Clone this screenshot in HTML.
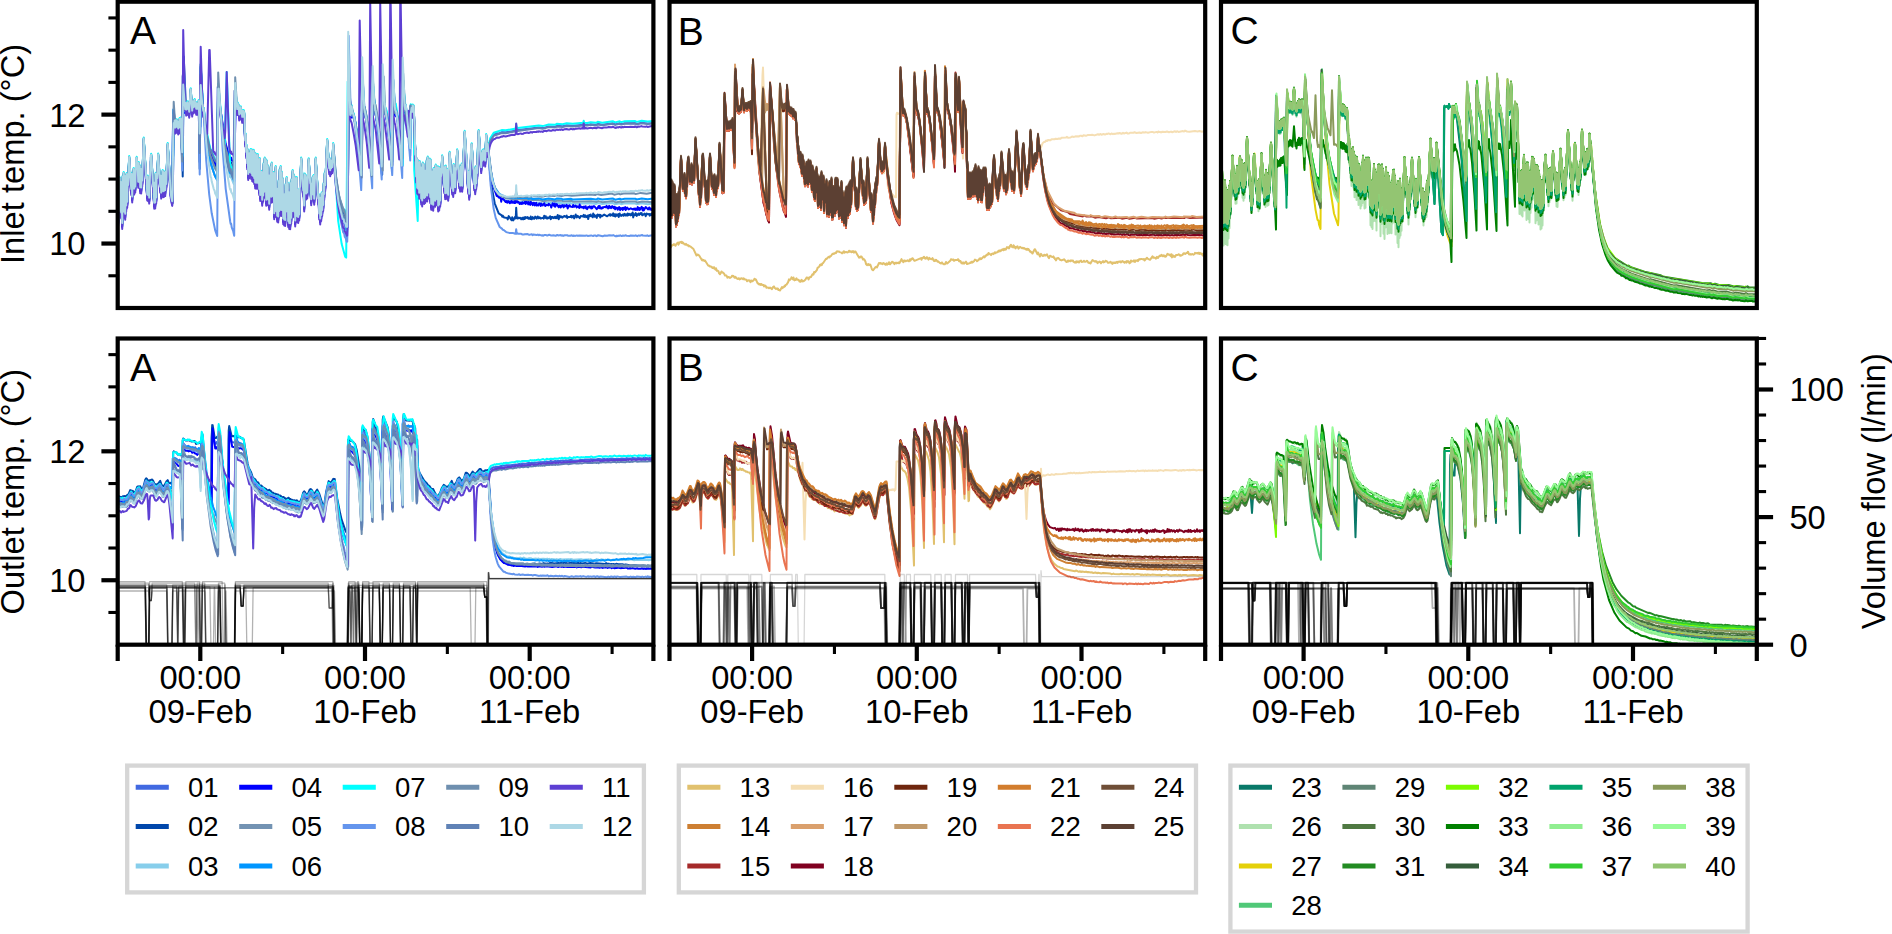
<!DOCTYPE html>
<html><head><meta charset="utf-8"><title>Inlet / outlet temperatures and volume flow</title>
<style>
html,body{margin:0;padding:0;background:#fff;overflow:hidden;}
svg{display:block;}
text{font-family:"Liberation Sans", sans-serif;fill:#000;}
</style></head><body>
<svg width="1892" height="934" viewBox="0 0 1892 934">
<rect width="1892" height="934" fill="#fff"/>
<defs>
<clipPath id="c00"><rect x="1177" y="17" width="5357" height="3063"/></clipPath>
<clipPath id="c01"><rect x="1177" y="3385" width="5357" height="3062"/></clipPath>
<clipPath id="c10"><rect x="6695" y="17" width="5357" height="3063"/></clipPath>
<clipPath id="c11"><rect x="6695" y="3385" width="5357" height="3062"/></clipPath>
<clipPath id="c20"><rect x="12210" y="17" width="5358" height="3063"/></clipPath>
<clipPath id="c21"><rect x="12210" y="3385" width="5358" height="3062"/></clipPath>
</defs>
<g transform="scale(0.1)">
<g clip-path="url(#c00)" fill="none" stroke-linejoin="round" stroke-linecap="butt">
<path d="M1177 1937l5 284 5-372 5 248 5-295 5 325 5-290 5 307 5-236 5 343 5-465 5 311 5-346 5 387 5-363 5 383 5-361 5 277 5-314 5 277 20-447 20 320 5-149 5 225 5-226 5 142 5-193 5 197 5-165 5 145 15-288 15 240 5-188 5 190 5-161 5 214 5-186 5 187 5-116 5 47 15-420 35 560 5-180 5 187 5-142 5 166 20-428 30 480 5-203 5 200 5-287 5 238 20-430 20 320 5-108 5 168 5-168 5 99 5-146 5 202 5-191 5 185 5-167 5 161 5-183 5 121 15-399 40 544 15-869 20 161 5-73 5 64 5-65 5 66 5-53 5 69 5-53 5 43 5-85 5 51 5-54 15 364 10-792 20 333 5-62 5 67 5-64 5 35 5-44 15 95 15-226 15 214 5-91 5 58 5-60 5 54 5-66 5 58 5-28 5 56 5-53 5 54 5-54 5 50 5-74 10 589 10-758 15 200 50 324 30 128 5-4 40 101 20 20 10-761 60 535 55 222 5 13 5-13 35 80 10-799 15 164 5-15 5 55 5-57 5 49 5-27 5 89 5-49 5 39 5-63 15 96 5-55 5 55 5-59 5 23 10 273 5-60 5 175 5-63 5 175 5-133 5 241 5-161 5 143 5-193 5 178 5-208 5 230 5-227 5 250 5-209 5 218 5-253 5 273 5-246 5 290 5-279 5 282 5-267 5 254 5-266 5 283 5-200 5 257 5-300 5 361 5-236 5 232 5-226 5 277 5-275 5 234 5-318 5 279 5-331 5 243 5-230 5 398 5-385 5 309 5-262 5 336 5-242 5 285 5-252 5 165 5-282 5 299 5-334 5 267 5-163 5 226 5-234 5 402 5-399 5 272 5-334 5 441 5-227 5 272 5-259 5 266 5-354 5 301 5-412 5 333 5-363 5 432 5-376 5 362 5-297 5 392 5-218 5 231 5-255 5 261 5-356 5 270 5-335 5 298 5-242 5 374 5-291 5 311 5-261 5 264 5-404 5 348 5-381 5 316 5-401 5 290 5-248 5 363 5-342 5 432 5-322 5 208 5-313 5 383 5-265 5 272 5-225 5 201 20-560 20 320 5-41 5 190 5-310 5 178 5-165 5 177 5-160 5 150 15-332 25 400 15-216 5 168 5-183 5 226 15-402 25 400 5-35 5 184 5-141 5 191 5-208 5 174 5-216 5 165 5-172 5 122 5-212 5 104 5-207 5 117 20-451 20 282 5-93 5 113 5-98 5 79 5-68 5 56 10-231 25 349 30 230 40 173 10 8 25 77 10 1 15-1593 20 424 5 29 5-76 5 52 20 29 40 209 35 269 10-856 20 344 15 39 25 157 30 294 10-808 15 235 35 210 40 483 10-1011 25 411 5-23 15 68 50 475 10-746 20 227 10-25 15 71 45 386 10-770 20 311 5-10 15 98 25 245 10-380 15 57 5-49 5 57 5-45 25 699 5-179 5 292 5-276 5 285 5-225 5 265 5-308 5 223 5-169 5 312 5-251 5 270 5-369 5 248 5-236 5 333 5-276 5 265 5-254 5 214 5-318 5 344 5-379 5 339 5-309 5 322 5-333 5 376 5-367 5 433 5-300 5 300 5-325 5 336 5-358 5 223 5-225 5 319 5-353 5 334 5-282 5 287 5-320 5 383 5-378 5 366 5-358 5 320 20-444 20 308 5-197 5 260 5-269 5 221 5-151 5 199 5-236 5 251 15-420 25 356 5-140 5 165 5-258 5 196 5-167 5 193 20-371 20 320 5-113 5 147 5-189 5 161 5-182 5 212 25-541 35 560 5-157 5 218 25-495 25 400 5-114 5 153 5-205 5 155 25-522 25 361 5-142 5 77 5-98 5 90 5-95 5 81 5-58 5 80 10-256 10 160 5-69 5 51 20-105 35-59 30-16 25 2 25-13 40 2 90-15 10-5 5-43 5 36 10 5 210-27 40 7 60-16 65 3 15-10 60 5 40-10 60 5 105-10 5-20 5 20 30 2 35-8 55 6 15-10 45 9 105-15 25 12 45-11 15 8 35-9 105-1 15 8 50-12 60 9 55-7" stroke="#4169E1" stroke-width="20"/>
<path d="M1177 1947l5 284 5-372 5 248 5-295 5 325 5-290 5 307 5-236 5 343 5-465 5 311 5-346 5 387 5-363 5 383 5-361 5 277 5-314 5 277 20-447 20 320 5-149 5 225 5-226 5 142 5-193 5 197 5-165 5 145 15-288 15 240 5-188 5 190 5-161 5 214 5-186 5 187 5-116 5 47 15-420 35 560 5-180 5 187 5-142 5 166 20-428 30 480 5-203 5 200 5-287 5 238 20-430 20 320 5-108 5 168 5-168 5 99 5-146 5 202 5-191 5 185 5-167 5 161 5-183 5 121 15-399 30 480 15 88 15-830 15 98 5-73 5 64 5-65 5 66 5-53 5 69 5-53 5 43 5-85 5 51 5-54 15 232 5 316 10-1199 25 561 5-64 5 35 5-44 15 95 15-226 15 214 5-91 5 58 5-60 5 54 5-66 5 58 5-28 5 56 5-53 5 54 5-54 5 50 5-74 10 649 10-912 15 274 40 297 45 213 5-3 40 104 20 22 10-775 65 522 55 196 5 11 5-14 5 25 15 8 10 28 10-668 20 104 5-57 5 49 5-27 5 89 5-49 5 39 5-63 15 96 5-55 5 55 5-59 5 23 10 273 5-60 5 175 5-63 5 175 5-133 5 241 5-161 5 143 5-193 5 178 5-208 5 230 5-227 5 250 5-209 5 218 5-253 5 273 5-246 5 290 5-279 5 282 5-267 5 254 5-266 5 283 5-200 5 257 5-300 5 361 5-236 5 232 5-226 5 277 5-275 5 234 5-318 5 279 5-331 5 243 5-230 5 398 5-385 5 309 5-262 5 336 5-242 5 285 5-252 5 165 5-282 5 299 5-334 5 267 5-163 5 226 5-234 5 402 5-399 5 272 5-334 5 441 5-227 5 272 5-259 5 266 5-354 5 301 5-412 5 333 5-363 5 432 5-376 5 362 5-297 5 392 5-218 5 231 5-255 5 261 5-356 5 270 5-335 5 298 5-242 5 374 5-291 5 311 5-261 5 264 5-404 5 348 5-381 5 316 5-401 5 290 5-248 5 363 5-342 5 432 5-322 5 208 5-313 5 383 5-265 5 272 5-225 5 201 20-560 20 320 5-41 5 190 5-310 5 178 5-165 5 177 5-160 5 150 15-332 25 400 15-216 5 168 5-183 5 226 15-402 25 400 5-35 5 184 5-141 5 191 5-208 5 174 5-216 5 165 5-172 5 122 5-212 5 104 5-207 5 117 20-451 20 282 5-93 5 113 5-98 5 79 5-68 5 56 10-231 20 302 20 137 20 100 40 121 10-1 5 26 20 35 5-5 10-1345 20 325 5-26 5 29 5-76 5 52 5-4 25 87 65 477 10-907 15 293 30 156 45 438 10-884 15 246 50 333 30 368 10-829 20 209 25 120 40 403 15-728 20 228 5-24 10 14 15 81 40 374 15-626 15 154 5-43 30 208 15 188 10-374 10 32 5-50 5 57 5-45 25 699 5-179 5 292 5-276 5 285 5-225 5 265 5-308 5 223 5-169 5 312 5-251 5 270 5-369 5 248 5-236 5 333 5-276 5 265 5-254 5 214 5-318 5 344 5-379 5 339 5-309 5 322 5-333 5 376 5-367 5 433 5-300 5 300 5-325 5 336 5-358 5 223 5-225 5 319 5-353 5 334 5-282 5 287 5-320 5 383 5-378 5 366 5-358 5 320 20-444 20 308 5-197 5 260 5-269 5 221 5-151 5 199 5-236 5 251 15-420 25 356 5-140 5 165 5-258 5 196 5-167 5 193 20-371 20 320 5-113 5 147 5-189 5 161 5-182 5 212 25-541 35 560 5-157 5 218 25-495 25 400 5-114 5 153 5-205 5 155 5-178 5 76 15-420 25 361 5-142 5 77 5-98 5 90 5-95 5 81 5-58 5 80 10-256 10 160 5-69 35 372 35 190 40 101 30 19 5 14 5-10 15 19 30 3 5 15 10-33 30 42 5-31 10 32 20-36 5 18 5-109 5 91 10 17 5-9 5 7 15-6 10 16 10-16 5 16 5-10 5 8 5-18 5 17 10-19 15 10 5-10 10 16 5-7 10 10 5-24 10 27 10-22 5 14 10 2 10-21 15 20 10-21 10 18 10-10 10 12 25-9 5 10 5-29 5 20 10-15 5 20 5-9 5 13 5-11 10 7 15-20 5 30 10-21 10-1 5 12 15-13 5 12 5-14 10 14 10-31 10 43 10-35 5 15 15-8 5 12 20-17 15 8 10-12 5 24 5-10 25 1 10-14 5 19 15-18 10 26 15-39 10 30 10-16 20 22 10-21 25 5 5-16 5 22 10-18 10 19 15-16 5 34 10-40 10 11 5-17 5 19 5-6 10 16 5-38 5 27 5-16 5 22 15-14 5 25 10-34 5 14 5-6 5 7 5-13 5 28 5-24 10 12 25-17 30 17 25-21 5 16 5-15 15 13 10-22 5 25 10-17 5 24 10-23 5 15 15-17 5 28 10-35 5 22 5-7 5 10 20-15 5 14 10-19 10 16 10-12 5 13 5-22 10 17 5-12 15 15 5-16 10 13 5-26 5 49 5-32 10 11 10-22 10 28 5-16 10 5 5-13 5 15 15-20 5 11 5-10 5 22 25-17 10 26 10-27 5 7 20-2 5 16 5-15 10 9 5-15 5 17 10-21" stroke="#0047AB" stroke-width="20"/>
<path d="M1177 1917l5 284 5-372 5 248 5-295 5 325 5-290 5 307 5-236 5 343 5-465 5 311 5-346 5 387 5-363 5 383 5-361 5 277 5-314 5 277 20-447 20 320 5-149 5 225 5-226 5 142 5-193 5 197 5-165 5 145 15-288 15 240 5-188 5 190 5-161 5 214 5-186 5 187 5-116 5 47 15-420 35 560 5-180 5 187 5-142 5 166 20-428 30 480 5-203 5 200 5-287 5 238 20-430 20 320 5-108 5 168 5-168 5 99 5-146 5 202 5-191 5 185 5-167 5 161 5-183 5 121 15-399 30 480 15 66 10-840 20 130 5-73 5 64 5-65 5 66 5-53 5 69 5-53 5 43 5-85 5 51 5-54 20 358 10-879 15 383 5-19 5 67 5-64 5 35 5-44 15 95 15-226 15 214 5-91 5 58 5-60 5 54 5-66 5 58 5-28 5 56 5-53 5 54 5-54 5 50 5-74 10 290 10-439 15 174 55 399 30 145 45 112 20 24 10-728 20 92 50 472 45 205 5 16 5-11 30 79 15-872 20 123 5-57 5 49 5-27 5 89 5-49 5 39 5-63 15 96 5-55 5 55 5-59 5 23 10 273 5-60 5 175 5-63 5 175 5-133 5 241 5-161 5 143 5-193 5 178 5-208 5 230 5-227 5 250 5-209 5 218 5-253 5 273 5-246 5 290 5-279 5 282 5-267 5 254 5-266 5 283 5-200 5 257 5-300 5 361 5-236 5 232 5-226 5 277 5-275 5 234 5-318 5 279 5-331 5 243 5-230 5 398 5-385 5 309 5-262 5 336 5-242 5 285 5-252 5 165 5-282 5 299 5-334 5 267 5-163 5 226 5-234 5 402 5-399 5 272 5-334 5 441 5-227 5 272 5-259 5 266 5-354 5 301 5-412 5 333 5-363 5 432 5-376 5 362 5-297 5 392 5-218 5 231 5-255 5 261 5-356 5 270 5-335 5 298 5-242 5 374 5-291 5 311 5-261 5 264 5-404 5 348 5-381 5 316 5-401 5 290 5-248 5 363 5-342 5 432 5-322 5 208 5-313 5 383 5-265 5 272 5-225 5 201 20-560 20 320 5-41 5 190 5-310 5 178 5-165 5 177 5-160 5 150 15-332 25 400 15-216 5 168 5-183 5 226 15-402 25 400 5-35 5 184 5-141 5 191 5-208 5 174 5-216 5 165 5-172 5 122 5-212 5 104 5-207 5 117 20-451 20 282 5-93 5 113 5-98 5 79 5-68 5 56 10-231 15 233 40 271 40 139 10 3 25 66 10-2 5 11 10-1390 20 338 5 29 5-76 5 52 20 39 40 234 30 257 15-845 15 278 20 72 25 163 30 307 10-869 15 260 35 216 40 480 10-903 15 225 35 221 40 435 10-899 25 335 10-14 15 78 45 458 10-832 15 248 5 36 5-44 10 65 35 317 10-385 10 41 5-34 5 57 5-45 25 699 5-179 5 292 5-276 5 285 5-225 5 265 5-308 5 223 5-169 5 312 5-251 5 270 5-369 5 248 5-236 5 333 5-276 5 265 5-254 5 214 5-318 5 344 5-379 5 339 5-309 5 322 5-333 5 376 5-367 5 433 5-300 5 300 5-325 5 336 5-358 5 223 5-225 5 319 5-353 5 334 5-282 5 287 5-320 5 383 5-378 5 366 5-358 5 320 20-444 20 308 5-197 5 260 5-269 5 221 5-151 5 199 5-236 5 251 15-420 25 356 5-140 5 165 5-258 5 196 5-167 5 193 20-371 20 320 5-113 5 147 5-189 5 161 5-182 5 212 25-541 35 560 5-157 5 218 25-495 25 400 5-114 5 153 5-205 5 155 5-178 5 76 15-420 25 361 5-142 5 77 5-98 5 90 5-95 5 81 5-58 5 80 10-256 10 160 5-69 30 275 25 131 20 62 40 63 65 34 100 9 5-42 5 37 10 7 95 2 15 8 25-7 10 9 65-5 40 12 60-10 65 9 15-8 50 2 10 8 80-6 20 7 180-5 55 7 15-9 45 10 105-10 25 12 45-10 15 9 35-9 105 1 15 9 50-11 60 10 55-7" stroke="#87CEEB" stroke-width="20"/>
<path d="M1177 1957l5 284 5-372 5 248 5-295 5 325 5-290 5 307 5-236 5 343 5-465 5 311 5-346 5 387 5-363 5 383 5-361 5 277 5-314 5 277 20-447 20 320 5-149 5 225 5-226 5 142 5-193 5 197 5-165 5 145 15-288 15 240 5-188 5 190 5-161 5 214 5-186 5 187 5-116 5 47 15-420 35 560 5-180 5 187 5-142 5 166 20-428 30 480 5-203 5 200 5-287 5 238 20-430 20 320 5-108 5 168 5-168 5 99 5-146 5 202 5-191 5 185 5-167 5 161 5-183 5 121 15-399 30 480 20 68 10-825 15 97 5-57 5 64 5-65 5 66 5-53 5 69 5-53 5 43 5-85 5 51 5-54 15 323 10-871 20 453 5-62 5 67 5-64 5 35 5-44 15 95 15-226 15 214 5-91 5 58 5-60 5 54 5-66 5 58 5-28 5 56 5-53 5 54 5-54 5 50 5-74 15 219 5-591 25 469 5-19 25 208 30 144 15 61 5-5 40 102 20 20 10-700 20 169 5-12 50 326 45 141 5 12 5-16 5 25 15 6 10 28 15-550 5 32 5-43 5 55 5-57 5 49 5-27 5 89 5-49 5 39 5-63 15 96 5-55 5 55 5-59 5 23 10 273 5-60 5 175 5-63 5 175 5-133 5 241 5-161 5 143 5-193 5 178 5-208 5 230 5-227 5 250 5-209 5 218 5-253 5 273 5-246 5 290 5-279 5 282 5-267 5 254 5-266 5 283 5-200 5 257 5-300 5 361 5-236 5 232 5-226 5 277 5-275 5 234 5-318 5 279 5-331 5 243 5-230 5 398 5-385 5 309 5-262 5 336 5-242 5 285 5-252 5 165 5-282 5 299 5-334 5 267 5-163 5 226 5-234 5 402 5-399 5 272 5-334 5 441 5-227 5 272 5-259 5 266 5-354 5 301 5-412 5 333 5-363 5 432 5-376 5 362 5-297 5 392 5-218 5 231 5-255 5 261 5-356 5 270 5-335 5 298 5-242 5 374 5-291 5 311 5-261 5 264 5-404 5 348 5-381 5 316 5-401 5 290 5-248 5 363 5-342 5 432 5-322 5 208 5-313 5 383 5-265 5 272 5-225 5 201 20-560 20 320 5-41 5 190 5-310 5 178 5-165 5 177 5-160 5 150 15-332 25 400 15-216 5 168 5-183 5 226 15-402 25 400 5-35 5 184 5-141 5 191 5-208 5 174 5-216 5 165 5-172 5 122 5-212 5 104 5-207 5 117 20-451 20 282 5-93 5 113 5-98 5 79 5-68 5 56 10-231 20 273 40 293 40 150 10 5 25 70 10-1 10-1540 20 419 5 29 5-76 5 52 25 50 40 229 30 249 10-731 15 167 25 106 25 194 25 283 10-824 15 200 40 193 35 326 10-720 15 214 5-10 25 142 45 426 10-910 25 422 10-15 15 75 45 444 10-706 65 477 10-343 15 62 5-60 5 57 5-45 25 699 5-179 5 292 5-276 5 285 5-225 5 265 5-308 5 223 5-169 5 312 5-251 5 270 5-369 5 248 5-236 5 333 5-276 5 265 5-254 5 214 5-318 5 344 5-379 5 339 5-309 5 322 5-333 5 376 5-367 5 433 5-300 5 300 5-325 5 336 5-358 5 223 5-225 5 319 5-353 5 334 5-282 5 287 5-320 5 383 5-378 5 366 5-358 5 320 20-444 20 308 5-197 5 260 5-269 5 221 5-151 5 199 5-236 5 251 15-420 25 356 5-140 5 165 5-258 5 196 5-167 5 193 20-371 20 320 5-113 5 147 5-189 5 161 5-182 5 212 25-541 35 560 5-157 5 218 25-495 25 400 5-114 5 153 5-205 5 155 5-178 5 76 15-420 25 361 5-142 5 77 5-98 5 90 5-95 5 81 5-58 5 80 10-256 10 160 5-69 50 365 40 113 5-30 5 34 15 14 5-12 10 13 5 39 5-27 15-1 25 31 10-9 5 16 10-16 15 22 5-19 10 14 5-18 10 16 10-5 5 8 5-30 5 31 10-64 5 55 5 5 10-10 15 23 10-12 5 13 10-18 5 16 15-14 5 9 5-23 5 29 10-23 15 28 5-23 15 28 5-32 20 34 5-24 5 16 5-14 5 25 15-26 5 28 5-10 10 9 10-20 10 4 5 22 5-26 15 20 15-23 10 28 15-11 15 5 5-15 20 16 5 21 15-44 15 27 5-24 5 33 15-27 20 32 5-18 5 6 5-6 5 20 15-25 5 11 5-7 5 20 10-20 10 9 10-14 10 36 10-29 10-4 5 14 25 3 5-20 10 19 15-12 10 18 10-11 15 16 5-33 5 28 5-10 15 12 10-7 5 14 5-17 10 10 5-14 5 24 5-6 5 12 10-23 10 6 5-11 5 10 5-6 5 18 5-20 5 17 10-21 10 0 25 30 20-32 5 23 5-24 5 21 10 6 10-13 5 9 5-10 25-5 5 8 5-16 15 25 10-25 5 19 10-10 5 13 10-20 15 21 5-15 10 26 5-20 10 11 5-5 5 18 15-26 10 30 5-20 10 8 5-9 5 21 5-24 5 14 15-20 5 29 15-24 15 18 20-11 25 12 10-10 10 15 5-15 15 14 5-28 10 25 5-16 5 20 20-32 10 36 5-25 5 26 20-34 25 23 10-19 10 22 5-12 10 15 15-23" stroke="#0000FF" stroke-width="20"/>
<path d="M1177 1927l5 284 5-372 5 248 5-295 5 325 5-290 5 307 5-236 5 343 5-465 5 311 5-346 5 387 5-363 5 383 5-361 5 277 5-314 5 277 20-447 20 320 5-149 5 225 5-226 5 142 5-193 5 197 5-165 5 145 15-288 15 240 5-188 5 190 5-161 5 214 5-186 5 187 5-116 5 47 15-420 35 560 5-180 5 187 5-142 5 166 20-428 30 480 5-203 5 200 5-287 5 238 20-430 20 320 5-108 5 168 5-168 5 99 5-146 5 202 5-191 5 185 5-167 5 161 5-183 5 121 15-399 30 480 20 99 10-919 25 167 5-65 5 66 5-53 5 69 5-53 5 43 5-85 5 51 5-54 15 386 10-840 20 359 5-62 5 67 5-64 5 35 5-44 15 95 15-226 15 214 5-91 5 58 5-60 5 54 5-66 5 58 5-28 5 56 5-53 5 54 5-54 5 50 5-74 10 246 10-605 20 399 35 327 45 255 45 122 15 23 5-4 10-816 75 517 45 165 5 13 5-14 5 26 15 10 10 30 10-833 20 220 5-57 5 49 5-27 5 89 5-49 5 39 5-63 15 96 5-55 5 55 5-59 5 23 10 273 5-60 5 175 5-63 5 175 5-133 5 241 5-161 5 143 5-193 5 178 5-208 5 230 5-227 5 250 5-209 5 218 5-253 5 273 5-246 5 290 5-279 5 282 5-267 5 254 5-266 5 283 5-200 5 257 5-300 5 361 5-236 5 232 5-226 5 277 5-275 5 234 5-318 5 279 5-331 5 243 5-230 5 398 5-385 5 309 5-262 5 336 5-242 5 285 5-252 5 165 5-282 5 299 5-334 5 267 5-163 5 226 5-234 5 402 5-399 5 272 5-334 5 441 5-227 5 272 5-259 5 266 5-354 5 301 5-412 5 333 5-363 5 432 5-376 5 362 5-297 5 392 5-218 5 231 5-255 5 261 5-356 5 270 5-335 5 298 5-242 5 374 5-291 5 311 5-261 5 264 5-404 5 348 5-381 5 316 5-401 5 290 5-248 5 363 5-342 5 432 5-322 5 208 5-313 5 383 5-265 5 272 5-225 5 201 20-560 20 320 5-41 5 190 5-310 5 178 5-165 5 177 5-160 5 150 15-332 25 400 15-216 5 168 5-183 5 226 15-402 25 400 5-35 5 184 5-141 5 191 5-208 5 174 5-216 5 165 5-172 5 122 5-212 5 104 5-207 5 117 20-451 20 282 5-93 5 113 5-98 5 79 5-68 5 56 10-231 20 266 25 173 20 96 40 116 10-1 5 26 20 34 5-5 10-1466 20 430 5 29 5-76 5 52 30 89 60 451 15-801 15 233 5-14 30 174 40 390 15-809 20 277 40 204 25 266 10-749 15 191 35 196 40 391 15-693 20 210 5-18 10 26 15 97 40 419 10-918 20 368 5-6 5 12 35 311 10-359 15 61 5-59 5 57 5-45 25 699 5-179 5 292 5-276 5 285 5-225 5 265 5-308 5 223 5-169 5 312 5-251 5 270 5-369 5 248 5-236 5 333 5-276 5 265 5-254 5 214 5-318 5 344 5-379 5 339 5-309 5 322 5-333 5 376 5-367 5 433 5-300 5 300 5-325 5 336 5-358 5 223 5-225 5 319 5-353 5 334 5-282 5 287 5-320 5 383 5-378 5 366 5-358 5 320 20-444 20 308 5-197 5 260 5-269 5 221 5-151 5 199 5-236 5 251 15-420 25 356 5-140 5 165 5-258 5 196 5-167 5 193 20-371 20 320 5-113 5 147 5-189 5 161 5-182 5 212 25-541 35 560 5-157 5 218 25-495 25 400 5-114 5 153 5-205 5 155 5-178 5 76 15-420 25 361 5-142 5 77 5-98 5 90 5-95 5 81 5-58 5 80 10-256 10 160 5-69 25 225 30 159 25 66 40 53 65 29 90 11 10-46 5 46 5-7 65 14 155 0 40 12 60-10 65 10 15-9 50 3 10 8 80-6 20 8 180-5 55 8 15-9 45 11 105-11 25 13 45-10 15 9 35-8 105 1 15 9 50-11 110 8" stroke="#7393B3" stroke-width="20"/>
<path d="M1177 1917l5 284 5-372 5 248 5-295 5 325 5-290 5 307 5-236 5 343 5-465 5 311 5-346 5 387 5-363 5 383 5-361 5 277 5-314 5 277 20-447 20 320 5-149 5 225 5-226 5 142 5-193 5 197 5-165 5 145 15-288 15 240 5-188 5 190 5-161 5 214 5-186 5 187 5-116 5 47 15-420 35 560 5-180 5 187 5-142 5 166 20-428 30 480 5-203 5 200 5-287 5 238 20-430 20 320 5-108 5 168 5-168 5 99 5-146 5 202 5-191 5 185 5-167 5 161 5-183 5 121 15-399 30 480 15 96 10-920 20 180 5-73 5 64 5-65 5 66 5-53 5 69 5-53 5 43 5-85 5 51 5-54 20 376 10-885 15 373 5-21 5 67 5-64 5 35 5-44 15 95 15-226 15 214 5-91 5 58 5-60 5 54 5-66 5 58 5-28 5 56 5-53 5 54 5-54 5 50 5-74 15 326 5-670 25 441 5-20 35 348 30 179 45 141 25 48 10-890 70 600 45 203 5 15 5-11 35 92 10-936 20 215 5-57 5 49 5-27 5 89 5-49 5 39 5-63 15 96 5-55 5 55 5-59 5 23 10 273 5-60 5 175 5-63 5 175 5-133 5 241 5-161 5 143 5-193 5 178 5-208 5 230 5-227 5 250 5-209 5 218 5-253 5 273 5-246 5 290 5-279 5 282 5-267 5 254 5-266 5 283 5-200 5 257 5-300 5 361 5-236 5 232 5-226 5 277 5-275 5 234 5-318 5 279 5-331 5 243 5-230 5 398 5-385 5 309 5-262 5 336 5-242 5 285 5-252 5 165 5-282 5 299 5-334 5 267 5-163 5 226 5-234 5 402 5-399 5 272 5-334 5 441 5-227 5 272 5-259 5 266 5-354 5 301 5-412 5 333 5-363 5 432 5-376 5 362 5-297 5 392 5-218 5 231 5-255 5 261 5-356 5 270 5-335 5 298 5-242 5 374 5-291 5 311 5-261 5 264 5-404 5 348 5-381 5 316 5-401 5 290 5-248 5 363 5-342 5 432 5-322 5 208 5-313 5 383 5-265 5 272 5-225 5 201 20-560 20 320 5-41 5 190 5-310 5 178 5-165 5 177 5-160 5 150 15-332 25 400 15-216 5 168 5-183 5 226 15-402 25 400 5-35 5 184 5-141 5 191 5-208 5 174 5-216 5 165 5-172 5 122 5-212 5 104 5-207 5 117 20-451 20 282 5-93 5 113 5-98 5 79 5-68 5 56 10-231 30 367 30 209 40 156 10 6 25 72 10-1 10-1452 20 312 5 29 5-76 5 52 25 70 65 513 10-922 20 308 5-11 25 148 45 478 15-805 20 204 30 143 35 366 10-695 25 208 5-29 20 101 45 427 10-820 20 299 10 11 15 73 40 340 10-632 5-13 15 182 5 36 5-44 30 238 15 268 10-487 10 32 5-47 5 57 5-45 25 699 5-179 5 292 5-276 5 285 5-225 5 265 5-308 5 223 5-169 5 312 5-251 5 270 5-369 5 248 5-236 5 333 5-276 5 265 5-254 5 214 5-318 5 344 5-379 5 339 5-309 5 322 5-333 5 376 5-367 5 433 5-300 5 300 5-325 5 336 5-358 5 223 5-225 5 319 5-353 5 334 5-282 5 287 5-320 5 383 5-378 5 366 5-358 5 320 20-444 20 308 5-197 5 260 5-269 5 221 5-151 5 199 5-236 5 251 15-420 25 356 5-140 5 165 5-258 5 196 5-167 5 193 20-371 20 320 5-113 5 147 5-189 5 161 5-182 5 212 25-541 35 560 5-157 5 218 25-495 25 400 5-114 5 153 5-205 5 155 5-178 5 76 15-420 25 361 5-142 5 77 5-98 5 90 5-95 5 81 5-58 5 80 10-256 10 160 5-69 30 260 25 122 20 57 40 59 65 31 100 7 5-41 5 36 10 7 95 1 15 8 25-7 10 8 65-5 40 11 60-10 65 9 15-9 50 2 10 8 80-7 20 7 180-7 55 8 15-10 45 10 105-11 25 12 45-10 15 8 35-8 105 0 15 8 50-11 60 9 55-7" stroke="#0096FF" stroke-width="20"/>
<path d="M1177 1907l5 284 5-372 5 248 5-295 5 325 5-290 5 307 5-236 5 343 5-465 5 311 5-346 5 387 5-363 5 383 5-361 5 277 5-314 5 277 20-447 20 320 5-149 5 225 5-226 5 142 5-193 5 197 5-165 5 145 15-288 15 240 5-188 5 190 5-161 5 214 5-186 5 187 5-116 5 47 15-420 35 560 5-180 5 187 5-142 5 166 20-428 30 480 5-203 5 200 5-287 5 238 20-430 20 320 5-108 5 168 5-168 5 99 5-146 5 202 5-191 5 185 5-167 5 161 5-183 5 121 15-399 30 480 20 67 10-838 15 112 5-58 5 64 5-65 5 66 5-53 5 69 5-53 5 43 5-85 5 51 5-54 15 384 10-861 20 382 5-62 5 67 5-64 5 35 5-44 15 95 15-226 15 214 5-91 5 58 5-60 5 54 5-66 5 58 5-28 5 56 5-53 5 54 5-54 5 50 5-74 10 247 10-604 25 454 5-19 25 212 30 148 15 62 5-4 40 104 20 21 10-784 40 430 25 173 20-720 35 953 5-13 30 71 15-868 20 218 5-57 5 49 5-27 5 89 5-49 5 39 5-63 15 96 5-55 5 55 5-59 5 23 10 273 5-60 5 175 5-63 5 175 5-133 5 241 5-161 5 143 5-193 5 178 5-208 5 230 5-227 5 250 5-209 5 218 5-253 5 273 5-246 5 290 5-279 5 282 5-267 5 254 5-266 5 283 5-200 5 257 5-300 5 361 5-236 5 232 5-226 5 277 5-275 5 234 5-318 5 279 5-331 5 243 5-230 5 398 5-385 5 309 5-262 5 336 5-242 5 285 5-252 5 165 5-282 5 299 5-334 5 267 5-163 5 226 5-234 5 402 5-399 5 272 5-334 5 441 5-227 5 272 5-259 5 266 5-354 5 301 5-412 5 333 5-363 5 432 5-376 5 362 5-297 5 392 5-218 5 231 5-255 5 261 5-356 5 270 5-335 5 298 5-242 5 374 5-291 5 311 5-261 5 264 5-404 5 348 5-381 5 316 5-401 5 290 5-248 5 363 5-342 5 432 5-322 5 208 5-313 5 383 5-265 5 272 5-225 5 201 20-560 20 320 5-41 5 190 5-310 5 178 5-165 5 177 5-160 5 150 15-332 25 400 15-216 5 168 5-183 5 226 15-402 25 400 5-35 5 184 5-141 5 191 5-208 5 174 5-216 5 165 5-172 5 122 5-212 5 104 5-207 5 117 20-451 20 282 5-93 5 113 5-98 5 79 5-68 5 56 10-231 50 782 35 229 35 126 10 9 15-1760 15 270 5-23 5 77 5-41 5 29 5-76 5 49 15 35 40 252 35 331 10-875 20 256 15 22 15 93 45 450 10-857 15 216 35 165 40 390 10-664 15 142 5-27 5 79 5-28 10 29 15 93 40 346 10-634 20 184 5-65 25 155 45 467 10-758 60 550 10-406 15 58 5-56 5 57 5-45 5 644 35 510 10-558 5 265 5-308 5 223 5-169 5 312 5-251 5 270 5-369 5 248 5-236 5 333 5-276 5 265 5-254 5 214 5-318 5 344 5-379 5 339 5-309 5 322 5-333 5 376 5-367 5 433 5-300 5 300 5-325 5 336 5-358 5 223 5-225 5 319 5-353 5 334 5-282 5 287 5-320 5 383 5-378 5 366 5-358 5 320 20-444 20 308 5-197 5 260 5-269 5 221 5-151 5 199 5-236 5 251 15-420 25 356 5-140 5 165 5-258 5 196 5-167 5 193 20-371 20 320 5-113 5 147 5-189 5 161 5-182 5 212 25-541 35 560 5-157 5 218 25-495 25 400 5-114 5 153 5-205 5 155 25-522 25 361 5-142 5 77 5-98 5 90 5-95 5 81 5-58 5 80 10-256 10 160 5-69 5 51 20-99 35-55 80-27 40 2 90-15 10-5 5-43 5 36 10 5 210-27 40 7 60-16 65 3 15-10 60 5 40-10 60 5 105-10 5-20 5 20 30 2 35-8 55 6 15-10 45 9 105-15 25 12 45-11 15 8 35-9 105-1 15 8 50-12 60 9 55-7" stroke="#00FFFF" stroke-width="20"/>
<path d="M1177 1937l5 284 5-372 5 248 5-295 5 325 5-290 5 307 5-236 5 343 5-465 5 311 5-346 5 387 5-363 5 383 5-361 5 277 5-314 5 277 5-246 5 79 10-280 20 320 5-149 5 225 5-226 5 142 5-193 5 197 5-165 5 145 10-280 5-8 5 80 5-5 5 165 5-188 5 190 5-161 5 214 5-186 5 187 5-116 5 47 15-420 25 400 5 3 5 157 5-180 5 187 5-142 5 166 15-420 5-8 20 320 5-1 5 161 5-203 5 200 5-287 5 238 5-229 5 35 10-236 20 320 5-108 5 168 5-168 5 99 5-146 5 202 5-191 5 185 5-167 5 161 5-183 5 121 15-399 30 480 5 65 10 46 10-903 10 76 5 2 5 70 5-73 5 64 5-65 5 66 5-53 5 69 5-53 5 43 5-85 5 51 5-1 15 445 5-939 25 346 5-62 5 67 5-64 5 35 5-44 5 69 5-41 5 67 15-226 15 214 5-91 5 58 5-60 5 54 5-66 5 58 5-28 5 56 5-53 5 54 5-54 5 50 5-74 10 716 5-789 5-141 15 243 5 11 10 84 25 451 30 338 25 190 35 171 20 56 10-1408 25 188 20 362 30 386 45 327 5 25 5-2 5 36 15 38 10 45 10-1397 20 151 5-57 5 49 5-27 5 89 5-49 5 39 5-63 5 63 5-29 5 62 5-55 5 55 5-59 5 23 5 50 5 223 5-60 5 175 5-63 5 175 5-133 5 241 5-161 5 143 5-193 5 178 5-208 5 230 5-227 5 250 5-209 5 218 5-253 5 273 5-246 5 290 5-279 5 282 5-267 5 254 5-266 5 283 5-200 5 257 5-300 5 361 5-236 5 232 5-226 5 277 5-275 5 234 5-318 5 279 5-331 5 243 5-230 5 398 5-385 5 309 5-262 5 336 5-242 5 285 5-252 5 165 5-282 5 299 5-334 5 267 5-163 5 226 5-234 5 402 5-399 5 272 5-334 5 441 5-227 5 272 5-259 5 266 5-354 5 301 5-412 5 333 5-363 5 432 5-376 5 362 5-297 5 392 5-218 5 231 5-255 5 261 5-356 5 270 5-335 5 298 5-242 5 374 5-291 5 311 5-261 5 264 5-404 5 348 5-381 5 316 5-401 5 290 5-248 5 363 5-342 5 432 5-322 5 208 5-313 5 383 5-265 5 272 5-225 5 201 5-267 5-13 10-280 20 320 5-41 5 190 5-310 5 178 5-165 5 177 5-160 5 150 15-332 15 240 5 11 5 149 5-158 5 92 5-150 5 168 5-183 5 226 15-402 25 400 5-35 5 184 5-141 5 191 5-208 5 174 5-216 5 165 5-172 5 122 5-212 5 104 5-207 5 117 20-451 20 282 5-93 5 113 5-98 5 79 5-68 5 56 10-231 30 421 30 253 40 190 10 11 5 31 10 15 10 37 5-2 5-169 5-1596 5-293 20 771 5 29 5-76 5 52 10 23 15 75 40 357 25 312 5-186 5-837 20 243 5-29 25 172 50 619 5-830 5-145 10 131 40 275 35 481 10-931 25 275 5-32 20 119 45 525 5-156 5-738 20 261 5 3 10 33 15 117 40 509 10-903 20 237 5-44 10 81 35 454 5-462 5-53 10 34 5-50 5 57 5-45 10 205 5 277 5-44 5 261 5-179 5 292 5-276 5 285 5-225 5 265 5-308 5 223 5-169 5 312 5-251 5 270 5-369 5 248 5-236 5 333 5-276 5 265 5-254 5 214 5-318 5 344 5-379 5 339 5-309 5 322 5-333 5 376 5-367 5 433 5-300 5 300 5-325 5 336 5-358 5 223 5-225 5 319 5-353 5 334 5-282 5 287 5-320 5 383 5-378 5 366 5-358 5 320 5-234 5-18 10-192 10 160 5 23 5 125 5-197 5 260 5-269 5 221 5-151 5 199 5-236 5 251 5-229 10-191 25 356 5-140 5 165 5-258 5 196 5-167 5 193 5-167 5-12 10-192 20 320 5-113 5 147 5-189 5 161 5-182 5 212 25-541 30 430 5 130 5-157 5 218 20-487 5-8 15 240 5 22 5 138 5-114 5 153 5-205 5 155 5-178 5 76 15-420 25 361 5-142 5 77 5-98 5 90 5-95 5 81 5-58 5 80 10-256 10 160 5-69 30 396 30 234 20 88 40 91 25 19 5 9 10 2 25 21 30 8 35 0 25 9 5-5 5-41 5 46 5-7 10 7 30-1 10 7 15 2 5-4 35-1 15 8 25-6 10 8 5-6 35 6 10-5 10 6 5-5 20 7 10-2 10 6 10-7 20 0 10 5 20-8 15 6 15 2 10-4 25 6 15-9 10 5 25-3 5 6 10-5 10 7 15-6 25-1 10 6 20 0 10-5 20 7 5-4 15 3 15-5 5 3 25-3 55 4 15-4 10 6 35-6 20 7 5-5 15-1 15 7 15-10 45 10 15-6 30 2 20-5 30 3 10-5 25 12 10-6 5 5 10-5 5 3 15-7 15 8 10-6 15 3 10-5 15 5 30 1 10-5 40 4 10-5 15 9 15-8 10 3 25-7 5 5 35 3 10-5 10 7 40-8 10 5" stroke="#6495ED" stroke-width="20"/>
<path d="M1177 1917l5 284 5-372 5 248 5-295 5 325 5-290 5 307 5-236 5 343 5-465 5 311 5-346 5 387 5-363 5 383 5-361 5 277 5-314 5 277 20-447 20 320 5-149 5 225 5-226 5 142 5-193 5 197 5-165 5 145 15-288 15 240 5-188 5 190 5-161 5 214 5-186 5 187 5-116 5 47 15-420 35 560 5-180 5 187 5-142 5 166 20-428 30 480 5-203 5 200 5-287 5 238 20-430 20 320 5-108 5 168 5-168 5 99 5-146 5 202 5-191 5 185 5-167 5 161 5-183 5 121 15-399 30 480 15 92 15-995 15 223 5-37 5 64 5-65 5 66 5-53 5 69 5-53 5 43 5-85 10 60 15 366 5-862 25 338 5-62 5 67 5-64 5 35 5-44 15 95 15-226 15 214 5-91 5 58 5-60 5 54 5-66 5 58 5-28 5 56 5-53 5 54 5-54 5 50 5-74 10 398 5-656 20 306 5-8 5 57 5-24 35 309 30 159 45 123 25 42 10-992 20 357 40 355 60 264 5-12 35 87 10-1003 20 319 5-57 5 49 5-27 5 89 5-49 5 39 5-63 15 96 5-55 5 55 5-59 5 23 10 273 5-60 5 175 5-63 5 175 5-133 5 241 5-161 5 143 5-193 5 178 5-208 5 230 5-227 5 250 5-209 5 218 5-253 5 273 5-246 5 290 5-279 5 282 5-267 5 254 5-266 5 283 5-200 5 257 5-300 5 361 5-236 5 232 5-226 5 277 5-275 5 234 5-318 5 279 5-331 5 243 5-230 5 398 5-385 5 309 5-262 5 336 5-242 5 285 5-252 5 165 5-282 5 299 5-334 5 267 5-163 5 226 5-234 5 402 5-399 5 272 5-334 5 441 5-227 5 272 5-259 5 266 5-354 5 301 5-412 5 333 5-363 5 432 5-376 5 362 5-297 5 392 5-218 5 231 5-255 5 261 5-356 5 270 5-335 5 298 5-242 5 374 5-291 5 311 5-261 5 264 5-404 5 348 5-381 5 316 5-401 5 290 5-248 5 363 5-342 5 432 5-322 5 208 5-313 5 383 5-265 5 272 5-225 5 201 20-560 20 320 5-41 5 190 5-310 5 178 5-165 5 177 5-160 5 150 15-332 25 400 15-216 5 168 5-183 5 226 15-402 25 400 5-35 5 184 5-141 5 191 5-208 5 174 5-216 5 165 5-172 5 122 5-212 5 104 5-207 5 117 20-451 20 282 5-93 5 113 5-98 5 79 5-68 5 56 10-231 30 340 30 191 40 144 10 3 25 68 10-1 10-1358 20 282 5 29 5-76 40 192 55 425 10-867 20 313 5-53 20 95 50 402 10-716 25 251 5-53 30 185 40 468 10-939 15 325 25 119 40 342 10-715 15 191 35 157 40 313 10-671 5-18 15 250 30 145 20 214 10-365 15 60 5-58 5 57 5-45 25 699 5-179 5 292 5-276 5 285 5-225 5 265 5-308 5 223 5-169 5 312 5-251 5 270 5-369 5 248 5-236 5 333 5-276 5 265 5-254 5 214 5-318 5 344 5-379 5 339 5-309 5 322 5-333 5 376 5-367 5 433 5-300 5 300 5-325 5 336 5-358 5 223 5-225 5 319 5-353 5 334 5-282 5 287 5-320 5 383 5-378 5 366 5-358 5 320 20-444 20 308 5-197 5 260 5-269 5 221 5-151 5 199 5-236 5 251 15-420 25 356 5-140 5 165 5-258 5 196 5-167 5 193 20-371 20 320 5-113 5 147 5-189 5 161 5-182 5 212 25-541 35 560 5-157 5 218 25-495 25 400 5-114 5 153 5-205 5 155 5-178 5 76 15-420 25 361 5-142 5 77 5-98 5 90 5-95 5 81 5-58 5 80 10-256 10 160 5-69 45 360 40 111 20 29 30 16 35 13 105-1 10-50 5 49 55 2 155-11 40 9 60-13 70 6 10-9 60 7 40-8 60 6 180-12 55 6 15-10 45 9 105-14 25 11 45-11 15 8 35-9 105-2 15 8 50-12 60 8 65-11" stroke="#6F8FAF" stroke-width="20"/>
<path d="M1177 1927l5 284 5-372 5 248 5-295 5 325 5-290 5 307 5-236 5 343 5-465 5 311 5-346 5 387 5-363 5 383 5-361 5 277 5-314 5 277 20-447 20 320 5-149 5 225 5-226 5 142 5-193 5 197 5-165 5 145 15-288 15 240 5-188 5 190 5-161 5 214 5-186 5 187 5-116 5 47 15-420 35 560 5-180 5 187 5-142 5 166 20-428 30 480 5-203 5 200 5-287 5 238 20-430 20 320 5-108 5 168 5-168 5 99 5-146 5 202 5-191 5 185 5-167 5 161 5-183 5 121 15-399 30 480 15 75 15-899 15 165 5-58 5 64 5-65 5 66 5-53 5 69 5-53 5 43 5-85 5 51 5-54 15 344 10-928 20 489 5-62 5 67 5-64 5 35 5-44 15 95 15-226 15 214 5-91 5 58 5-60 5 54 5-66 5 58 5-28 5 56 5-53 5 54 5-54 5 50 5-74 10 509 10-886 20 417 30 231 45 211 5-4 40 104 20 21 15-723 60 590 45 201 5 16 5-11 35 91 15-882 15 187 5-46 5 55 5-57 5 49 5-27 5 89 5-49 5 39 5-63 15 96 5-55 5 55 5-59 5 23 10 273 5-60 5 175 5-63 5 175 5-133 5 241 5-161 5 143 5-193 5 178 5-208 5 230 5-227 5 250 5-209 5 218 5-253 5 273 5-246 5 290 5-279 5 282 5-267 5 254 5-266 5 283 5-200 5 257 5-300 5 361 5-236 5 232 5-226 5 277 5-275 5 234 5-318 5 279 5-331 5 243 5-230 5 398 5-385 5 309 5-262 5 336 5-242 5 285 5-252 5 165 5-282 5 299 5-334 5 267 5-163 5 226 5-234 5 402 5-399 5 272 5-334 5 441 5-227 5 272 5-259 5 266 5-354 5 301 5-412 5 333 5-363 5 432 5-376 5 362 5-297 5 392 5-218 5 231 5-255 5 261 5-356 5 270 5-335 5 298 5-242 5 374 5-291 5 311 5-261 5 264 5-404 5 348 5-381 5 316 5-401 5 290 5-248 5 363 5-342 5 432 5-322 5 208 5-313 5 383 5-265 5 272 5-225 5 201 20-560 20 320 5-41 5 190 5-310 5 178 5-165 5 177 5-160 5 150 15-332 25 400 15-216 5 168 5-183 5 226 15-402 25 400 5-35 5 184 5-141 5 191 5-208 5 174 5-216 5 165 5-172 5 122 5-212 5 104 5-207 5 117 20-451 20 282 5-93 5 113 5-98 5 79 5-68 5 56 10-231 25 318 30 217 40 164 10 7 25 74 15 11 10-1449 20 327 5 29 5-76 5 52 20 44 40 268 35 339 10-807 60 414 30 381 10-869 15 169 5-12 5 63 30 108 40 406 10-763 20 264 5-24 15 69 50 479 10-859 20 336 10-22 15 76 45 400 10-745 15 209 45 359 10-347 10 35 5-8 5 41 5-64 5 57 5-45 25 699 5-179 5 292 5-276 5 285 5-225 5 265 5-308 5 223 5-169 5 312 5-251 5 270 5-369 5 248 5-236 5 333 5-276 5 265 5-254 5 214 5-318 5 344 5-379 5 339 5-309 5 322 5-333 5 376 5-367 5 433 5-300 5 300 5-325 5 336 5-358 5 223 5-225 5 319 5-353 5 334 5-282 5 287 5-320 5 383 5-378 5 366 5-358 5 320 20-444 20 308 5-197 5 260 5-269 5 221 5-151 5 199 5-236 5 251 15-420 25 356 5-140 5 165 5-258 5 196 5-167 5 193 20-371 20 320 5-113 5 147 5-189 5 161 5-182 5 212 25-541 35 560 5-157 5 218 25-495 25 400 5-114 5 153 5-205 5 155 25-522 25 361 5-142 5 77 5-98 5 90 5-95 5 81 5-58 5 80 10-256 10 160 5-69 5 51 20-93 35-52 80-27 40 2 90-16 10-5 5-43 5 36 10 5 210-28 40 7 60-17 65 3 15-10 60 5 40-9 60 4 105-10 5-20 5 20 30 1 35-7 55 6 15-10 45 8 105-14 25 11 45-11 15 8 35-9 105-1 15 8 50-12 60 9 55-7" stroke="#6082B6" stroke-width="20"/>
<path d="M1177 1977l5 284 5-372 5 248 5-295 5 325 5-290 5 307 5-236 5 343 5-465 5 311 5-346 5 387 5-363 5 383 5-361 5 277 5-314 5 277 5-246 5 79 10-280 20 320 5-149 5 225 5-226 5 142 5-193 5 197 5-165 5 145 10-280 5-8 5 80 5-5 5 165 5-188 5 190 5-161 5 214 5-186 5 187 5-116 5 47 15-420 25 400 5 3 5 157 5-180 5 187 5-142 5 166 15-420 5-8 20 320 5-1 5 161 5-203 5 200 5-287 5 238 5-229 5 35 10-236 20 320 5-108 5 168 5-168 5 99 5-146 5 202 5-191 5 185 5-167 5 161 5-183 5 121 15-399 30 480 15 79 5-88 5-609 5-101 5 25 5-20 5 70 5-73 5 64 5-65 5 66 5-53 5 69 5-53 5 43 5-85 5 51 5-54 15 193 5-203 5-936 20 799 5-10 5 67 5-64 5 35 5-44 5 69 5-41 5 67 15-226 15 214 5-91 5 58 5-60 5 54 5-66 5 58 5-28 5 56 5-53 5 54 5-54 5 50 5-74 10 176 10-778 20 642 5 57 5-15 25 163 10 23 20-838 5 0 35 1007 10 19 5-3 5 20 5-4 5 13 10 5 10-578 20 168 45 235 5-62 15-600 25 750 10 55 5 8 5-17 5 23 10 5 5-4 10 25 10-607 20 193 5-57 5 49 5-27 5 89 5-49 5 39 5-63 5 63 5-29 5 62 5-55 5 55 5-59 5 23 5 50 5 223 5-60 5 175 5-63 5 175 5-133 5 241 5-161 5 143 5-193 5 178 5-208 5 230 5-227 5 250 5-209 5 218 5-253 5 273 5-246 5 290 5-279 5 282 5-267 5 254 5-266 5 283 5-200 5 257 5-300 5 361 5-236 5 232 5-226 5 277 5-275 5 234 5-318 5 279 5-331 5 243 5-230 5 398 5-385 5 309 5-262 5 336 5-242 5 285 5-252 5 165 5-282 5 299 5-334 5 267 5-163 5 226 5-234 5 402 5-399 5 272 5-334 5 441 5-227 5 272 5-259 5 266 5-354 5 301 5-412 5 333 5-363 5 432 5-376 5 362 5-297 5 392 5-218 5 231 5-255 5 261 5-356 5 270 5-335 5 298 5-242 5 374 5-291 5 311 5-261 5 264 5-404 5 348 5-381 5 316 5-401 5 290 5-248 5 363 5-342 5 432 5-322 5 208 5-313 5 383 5-265 5 272 5-225 5 201 5-267 5-13 10-280 20 320 5-41 5 190 5-310 5 178 5-165 5 177 5-160 5 150 15-332 15 240 5 11 5 149 5-158 5 92 5-150 5 168 5-183 5 226 15-402 25 400 5-35 5 184 5-141 5 191 5-208 5 174 5-216 5 165 5-172 5 122 5-212 5 104 5-207 5 117 20-451 20 282 5-93 5 113 5-98 5 79 5-68 5 56 10-231 20 299 20 184 20 132 40 163 10 6 5 29 10 12 10 33 5-3 5-194 5-1047 5-155 10 223 20 49 20 107 20 119 30 245 10-1498 20 900 5 58 20 82 25 178 25 256 10-1661 20 1170 5-27 30 137 35 338 10-1618 20 1154 5-24 20 83 45 366 10-1579 5 29 15 1004 5 107 10 11 10 70 5 5 30 237 10 115 5-183 5-1395 5 0 15 964 10 176 5-15 5 20 20 99 15 105 5-4 5-255 5 31 5-15 5 39 5-50 5 58 5-33 5 41 5-64 5 57 5-45 10 205 5 277 5-44 5 261 5-179 5 292 5-276 5 285 5-225 5 265 5-308 5 223 5-169 5 312 5-251 5 270 5-369 5 248 5-236 5 333 5-276 5 265 5-254 5 214 5-318 5 344 5-379 5 339 5-309 5 322 5-333 5 376 5-367 5 433 5-300 5 300 5-325 5 336 5-358 5 223 5-225 5 319 5-353 5 334 5-282 5 287 5-320 5 383 5-378 5 366 5-358 5 320 5-234 5-18 10-192 10 160 5 23 5 125 5-197 5 260 5-269 5 221 5-151 5 199 5-236 5 251 5-229 10-191 25 356 5-140 5 165 5-258 5 196 5-167 5 193 5-167 5-12 10-192 20 320 5-113 5 147 5-189 5 161 5-182 5 212 25-541 30 430 5 130 5-157 5 218 20-487 5-8 15 240 5 22 5 138 5-114 5 153 5-205 5 155 5-178 5 76 15-420 25 361 5-142 5 77 5-98 5 90 5-95 5 81 5-58 5 80 10-256 10 160 5-69 5 51 15-85 10-32 15-27 15-16 15-5 15-12 25 2 25-13 5 4 10-7 25 4 65-18 25 2 5-6 5 1 5-109 5 102 10 5 30-8 10 5 15-1 5-5 35-8 15 5 25-10 10 7 5-7 35 1 10-7 10 5 5-6 20 4 10-3 10 5 10-8 20-3 10 4 20-10 15 5 15 0 10-6 25 4 15-10 10 4 25-5 5 5 10-6 10 7 15-7 25-3 10 4 20 0 10-6 20 6 5-5 15 3 15-7 5 3 25-5 15 4 10-5 15 2 5-50 5 50 5 1 10-5 15 5 35-7 20 6 5-5 15-1 15 5 15-10 45 9 15-7 30 1 20-6 30 3 10-6 25 12 10-7 5 5 10-5 5 3 15-7 15 8 10-7 15 3 10-5 15 4 30 0 10-4 40 3 10-5 15 8 15-8 10 3 25-7 5 5 35 2 10-5 10 7 40-9 10 5 5-3" stroke="#5D3FD3" stroke-width="20"/>
<path d="M1177 1917l5 284 5-372 5 248 5-295 5 325 5-290 5 307 5-236 5 343 5-465 5 311 5-346 5 387 5-363 5 383 5-361 5 277 5-314 5 277 5-246 5 79 10-280 20 320 5-149 5 225 5-226 5 142 5-193 5 197 5-165 5 145 10-280 5-8 5 80 5-5 5 165 5-188 5 190 5-161 5 214 5-186 5 187 5-116 5 47 15-420 25 400 5 3 5 157 5-180 5 187 5-142 5 166 15-420 5-8 20 320 5-1 5 161 5-203 5 200 5-287 5 238 5-229 5 35 10-236 20 320 5-108 5 168 5-168 5 99 5-146 5 202 5-191 5 185 5-167 5 161 5-183 5 121 15-399 30 480 5 51 10 41 5-111 5-586 5-84 5 25 5-50 5 70 5-73 5 64 5-65 5 66 5-53 5 69 5-53 5 43 5-85 5 51 5-54 15 336 10-676 20 245 5-62 5 67 5-64 5 35 5-44 5 69 5-41 5 67 15-226 15 214 5-91 5 58 5-60 5 54 5-66 5 58 5-28 5 56 5-53 5 54 5-54 5 50 5-74 10 325 10-486 15 189 5 12 5 57 5-19 25 338 15 133 30 211 5 6 5 37 20 75 10 22 5 28 5 4 15 36 10-1088 5-4 35 441 30 299 45 252 5 19 5-7 5 31 15 25 15 54 10-1170 20 261 5-57 5 49 5-27 5 89 5-49 5 39 5-63 5 63 5-29 5 62 5-55 5 55 5-59 5 23 5 50 5 223 5-60 5 175 5-63 5 175 5-133 5 241 5-161 5 143 5-193 5 178 5-208 5 230 5-227 5 250 5-209 5 218 5-253 5 273 5-246 5 290 5-279 5 282 5-267 5 254 5-266 5 283 5-200 5 257 5-300 5 361 5-236 5 232 5-226 5 277 5-275 5 234 5-318 5 279 5-331 5 243 5-230 5 398 5-385 5 309 5-262 5 336 5-242 5 285 5-252 5 165 5-282 5 299 5-334 5 267 5-163 5 226 5-234 5 402 5-399 5 272 5-334 5 441 5-227 5 272 5-259 5 266 5-354 5 301 5-412 5 333 5-363 5 432 5-376 5 362 5-297 5 392 5-218 5 231 5-255 5 261 5-356 5 270 5-335 5 298 5-242 5 374 5-291 5 311 5-261 5 264 5-404 5 348 5-381 5 316 5-401 5 290 5-248 5 363 5-342 5 432 5-322 5 208 5-313 5 383 5-265 5 272 5-225 5 201 5-267 5-13 10-280 20 320 5-41 5 190 5-310 5 178 5-165 5 177 5-160 5 150 15-332 15 240 5 11 5 149 5-158 5 92 5-150 5 168 5-183 5 226 15-402 25 400 5-35 5 184 5-141 5 191 5-208 5 174 5-216 5 165 5-172 5 122 5-212 5 104 5-207 5 117 20-451 20 282 5-93 5 113 5-98 5 79 5-68 5 56 10-231 25 380 30 211 40 158 10 5 5 29 10 11 10 33 5-3 5 3 10-1950 20 833 5-41 5 29 5-76 5 50 20 57 40 280 30 303 10-1180 20 508 20 103 15 122 40 446 5-914 5-177 15 379 5 2 5 63 5 4 30 193 30 363 5-135 5-886 20 397 35 245 35 374 10-1064 20 462 5 41 10 22 15 97 40 439 10-1082 20 484 5 36 5-44 10 75 30 323 5 34 5-345 10-60 5 41 5-64 5 57 5-45 10 205 5 277 5-44 5 261 5-179 5 292 5-276 5 285 5-225 5 265 5-308 5 223 5-169 5 312 5-251 5 270 5-369 5 248 5-236 5 333 5-276 5 265 5-254 5 214 5-318 5 344 5-379 5 339 5-309 5 322 5-333 5 376 5-367 5 433 5-300 5 300 5-325 5 336 5-358 5 223 5-225 5 319 5-353 5 334 5-282 5 287 5-320 5 383 5-378 5 366 5-358 5 320 5-234 5-18 10-192 10 160 5 23 5 125 5-197 5 260 5-269 5 221 5-151 5 199 5-236 5 251 5-229 10-191 25 356 5-140 5 165 5-258 5 196 5-167 5 193 5-167 5-12 10-192 20 320 5-113 5 147 5-189 5 161 5-182 5 212 25-541 30 430 5 130 5-157 5 218 20-487 5-8 15 240 5 22 5 138 5-114 5 153 5-205 5 155 5-178 5 76 15-420 25 361 5-142 5 77 5-98 5 90 5-95 5 81 5-58 5 80 10-256 10 160 5-69 25 238 20 122 30 95 30 39 20 18 20 0 5 7 10-4 25 12 50-2 15-4 25 4 5-5 5-108 5 111 5-8 10 6 30-5 10 6 15 0 5-4 30-4 20 6 25-9 10 7 5-6 35 3 10-6 10 5 5-6 20 6 10-3 10 6 10-8 20-2 10 4 20-8 20 5 20-5 30 4 10-9 10 5 25-4 5 5 10-6 10 7 15-7 25-2 10 4 20 0 10-6 20 6 5-5 15 3 15-6 5 3 25-4 55 1 15-5 10 5 35-7 20 6 5-5 15-1 15 5 15-10 45 8 15-6 30 0 20-6 30 2 10-6 25 12 10-7 5 4 10-4 5 2 15-7 15 7 10-7 15 3 10-5 15 4 30 0 10-5 40 2 10-5 15 7 15-8 10 2 25-7 5 5 35 1 10-5 10 6 40-10 10 5" stroke="#ADD8E6" stroke-width="20"/>
</g>
<g clip-path="url(#c01)" fill="none" stroke-linejoin="round" stroke-linecap="butt">
<path d="M1177 4994l10 12 15 0 20 12 10-6 15-1 5-8 10 0 15-26 15-11 15-28 10 1 15 24 10 8 5-3 30-74 5-1 10 11 20 36 10-4 35-102 10-16 10 29 15 4 5 8 15-22 15-2 25 60 10 4 15-29 10-7 5 3 5-9 10 6 5 17 20 28 5 0 10-14 25-46 5 1 10 27 10-5 30 1 5-290 5-5 30 13 5 19 25-12 5 20 5-9 10-2 5 5 5-148 5-28 30 37 20-14 20 15 15 2 10-4 15 12 10-10 15 25 15-4 5-7 5 3 10-6 10 2 10-79 5 14 20 254 20 161 20 113 25 94 5-655 5-114 25 164 15 0 5-17 30 0 5-5 40 398 20 127 20 74 5-617 5-104 25 126 25 5 15-11 20 10 5-4 15 15 10-3 30 24 40 229 15 47 15 19 15 49 40 47 15 29 15 2 5 15 10 4 5-4 35 32 5 3 5-6 15 7 15 17 10 1 15 16 10-6 15 15 5-4 10 4 5 8 15 10 5 1 10-8 5 2 5 9 15 3 10 14 20 5 10 13 35-8 10 12 15-3 35 23 10 2 10-10 10 2 5 9 15 8 10-15 15-59 10-22 10-10 10 14 10-2 15 12 15-35 20-28 20 45 10 7 15-7 5-13 10-4 15 16 40 141 5-1 15-48 30-177 10-20 15 9 20-24 25-6 30 233 20 116 30 121 45 119 5-958 5-51 5 1 20 52 15-3 5 11 5-4 10 13 20 60 10 56 20 160 30 476 5-913 5-36 10 26 5 35 5-1 20 49 20 147 15 206 15 343 5-805 5-52 15 46 5 32 15 14 10 30 10 64 20 232 15 306 5-690 5-66 15 45 5 31 20 41 15 73 20 244 15 330 5-709 5-26 10 9 10 33 10 11 15 49 25 251 20 432 5-780 5-13 30 38 20-9 15 10 30-4 10 58 15 22 5 105 10 0 5 7 5 216 5 49 25 72 35 55 25 19 10 25 15 13 10 18 25 12 20 31 10 8 5-2 15 22 20-6 30-88 15-17 20 37 10 9 5-2 10-28 15-18 10-22 5 0 10 21 10 10 15-4 10-11 15-45 10-5 10 3 15 21 15-4 30-82 15 7 15 37 10 10 25-57 10-12 15 29 10-1 10-11 5 1 5-12 5 1 5-7 5 1 5-7 10 1 10-6 15 24 5-4 5 4 20-24 5 3 5-4 5 7 5-3 15-42 35-24 15 1 25-6 10 3 30-10 30-5 10 2 10-5 45 0 50-8 10 3 25-8 20 3 10-6 35 2 35-10 10 5 15-5 20 5 10-8 10 3 35-5 10 2 10-5 10 6 5-5 15 2 20-8 30 5 15-11 25 8 20-7 15 2 20-5 5 5 35-7 10 5 25-8 10 7 5-5 40-6 5 4 65 2 20-7 30 5 10-6 35-1 10 4 10-7 60 3 20-5 10 5 5-5 20 4 25-6 10 5 25-4 10 5 10-7 15-2 40 5 40-3 5 4 15-6 45 2 10-6 10 5 35 0 10-5 45 5 10-6 50 5 10-8 10 7 5-4 35 3 10-5 10 5 25-6" stroke="#4169E1" stroke-width="20"/>
<path d="M1177 4950l15 15 20 10 20-13 20-1 10 6 10-17 10-4 5-8 15-37 30 12 5 9 10 4 10-14 15-43 10-7 5 8 15-8 15 29 5 5 5-2 25-95 10-16 10 9 5 17 5-6 5 4 5-3 5 10 10-15 15-4 10 13 15 38 10-3 15 5 30-40 15 46 10 2 5 7 10-6 25-46 10-10 10 28 15 5 5-7 10 10 10-13 5-300 5-10 30 14 10 17 10-4 15 12 15-10 5 7 5-146 5-19 25 21 15 0 5-8 40 17 30-5 15 30 10-8 15 1 15-15 5 9 5-1 10-89 5 17 15 197 25 231 25 143 20 75 5-622 5-127 5 2 20 127 15-1 10-13 5 2 25-14 20 252 20 179 15 98 25 95 5-672 5-45 25 101 25-2 5 8 10 4 10-4 15 6 15-7 10 12 25 9 5 7 40 245 10 37 25 48 15 47 15 17 10 3 15 27 15 5 15 33 5 2 10-5 15 18 30 16 20 21 15-12 10 13 5-2 15 22 10-3 10 13 15-2 15 7 5-1 20 16 5-4 10 8 5 10 15-5 30 22 25-14 10 16 10-2 10 10 5-3 15 9 10-4 10 6 10-7 15 20 5-4 10 8 20-44 15-56 10-13 10 11 5 17 5 4 10-4 10-8 15-37 10-6 15 15 10 28 10 5 30-42 20 40 40 128 10-16 20-134 25-103 15 16 15-13 15-25 5 3 10-3 25 195 30 152 15 63 40 115 20 24 5-941 5-1 20 13 10 0 20 16 15 19 15 55 30 190 20 239 5-636 5-20 20 27 10 0 20 81 20 190 25 531 5-876 5-34 15 40 5 28 20 44 15 93 15 175 20 408 5-782 5-32 45 109 15 101 20 276 15 363 5-837 5-14 20 43 10 9 20 100 20 236 20 459 5-826 5-44 25 66 25-4 5 6 5-6 5-2 5 5 5-6 5 9 5-5 5 4 5 49 5-18 15 43 5 122 10-11 5 7 5 230 5 56 15 46 45 77 30 30 5 11 20 15 15 23 20 4 20 43 15 21 10 5 5-3 20-31 15-43 20-34 10 5 10 17 15-7 10 6 35-61 15 40 10 10 5-15 15-16 15-40 15-14 10 13 10 27 5-3 10-15 10-4 20-64 10 0 20 20 10 21 5-1 10-29 15-23 20 20 10 0 40-47 10 2 15 24 15-1 15-11 5 5 20-8 5 8 35 504 25 193 15 74 25 77 20 35 15 12 10 15 35 18 10-3 20 9 25 3 5-3 20 6 20-6 10 4 35 0 40-6 55 2 45-7 15 7 35-6 20 4 20-9 15 5 20 2 5-4 10 5 15-11 5 4 10-2 25 5 40-4 20 2 15-6 10 7 15-9 35 10 35-9 10 8 10-5 40 3 10-6 10 10 10-5 20 3 30-4 20 7 30-7 50 7 10-5 90 8 10-9 5 7 25-1 10 7 10-5 15 5 5-5 15 8 15-9 20 5 25-1 10 4 5-4 25 8 10-5 40 8 20 1 10-5 95 10 30-2 15 8 10-5 10 5 10-8 10 7 15-3 10 6" stroke="#0047AB" stroke-width="20"/>
<path d="M1177 5061l5 1 10-12 15 10 5-8 15 12 10-14 10 9 20-5 10-10 5-15 15-14 10-33 10-6 15 52 5 2 25-42 15-44 10 0 25 31 15-9 30-95 10 3 5 15 20 19 20-16 20 0 15 42 10 14 15-13 5 1 15-26 10-4 15 35 20 20 10-15 15-44 10-8 10 11 10 37 35 254 5-486 5-15 55 35 10 28 20 372 5-548 5-9 20 16 20 6 25-11 10 15 30 0 5 5 5-3 15 21 10-2 15-10 5 9 5 65 10 194 5-282 5-27 5 1 10 13 40 393 40 257 35 142 30 87 5-927 5-26 15 23 30 330 40 288 15 86 35 136 25 72 5-906 5-16 25 34 5 2 20-7 25 22 20 57 30 131 35 79 20 33 15 8 10 22 25 25 5-1 20 33 5 3 10-4 10 2 15 14 15 3 30 21 5-1 15 17 10-3 10 9 15 4 5 9 5-6 5 4 5-5 20 21 15-4 15 16 15 0 10 7 20-8 20 21 10 4 15-5 25 21 10-8 20 3 15 32 10-19 15-8 10-21 20-73 5-2 5 5 10 21 10 7 10-5 30-61 35 54 30-29 10 8 50 152 10-25 25-154 15-59 5-11 15 15 10-3 15-29 20-6 30 304 30 209 45 206 5 0 5 26 15 37 5-1089 5-5 20 21 10 7 10 0 5 11 5-3 5 17 10 11 20 80 20 137 30 405 5-802 5 0 15 15 5 10 5-4 15 37 10 48 20 170 20 342 5-642 5-22 20 21 15 25 5 0 15 72 15 129 25 422 5-690 5-6 15 23 10 7 20 65 15 109 15 188 15 309 5-718 5 0 15 14 5 17 20 28 10 57 20 180 20 352 5-647 5-9 35 49 20 76 15 141 20 371 5-543 5-20 10 9 5 47 5-3 5 5 5-5 10 256 25 84 20 42 30 37 20 37 15 0 20 23 20 36 20-1 30 33 10-1 15-15 10-18 15-48 20-26 20 50 20-19 25-52 20 23 5-5 15 14 5-4 25-62 10-2 5 4 20 34 10-4 15-46 20-38 10 1 15 37 10 6 30-51 5-2 25 17 10-3 15-24 15-1 10-17 5 0 10 17 15 0 10 13 15-24 15 14 5-1 30 352 35 215 20 73 15 37 40 55 45 31 15 5 10-3 20 12 10-4 20 9 10-2 5 5 10-6 10 5 25-7 20 9 15-10 10 8 25 7 20-7 20 0 10 7 40-4 10 3 15-4 10 6 35-3 30 3 10-5 10 10 10-8 10 9 10-6 45 5 10-5 20 5 15-6 15 5 70-3 10 4 5-5 10 6 5-6 10 6 85-5 15 6 35-4 10 5 10-6 10 9 10-9 20 7 35-2 10-7 10 7 5-3 10 8 20-10 35 7 10-4 10 4 20-5 20 7 110-4 10-6 10 9 30-4 15 4 25-7 35 8 25-5 25 3 10-3 45 3 30-2 10 4 30-7 15 3" stroke="#87CEEB" stroke-width="20"/>
<path d="M1177 5013l10-7 5 7 5-6 5 3 10-6 5 5 15-2 15 18 10-3 25-33 5-1 15-40 10-10 15 41 10 2 20-25 20-47 10-8 5 1 10 21 5 19 10 4 15-28 25-81 5-4 5 2 5 12 15-3 5 31 10-19 25-4 10 28 25 32 35-43 15 12 15 37 10 5 35-75 10 14 5 21 5 1 5-6 5 12 15-11 10 2 5-248 5-18 30 23 15 21 15-1 10-6 10 13 5-7 5 1 5-164 5-5 20 17 20 1 10 6 20-9 15 23 5-10 10 2 10 12 15 6 10 11 10-11 20-7 5 5 10-125 15 73 20 218 20 157 20 105 25 87 5-615 5-150 25 198 15 0 5-19 10 3 15-11 5 6 5-4 40 398 15 84 25 100 5-650 5-71 25 148 15 1 5 4 10-8 15 16 10-3 15 6 20-4 15 15 5-1 5 10 50 226 45 97 10 17 10 5 15 31 25 13 10 14 15 1 30 28 20-7 40 40 20 8 5-5 5 7 5-4 20 15 40 15 5 10 5-1 5 7 5-3 10 2 10 18 5-4 10 2 10 11 5-3 5 4 5-10 10-2 15 13 5-5 20 0 10 13 15-6 10 12 15-9 15 18 20-34 10-47 10-21 10-1 5 13 20 16 5-3 30-63 5-1 15 43 10 7 25-21 5-9 10 5 25 65 20 77 10 20 10-28 35-210 5-9 20 8 5-7 5 2 20-35 15 6 25 210 30 183 25 108 50 135 5-1012 5-5 20 50 15 0 10 18 10 8 15 33 15 71 20 141 25 338 5-720 5-21 5 0 10 20 15 16 15 55 15 112 10 117 20 398 5-762 5-52 20 62 10 12 15 37 15 93 15 168 20 426 5-761 5-54 5 7 10 27 5 33 5 2 10 23 20 112 15 180 20 441 5-803 5-12 30 40 10 25 15 71 10 78 15 225 15 349 5-780 5-32 20 50 10-2 10 5 20-8 10 13 10-11 10 27 5-2 10 17 5 41 5 7 5-11 5 13 10 274 15 68 20 57 30 62 10 14 10 1 15 12 15 35 5 4 10-7 5 6 10 25 25 22 15 21 10 2 10 10 20-16 30-73 10-13 10-1 10 26 15 14 20-29 10-31 10-9 10 7 15 33 5-1 20-31 15-35 15-16 30 40 10-16 20-67 5-5 20 15 15 34 15-13 15-39 20 5 10-6 15 13 10-21 15-13 25 3 15 21 5 1 15-25 5 7 15-7 5 5 5 8 30 421 25 202 20 94 20 60 30 56 30 31 20 4 20 14 25 2 10 5 15-1 5 6 25-4 10 5 30-3 55 8 5-5 20 6 10-4 40 4 40-2 10 6 10-8 35 6 10-7 10 6 20-4 60 8 45-8 15 7 20-6 10 5 15-4 10 6 20-5 15 5 80-3 15 6 10-7 40 5 10-5 80 8 10-7 35 8 25-4 20 6 5-4 15 0 10 6 10-8 20 4 10-5 10 8 10-6 20 2 10 7 10-7 20 7 10-4 10 3 10-6 35 7 10-5 15 4 30-5 10 8 15 1 10-5 5 5 15-4 30 6 20-5 10 6 25 0 15-6 10 7 10-4 20 4 10-5 20 4 30-1 10 5" stroke="#0000FF" stroke-width="20"/>
<path d="M1177 5045l15-5 10 10 10-1 5-7 25 11 20 0 10-9 15-31 25-35 15 27 15 4 15-18 15-45 10-12 10 0 15 25 20 17 15-60 20-54 5 9 15 11 5-8 5 30 15-22 25 5 25 57 10-1 10-14 15-38 10 4 15 34 20 16 10-2 20-60 10 3 10 25 15 0 5-7 5 11 15 4 5-255 5-12 35 50 25-1 10 10 15-4 5-173 5-36 25 65 15 5 15-10 15 7 10-8 15 15 10 1 30 21 10 1 25-10 5-8 5 1 10-113 5 17 5 93 30 244 25 148 40 166 5 14 5 2 10 38 30 67 5-815 5-23 15 73 35 333 30 208 30 148 50 150 5-810 5-120 5 8 20 120 10-2 5 7 15-1 25 28 45 180 35 97 10-2 25 51 10 2 10 11 10 23 10 9 10 7 10-6 10 4 15 30 10-3 20 9 15 17 10-4 20 26 15-5 25 12 15 21 5 1 15-16 15 17 15 5 5 7 5-3 10 6 5 9 20-6 15 16 15 1 5 8 15-16 15 13 5-2 5 6 25 9 10-5 10 10 25-2 25-101 5-3 15 15 5-2 5 9 15 7 20-40 20-15 15 40 15 17 15-35 10-7 5 7 35 97 10 44 10 19 5-4 5-22 35-204 10-18 15 13 25-29 20-12 30 312 30 219 15 91 30 127 25 76 5-1152 5-13 20 32 15 4 20 24 10 21 20 74 30 264 20 323 5-858 5-4 10 18 5 28 10 2 15 42 10 48 20 185 15 235 5-572 5-71 25 87 5-4 20 40 10 43 15 111 20 282 5-521 5-70 20 84 5 8 5-3 5 20 10 16 15 77 15 128 15 230 5-502 5-106 25 118 15 22 10 32 15 96 15 171 15 276 5-648 5-83 25 131 5 4 5-8 10 13 10-16 15 11 15-13 5 7 5 33 5-34 10 33 5 85 5-14 10 8 10 261 25 85 65 114 5 0 10-14 5 2 10 32 30 22 15 30 15 14 35 16 5-4 20-69 20-38 10 7 10 21 10 9 10 1 30-60 10-2 25 38 25-40 15-45 10 4 15 38 15-8 5 3 40-94 30 53 10-5 25-50 20 30 10 2 15-29 5 1 10-17 20-15 15 32 35-2 5-7 15 0 30 391 20 156 15 79 20 80 15 37 35 52 25 21 15 2 10 12 10-2 10 5 5-4 15 12 55 6 70 0 10 10 30-9 20 8 40-6 10 7 35-2 40 5 10-4 10 5 30-3 10 4 45-4 20 6 15-4 10 4 55-6 10 7 20 0 5-3 35-2 15 5 10-5 25 5 5-4 40 2 10 5 10-4 5 5 35-5 5-4 10 7 30 3 15-7 15 8 20-11 10 7 35-1 10 5 10-6 15 6 20-6 25 5 30-8 10 6 20-4 25 6 10-6 25 5 35-5 10 6 35-4 25 6 10-7 15-1 50 6 65-5 35 6 10-7 20 7 25-8 10 4" stroke="#7393B3" stroke-width="20"/>
<path d="M1177 5024l5 6 15-5 25 10 5-11 10-1 5 5 45-33 15-32 10-5 10 6 15 29 15-13 15-42 20-29 15 29 15 7 25-38 15-57 10-11 10 18 5-3 5 4 5 19 20-15 15 1 20 52 10 8 10-5 15-33 15-14 15 37 5 5 5-4 5 9 10 2 10-17 30-28 10 5 15-4 20 3 5-293 5-8 30 11 5 15 20 13 15-7 5 3 15-2 5-5 5-155 5-9 20 21 20 2 5 5 15-3 15 8 20 3 40 27 15-25 10 15 5-11 5 13 10-119 15 61 40 338 35 191 25 103 20 51 5 27 10 13 10 28 5-770 5-54 15 30 35 388 30 218 30 159 20 78 30 89 5-933 5-47 25 90 10 8 15-10 15 12 10-5 5 7 25 181 20 95 20 42 15 47 5 2 15 35 15 8 15 24 15 11 15 20 15-1 25 8 20 30 20 4 40 30 40 8 10 14 15-1 20 13 10 0 5-6 25 31 5 0 5-8 10 1 15 10 15-1 25 7 10 12 10-5 5 4 20-2 15 7 10-1 15 11 10-18 15-54 15-25 5-1 15 17 20-1 20-54 10-2 30 57 30-35 5 1 45 142 10 19 10-20 25-158 15-60 10-11 5 10 10 5 20-32 10-4 10 4 5 9 30 227 25 128 30 118 40 89 5-972 5-39 25 54 10 1 10 7 10 18 15 37 10 46 30 248 20 307 5-786 5-15 20 15 15 39 5 3 15 81 15 139 25 485 5-805 5-8 35 57 20 97 20 228 15 295 5-703 5-24 45 99 15 83 10 105 25 456 5-738 5-3 10 13 25 65 20 136 20 304 10 253 5-770 5-46 25 77 5-10 5 6 10 0 10-10 5 13 10-6 20 3 5-10 5 71 5 1 10 17 5 63 10 3 5-4 10 299 25 96 60 91 30 26 20 35 5-3 10 4 25 35 15 8 15 19 10 0 15-45 30-67 5 4 5-6 5 6 15 42 10-9 25-58 10-13 25 33 10 4 15-22 15-39 10-14 5 0 20 36 10 2 20-38 10-33 15-16 5-1 15 40 10 8 10-9 15-37 15-6 15 21 5-10 5 2 15-12 15-22 5 2 5-6 15 4 15 28 25-29 25 13 30 378 35 230 15 58 20 52 35 52 50 32 25 6 15-2 10 7 10-2 10 6 10-2 25 6 5-3 5 4 10-3 20 9 10-6 15 8 10-3 60 4 15-4 40 7 15-4 15 7 20-6 10 6 20-3 20 5 10-5 15 7 25-5 15 4 5-4 30 1 10 6 10-8 45 7 15-6 15 6 10-5 25 3 15-4 20 7 20-4 10 5 35-7 35 5 5-5 30-1 20 1 10 6 20-7 5 3 25 0 5-5 25 4 25-7 10 5 25-5 15 6 30-11 30 8 25-7 10 3 25-9 15 7 35-7 5 4 10-7 25 5 20-7 45 3 10-9 10 7 15-7 10 4 65-4 30-8 60 1 10-4" stroke="#0096FF" stroke-width="20"/>
<path d="M1177 4987l15-1 5-6 15 6 15-9 15 17 10-3 20-21 5 1 35-56 20 33 10 9 5-19 30-59 15-7 15 30 25-7 30-90 20 30 5-9 5 14 10-18 25 0 35 59 5-2 20-33 15-5 20 38 20 5 5-4 20-53 5 0 20 41 35 143 5-489 35 1 5 18 5-6 15 14 5 1 5-11 5 5 15-3 5-141 5-9 25 10 15 0 5-6 5 4 5-4 5 4 5-3 10 12 15 0 5 8 30 2 10 5 5 11 10-2 10-11 15 4 10-107 10 30 35 386 35 266 40 200 25 96 15 35 5-1041 5-49 15 78 25 307 45 362 20 119 25 106 30 94 5-963 5-73 25 96 5-5 10 12 15 2 5 9 5-4 5 6 5-2 5 13 35 246 45 123 60 86 5 2 5-4 20 28 15 4 5-5 35 37 25 8 10 9 5-3 15 17 10-2 5 10 10-3 15 13 10-1 15 7 5-5 10 17 5 3 10-4 45 31 20-15 10 10 60 10 10 12 10-6 30 9 15-15 15-66 10-17 10 3 15 24 20-10 5-13 25-29 10 7 15 47 5 0 10-13 5 0 15-31 10 15 40 128 10 19 15-44 35-198 5-12 5 0 10 15 10 3 15-22 15-13 5 1 5 8 20 190 25 174 35 169 25 82 15 38 5 3 5-1076 5-37 25 42 5-3 15 25 10 7 15 51 10 61 25 223 25 433 5-933 5-14 20 37 5 0 5 9 20 71 25 255 20 420 5-839 5-10 30 65 10 5 20 124 10 111 25 518 5-822 5-36 40 126 15 119 15 241 15 374 5-834 5-48 50 114 10 66 20 247 15 317 5-691 5-53 5 1 20 51 20 9 5-6 10 4 5-6 10 10 10-13 5 6 10 42 10 21 5 103 15-9 5 251 5 55 15 69 20 55 10 23 5-4 45 65 5-3 15 22 5-1 20 18 25 35 15 8 20 26 10-2 40-94 10-12 10 3 20 34 10 1 10-14 15-54 20 13 10 20 5 1 20-7 25-66 5 2 5-4 20 42 10 0 30-75 10-8 10-3 20 36 5 1 10-2 15-36 10-10 10 3 10 14 5-1 15-21 5 4 5-7 5 4 5-12 10-8 10 12 15 0 15 20 20-26 10-1 10 7 10-40 15-26 40-17 10 5 10-9 10 3 40-7 10 7 10-12 10 5 10-7 25 3 40-9 20 1 30-11 5 7 10-7 20 6 15-8 65 0 20-9 10 5 10-4 5 6 10-7 5 3 40-8 10 5 35-11 15 10 20-12 20 6 20-7 25 4 10-6 35 2 20-6 10 6 15-10 10 8 20-7 10 5 25-1 10-9 20 9 15-3 5-7 15 5 20-7 30 7 10-6 10 4 10-3 15 2 10-4 45 0 10-6 15 8 15 1 45-12 30 2 10 6 5-4 25-2 30 4 10-7 30 4 15-9 25 10 25-7 30 5 10-5 35 4 15-6 5 6 15-6 15 6 30-8 30 7 10-8 10 5 5-4 15 4 20-3 10 6 10-13 5 6 15 4 35-1 10-7 10 6" stroke="#00FFFF" stroke-width="20"/>
<path d="M1177 4987l20 8 5-6 5 10 15-1 10 7 10-19 10 10 10-1 10-6 35-61 10 1 20 29 10-4 10-8 15-49 15-13 10 10 10 31 5 3 5-6 5 2 5-6 30-108 15 16 15 2 5 21 25-17 15 0 15 45 10 8 5-4 5 3 5-12 15-11 5-11 10 3 15 17 15 29 5 2 25-53 10-6 10 6 10 66 35 342 5-668 5-7 30 40 10 7 15-4 10 5 10 168 15 502 5-842 5-23 25 52 20 2 5-5 15 13 10-4 15 15 10 1 10-8 15 13 5-3 15 14 10-12 20 111 5-169 5-17 10 27 25 323 40 337 40 227 40 143 5-1084 5-95 15 83 25 341 45 390 35 196 40 149 5-1029 5-49 25 57 10-2 25 19 10-2 5 6 45 201 45 102 15 47 5 4 5-2 15 11 25 37 5-4 15 19 15-5 15 25 20 7 5 7 5-5 30 29 10-4 5 7 15-2 5 8 15 3 15 11 15 2 10 16 20 11 15-6 10 13 5 3 5-4 15 15 20-7 50 19 5-3 10 9 15-5 10 12 10-6 20 13 20-43 25-75 10 27 5 5 15 4 10-6 15-34 10-9 10 3 15 34 10-1 20-20 15 2 10 16 40 135 10-10 10-35 25-156 15-43 10 7 15-7 5 2 20-23 10 2 25 246 30 230 25 132 10 28 10 52 30 90 5-1139 5-14 20 38 15 8 5-6 15 39 5 0 20 81 25 213 25 403 5-863 5-41 10 24 5 30 20 28 10 46 15 121 15 211 15 340 5-797 5-23 20 27 5 5 5-3 15 33 10 39 15 121 15 227 15 347 5-824 5-30 10 27 10 49 15 26 15 93 15 175 20 418 5-766 5-54 20 76 15 19 25 128 20 265 15 349 5-837 5-18 25 96 10 1 15 14 20 49 20 121 5-111 5-25 10 8 20 596 5 16 5-189 5-46 5-11 25 76 20 31 20 17 15 40 15 6 5 11 25 16 15 25 5 3 5-6 15 26 10-3 15 28 10 1 30-71 25-42 10 7 15 29 10-1 30-56 10-7 25 36 10-17 10-7 20-58 5-4 5 1 25 47 20-29 25-65 5 1 10 26 20 25 10-12 10-30 15-14 10 3 20 28 10-8 15-34 25-12 25 35 15-23 10-5 15 13 5-2 25 443 20 213 15 105 15 72 20 63 15 31 45 51 10 0 10 8 30 10 40 6 10-4 10 6 35 3 10-5 10 9 25-5 20 4 35-3 10 4 25-1 10 6 10-5 15 0 40 8 15-4 10 4 10-4 35 3 15-5 10 11 20-7 30 6 20-5 25 5 10-5 15 5 10-5 20 8 10-7 50 10 20-6 20 6 20-6 30 3 15-5 10 6 20-6 30 8 20-6 5 4 15-3 15 4 25-5 10 7 20-8 20 8 15-6 60 8 15-6 15 6 15-7 20 5 15-5 15 7 10-8 30 7 65-5 20 6 20-6 10 6 15-5 25 6 10-7 45 5 10-5 15 5 20-5 10 5 10-8 10 7 5-3 10 4 10-3 20 4" stroke="#6495ED" stroke-width="20"/>
<path d="M1177 5048l10-14 5 2 20-6 5 14 10 2 5-9 15 17 15-33 10-6 5 6 5-5 5 4 20-52 5 0 30 36 10-16 20-57 10-6 10-1 20 36 10 0 5-19 15-23 15-58 10-11 15 31 10-7 5 21 10-25 20-4 35 75 15-36 20-26 15 34 15 20 15-1 20-33 10-26 10 14 10 69 35 328 5-691 5-4 30 17 15 15 15 3 5 21 20 644 5-815 5-12 25 17 20-1 35 12 10-2 15 10 15-4 20 15 20-3 20 125 5-165 5-6 10 12 5 33 25 316 45 390 50 257 25 79 5-1204 5-10 10 49 20 317 40 392 45 284 40 152 5-1105 5-19 25 42 5-4 10 10 10-5 10 2 10 6 5 10 15 61 30 195 10 37 45 91 50 58 15 6 25 21 5-2 15 29 20 6 5 8 15-9 20 21 10-7 15 12 10 2 10 15 5-1 20 20 10-7 15 10 10 0 10 13 10-5 10 7 10-6 15 7 5 9 5-1 5 7 5-3 15 10 20 4 10-11 30 23 15-5 25 12 10-10 20-78 15-20 15 26 10 5 10-12 5 4 5-6 15-41 10 6 15 27 20 17 15-27 5 0 5-9 60 158 10-15 40-227 5-9 10 11 15-1 15-24 15 12 5-2 35 329 30 193 45 193 20 55 5-1189 5-10 20 33 15 11 10 1 30 110 25 218 30 522 5-990 5-1 20 19 5-5 5 2 10 20 20 106 20 247 20 481 5-926 5-13 35 76 20 116 20 279 15 373 5-845 5-19 15 22 25 62 15 102 15 203 20 467 5-859 5-13 30 55 20 93 20 223 20 442 5-811 5-16 25 52 5-2 5 7 10-3 10 24 15 51 20 126 5-127 5-36 5 11 25 686 5-222 5-53 5-13 25 90 15 11 30 64 10-2 15 26 45 42 45 54 15 7 10-4 30-83 20-22 15 31 20 3 5-3 25-61 10 6 15 27 15 6 10-13 25-65 20 21 5 0 15 21 10-13 30-85 5-1 5 6 10 29 10 10 15-6 25-45 10 3 5 11 10 3 20-13 20-30 5 1 20 21 5-1 5 13 5-4 5 3 10-20 10 1 20 15 30 387 15 126 20 116 15 60 25 66 30 46 15 7 10 14 20 14 30 5 10 9 10-4 10 5 20 0 20 8 65-1 60 7 15-4 25 6 25-3 10 6 25-5 30 6 30-3 10 4 10-6 20 6 20-3 25 3 5-3 45 4 10-3 10 4 30-5 10 5 10-3 30 3 65-3 15 8 25-8 15 5 25-3 5 6 15-2 10-7 15 6 20-5 35 8 15-4 10 5 40-5 10 4 10-4 30 4 15-7 15 8 15-6 30 7 60-7 10 6 15 0 10-6 30 7 15-5 10 4 60-4 10 3 15-5 10 6 55-5 10 4 10-5 10 5 15-3 30 4 20-4 20 6" stroke="#6F8FAF" stroke-width="20"/>
<path d="M1177 5069l15-9 10 6 45-3 10 7 10-3 20-28 15-37 10-4 10 9 5 15 15 10 5-2 30-74 10 0 15 27 25 6 30-106 5-4 15 27 15 9 5-12 30-1 15 35 10 14 10 6 15-23 5-1 5-12 10-4 25 33 5 18 10-1 30-67 5 0 10 19 10 49 35 327 5-631 5-43 30 79 15 10 20 1 25 693 5-856 5-4 20 17 25 13 15-9 5 8 10 3 15-9 10 3 15 22 15 5 5-4 5 6 20-24 20 120 5-170 5-16 5 14 35 432 40 309 30 156 20 83 20 59 5-1065 5-69 20 78 25 327 40 343 30 181 25 111 25 85 5-1083 5-52 25 111 30 3 20 31 55 232 25 54 20 22 15 34 5 3 5-4 10 12 10 25 15-5 25 42 20-3 10 8 5 14 5-6 10 4 10 13 15-8 10 17 10 2 10 12 10-8 25 22 5-5 10-1 5 10 5-8 15 18 10-6 5 2 15 19 20 4 5 8 10 1 10-6 10 12 15-6 5 8 15-3 5 7 10 1 15 10 5-2 5 8 10 1 5-8 10-2 15 12 30-93 10-4 25 19 25-21 10-34 10-4 25 49 25-13 15-17 55 164 10-24 15-111 25-108 10-6 5 9 10-2 5 5 15-27 20-7 5 2 30 299 25 181 45 212 30 78 5-1154 5-15 20 67 10 19 5 2 5-6 20 46 15 66 25 214 25 392 5-859 5-37 25 61 15 24 20 121 15 182 20 422 5-813 5-15 20 31 5-2 20 51 20 152 15 223 15 358 5-869 5-19 40 121 15 87 20 254 15 340 5-764 5-45 20 67 15 20 25 153 15 210 15 324 5-733 5-22 30 50 5-3 15 14 30 105 10 78 10-195 10 32 20 633 5-21 5-176 5-42 5-10 20 74 20 29 15 13 10 22 20 5 15 26 10 6 15 28 5-1 30 35 10 3 15 21 5-1 5 7 5-5 5 3 40-99 10-2 5 3 15 27 20-6 15-25 5-25 10-19 20 43 10 5 30-47 15-43 30 57 10-8 25-65 10-14 10 5 10 18 20 11 5-3 10-31 10-15 10 0 15 22 10-3 30-41 15 9 15-1 15 19 30-18 10-1 5 6 20-77 20-22 15-5 30-1 40-10 10 5 20-10 15 6 55-14 20 4 30-10 5 4 20-8 15 5 15-8 20 5 30-8 20 7 15-12 10 4 25-1 15-6 10 5 15-8 10 5 15-5 5 4 15-5 5 5 15-5 10 4 15-7 30 1 15-5 10 3 25-5 10 6 10-8 15 5 95-12 10 7 70-12 10 6 15-4 10 4 10-6 25 4 35-8 15 4 10-3 40 4 35-6 10 5 10-7 10 8 10-8 20 1 10-4 30 5 25-4 30 3 30-7 25 8 10-6 15 4 15-4 50 4 10-7 30 5 25-5 5 3 25-8 20 6 55-5 50 4 10-6 40 6 5-4" stroke="#6082B6" stroke-width="20"/>
<path d="M1177 5112l10 3 10-7 15 17 15-15 10 9 30-10 10-19 15-8 10-29 5-2 15 17 20 6 15-12 20-46 10-12 5 1 15 27 15 3 20-37 15-47 10-14 5 6 5 58 10 193 5-20 5-169 5-40 5-10 25-1 20 49 10 4 15-12 5-14 10-11 5 8 5 0 15 28 25 17 30-73 10 16 10 57 35 361 5-631 5-23 30 41 10 5 15-5 15 18 20-3 5-173 5-6 25 32 35-10 15 26 15-9 15 14 20 7 10-9 10 11 15-13 10 15 15-82 10 26 10 59 50 132 5-3 30 57 5-2 5 11 10 3 5 16 10 9 5-4 5 14 5-3 5-309 5-59 5 0 10 30 5 48 45 126 35 57 5 18 5-2 15 23 15 11 5 13 5-1 10 12 5-299 5-26 20 51 35 14 5 9 10 8 5-4 10 12 50 205 5 4 5-17 10-57 20 714 10-412 10-127 30 46 10 3 5-6 15 23 5-1 20 14 5 11 10 5 5-8 15 22 10 6 15-12 15 28 10-1 15 15 5-8 5 3 15-6 10 14 30 9 10 12 15 3 15 10 15-5 25 20 10-1 10 8 5 1 5-9 20 10 5-2 5 13 5-6 5 5 5-8 10-3 15 20 10-9 5 10 10-5 25-83 10-15 10 4 15 19 15-13 25-49 5 0 20 48 10 11 30-40 20 35 40 135 10-30 25-163 10-32 15-26 15 3 10-13 25-8 5 1 5 28 30 268 30 184 30 123 35 88 5-1021 5-20 25 45 20 3 5-4 15 9 5 18 5-6 30 56 25 92 5-316 5-5 20 31 20 10 5-5 10 28 10 7 30 134 5-233 5-26 15 42 5 1 5-6 10 18 10 2 5 13 5-2 15 38 20 80 5-196 5-17 20 51 5-12 20 23 5-2 15 19 25 98 5-166 5-33 20 46 10 4 10-3 15 31 5-4 25 68 10 54 5-180 5-20 25 50 25 3 5-7 10 10 5-5 5 10 15-14 5 43 5-6 10 11 10 71 10-19 5 200 10 86 20 70 10 19 10 7 15 33 10 6 20 39 10 1 15 23 5-2 10 14 15 10 10 22 5 3 5-4 5 13 10 9 5-3 10 15 10 5 10 4 45-113 10 7 10 20 10 0 15 13 10-32 20-37 15 29 15 12 20-32 5 0 15-47 5-4 5 2 15 31 5 4 15-5 10-16 25-66 5-2 5 4 20 41 10-1 20-45 10-7 5 6 5 133 10 408 10-385 10-146 20-26 20-11 15 27 20-4 5 8 10-2 10-17 10 4 15-109 10-26 20-26 10 4 10-7 20 1 15-9 35-4 25 3 10-8 5 3 15-6 40-1 10-6 10 3 15-6 5 2 10-8 10 6 15-5 30 4 10-8 10 5 5-4 10 3 40-8 10 6 10-11 25 7 10-6 20 2 30-9 10 5 25-7 25 4 15-9 10 4 35-4 5 4 15-8 20 5 10-5 20 4 5-6 20 4 20-5 135-5 20-6 120 1 10-7 10 6 10-8 5 5 35-4 30 7 10-7 20 4 10-5 5 3 30-3 10 3 20-6 15 3 10-4 10 4 50-5 15 4 10-5 40 3 10-4 15 3 10-6 15 6 30-5 15 5 45-6 10 6 20-6 20 6 10-6 15-1 35 5 5-4 10 6 5-6" stroke="#5D3FD3" stroke-width="20"/>
<path d="M1177 5056l10 1 20 18 10-13 20 1 10 7 5-4 5 2 15-26 5 2 10-10 15-32 15 2 20 31 5 2 35-81 5-3 10 4 20 28 10 2 40-103 5-3 10 25 5 5 5-4 10 13 10-18 20 0 35 64 10-11 15-36 5-1 10 8 25 38 15 1 10-11 15-42 10-1 10 21 10 56 30 236 5-515 5-2 30 23 10 0 10 10 10 1 25 436 5-590 5-3 25 17 15 0 10-10 5 1 15 19 5-5 5 5 5-11 5 6 5-4 5 11 15 4 15 18 10-2 5-8 10 2 10 84 10 200 5-311 5-25 15 20 40 394 35 228 35 157 35 102 5-932 5-24 15 22 5 24 25 270 40 301 30 154 35 130 15 31 5-909 5-8 40 45 15-17 25 36 40 159 25 67 25 49 35 33 30 51 10 2 5-5 15 12 5-7 25 34 5 3 5-6 15 9 15-1 25 27 20 5 15 15 5-3 10 4 20 16 10-3 20 7 10 10 15 0 10 9 20 5 15-14 15 22 20 1 5-8 5 1 15 22 25-7 10 15 5-1 20-21 25-93 5 0 10 17 20 18 15-22 5 2 15-39 25 38 10-3 10 7 20-24 5 3 55 156 10-15 40-222 10-10 20 15 15-25 10-9 5 5 5 10 35 340 25 170 40 177 25 74 5-1069 5-21 25 25 20 9 15 22 20 70 15 84 15 135 20 278 5-708 5-21 20 22 5-5 5 9 5 0 5 9 20 85 10 84 15 191 15 303 5-748 5-2 15 17 5 13 10-1 15 44 15 97 15 168 15 277 5-627 5-20 25 28 20 47 10 52 20 210 15 282 5-617 5-21 35 49 20 73 15 129 25 426 5-677 5-2 20 23 5 13 5 1 15 37 10 54 20 221 15 292 5-551 5-18 10 10 5 44 5 3 5-11 5 9 5 182 10 87 30 97 5 0 10 19 10 29 15 10 50 59 5-1 10 8 10 20 25 18 20 35 10-8 15 0 15-60 20-44 10-4 25 38 10-2 15-18 15-41 10 3 15 28 20 0 25-64 5-7 5 2 5-5 10 14 5 20 10 8 20-31 15-47 15-20 20 45 5 1 15-9 20-40 5-1 15 20 10-12 15-5 5-11 15 1 15-32 20 34 20 4 20-8 15 3 25 284 20 147 15 76 25 90 30 62 20 24 25 16 10 0 10 15 10-2 40 11 10-6 40 6 30-3 10 7 10-7 25 2 10-5 15 6 15-4 15 5 10-5 20 2 10-9 20 9 15-9 20 8 10-6 20 4 15-6 15 5 10-5 25 3 5 4 20-5 10 3 25-8 20 7 10-6 25 5 85-7 20 10 25-9 10 8 10-9 15 9 10-5 10 3 55-6 10 5 30-5 20 6 5-3 10 6 45-8 10 4 25 0 15 7 10-7 15 4 20-4 85 10 15-5 30 12 20-9 30 3 20-3 10 6 15 1 10-6 15 6 10-3 40 5 10-6 10 10 55-7 30 7 5-2 10 6 20-6 10 6 10-7 10 8 10-3" stroke="#ADD8E6" stroke-width="20"/>
<path d="M1177 5832H1486L1496 6005H1513L1521 5832H1947L1957 6447H1963L1971 5832H1994L2004 6447H2015L2023 5832H2047L2057 6447H2177L2185 5832H2247L2257 6447H2346L2354 5832H3282L3292 6080H3323L3331 5832H3332L3342 6447H3475L3483 5832H3586L3596 6447H3619L3627 5832H3793L3803 6447H3824L3832 5832H3894L3904 6447H3924L3932 5832H3994L4004 6447H4027L4035 5832H4155L4165 6447H4169L4177 5832H4837L4847 5970H4863H4867L4873 6447H4882L4886 5726L4892 5786H6534" stroke="#000" stroke-width="13" stroke-opacity="0.3"/>
<path d="M1177 5817H1450L1460 6447H1488L1496 5817H1823L1833 6447H1850L1858 5817H1998L2008 6447H2016L2024 5817H2221L2231 6447H2346L2354 5817H3328L3338 6447H3479L3487 5817H3551L3561 6447H3566L3574 5817H3587L3597 6447H3618L3626 5817H3689L3699 6447H3722L3730 5817H4156L4166 6447H4168L4176 5817H4867L4873 6447H6534" stroke="#000" stroke-width="13" stroke-opacity="0.3"/>
<path d="M1177 5910H1486L1496 6005H1513L1521 5910H1667L1677 6447H1718L1726 5910H1768L1778 6447H1777L1785 5910H2050L2060 6447H2176L2184 5910H2202L2212 6447H2249L2257 5910H2260L2270 6447H2347L2355 5910H2402L2412 6060H2431L2439 5910H3345L3355 6447H3477L3485 5910H3502L3512 6447H3511L3519 5910H3587L3597 6447H3618L3626 5910H3792L3802 6447H3823L3831 5910H4873L4879 6447H6534" stroke="#000" stroke-width="13" stroke-opacity="0.3"/>
<path d="M1177 5860H1450L1460 6447H1491L1499 5860H1770L1780 6447L1788 5860H1830L1840 6447H1847L1855 5860H2201L2211 6447H2344L2352 5860H2402L2412 6060H2431L2439 5860H3331L3341 6447H3474L3482 5860H3552L3562 6447H3563L3571 5860H3589L3599 6447H3619L3627 5860H4097L4107 6447H4128L4136 5860H4837L4847 5970H4863H4869L4875 6447H6534" stroke="#000" stroke-width="13" stroke-opacity="0.3"/>
<path d="M1177 5873H1452L1462 6447H1487L1495 5873H1827L1837 6447H1845L1853 5873H2048L2058 6447H2135L2143 5873H2146L2156 6447H2176L2184 5873H2196L2206 6447H2348L2356 5873H2402L2412 6060H2431L2439 5873H3335L3345 6447H3475L3483 5873H3524L3534 6447H3536L3544 5873H3550L3560 6447H3565L3573 5873H3693L3703 6447H3722L3730 5873H3794L3804 6447H3823L3831 5873H3996L4006 6447H4027L4035 5873H4100L4110 6447H4127L4135 5873H4157L4167 6447H4170L4178 5873H4837L4847 5970H4863L4871 5873H4872L4878 6447H6534" stroke="#000" stroke-width="13" stroke-opacity="0.3"/>
<path d="M1177 5884H1456L1466 6447H1487L1495 5884H1666L1676 6447H1720L1728 5884H1823L1833 6447H1844L1852 5884H2251L2261 6447H2347L2355 5884H3323L3333 6447H3480L3488 5884H3551L3561 6447H3565L3573 5884H3587L3597 6447H3618L3626 5884H3794L3804 6447H3822L3830 5884H3896L3906 6447H3925L3933 5884H4861L4867 6447H6534" stroke="#000" stroke-width="13" stroke-opacity="0.3"/>
<path d="M1177 5849H1486L1496 6005H1513L1521 5849H1667L1677 6447H1719L1727 5849H2200L2210 6447H2243L2251 5849L2261 6447H2344L2352 5849H2402L2412 6060H2431L2439 5849H3322L3332 6447H3481L3489 5849H3499L3509 6447H3511L3519 5849H3589L3599 6447H3618L3626 5849H3689L3699 6447H3721L3729 5849H3895L3905 6447H3927L3935 5849H3994L4004 6447H4026L4034 5849H4156L4166 6447H4168L4176 5849H4837L4847 5970H4863H4866L4872 6447H4881L4885 5726L4891 5786H6534" stroke="#000" stroke-width="13" stroke-opacity="0.3"/>
<path d="M1177 5866H1454L1464 6447H1486L1494 5866H1767L1777 6447H1779L1787 5866H1825L1835 6447H1851L1859 5866H2199L2209 6447H2349L2357 5866H3333L3343 6447H3472L3480 5866H3585L3595 6447H3616L3624 5866H3690L3700 6447H3720L3728 5866H3791L3801 6447H3823L3831 5866H3894L3904 6447H3925L3933 5866H4837L4847 5970H4863H4864L4870 6447H6534" stroke="#000" stroke-width="13" stroke-opacity="0.3"/>
<path d="M1177 5877H1486L1496 6005H1513L1521 5877H1765L1775 6447H1777L1785 5877H1992L2002 6447H2017L2025 5877H2402L2412 6060H2431L2439 5877H2458L2468 6447H2523L2531 5877H3282L3292 6080H3323L3331 5877H3334L3344 6447H3476L3484 5877H3586L3596 6447H3619L3627 5877H3793L3803 6447H3822L3830 5877H3896L3906 6447H3924L3932 5877H3995L4005 6447H4027L4035 5877H4102L4112 6447H4126L4134 5877H4160L4170 6447L4178 5877H4702L4712 6447H4750L4758 5877H4837L4847 5970H4863H4867L4873 6447H6534" stroke="#000" stroke-width="13" stroke-opacity="0.3"/>
<path d="M1177 5854H1456L1466 6447H1488L1496 5854H1948L1958 6447H1964L1972 5854H1992L2002 6447H2012L2020 5854H2045L2055 6447H2177L2185 5854H2197L2207 6447H2347L2355 5854H3282L3292 6080H3323L3331 5854H3340L3350 6447H3481L3489 5854H3496L3506 6447H3508L3516 5854H3793L3803 6447H3824L3832 5854H3997L4007 6447H4028L4036 5854H4101L4111 6447H4125L4133 5854H4869L4875 6447H4884L4888 5725L4894 5785H6534" stroke="#000" stroke-width="13" stroke-opacity="0.3"/>
<path d="M1177 5870H1451L1461 6447H1490L1498 5870H1670L1680 6447H1720L1728 5870H1963L1973 6447H1980L1988 5870L1998 6447H2016L2024 5870H2099L2109 6447H2177L2185 5870H2196L2206 6447H2349L2357 5870H2402L2412 6060H2431L2439 5870H3330L3340 6447H3484L3492 5870H3524L3534 6447H3536L3544 5870H3588L3598 6447H3617L3625 5870H3691L3701 6447H3720L3728 5870H3792L3802 6447H3823L3831 5870H3996L4006 6447H4027L4035 5870H4155L4165 6447H4169L4177 5870H4837L4847 5970H4862L4868 6447H4877L4881 5727L4887 5787H6534" stroke="#000" stroke-width="13" stroke-opacity="0.3"/>
<path d="M1177 5880H1452L1462 6447H1487L1495 5880H1671L1681 6447H1722L1730 5880H1830L1840 6447H1845L1853 5880H2402L2412 6060H2431L2439 5880H3317L3327 6447H3470L3478 5880H3588L3598 6447H3618L3626 5880H3895L3905 6447H3926L3934 5880H4100L4110 6447H4125L4133 5880H4160L4170 6447H4168L4176 5880H4837L4847 5970H4863H4868L4874 6447H6534" stroke="#000" stroke-width="13" stroke-opacity="0.3"/>
</g>
<g clip-path="url(#c10)" fill="none" stroke-linejoin="round" stroke-linecap="butt">
<path d="M6695 2466l5 16 5-18 5 7 10-19 5 1 5-6 5 2 5-8 15 16 10-19 15-13 5 22 10-22 15-7 5 11 5-11 5 14 5-7 15 19 10 3 5-8 15 16 10-2 5 11 5-4 15 9 25 22 30 64 10-10 15 8 30 50 5-7 5 8 5-3 10 9 5-5 30 48 10 6 5-1 5 8 10-1 15 14 5-7 5 9 5-9 5 14 5-3 5 13 5-13 10 26 5-3 10 7 5 19 10 11 15-28 5 9 5-2 15 13 10 20 15 1 10 21 10-8 15 10 15-9 5-12 15 3 10 17 5 0 5-9 15 17 10 4 5-8 10 13 5-10 5 5 10-8 15 9 5-7 5 9 5-4 5 6 15 2 5 16 10-9 10-2 15 20 5-16 5-1 5 8 5-1 15-14 5-11 10 10 5-1 15 36 5-1 5 10 5-2 5 6 5-6 5 10 5-8 5 0 5 8 15 2 5 14 5-9 10 2 10 20 15-4 10 9 10-8 20 16 10-22 5 1 5-6 5 13 15 12 10-5 5 7 5-5 5 15 10-2 5 6 20-35 5 12 5-9 10-3 5-11 5 5 5-13 10-5 15-22 10-30 5 9 15-16 5-15 15 22 5-20 5 25 5 5 5-8 5 3 10-16 5 14 15 0 10 17 5-7 5 11 10-19 5 12 5-5 5 8 10-5 15-14 10-19 15 2 5 17 10-23 5 3 5-7 5 2 15-27 5-2 5 5 5-24 5-2 5 4 20-26 5-18 5-6 5 1 10-13 5-14 5 3 5-9 5 10 5-5 5-15 5 0 30-44 5 2 20-22 10 7 5-12 10-3 15-22 10 2 5-7 5 4 10-11 5 5 10-19 5 4 15-2 5 7 20 5 5 7 5-1 10-18 5-1 5 14 15-8 10 5 10-2 10-15 5 11 5-6 15 10 5-10 5 7 5-7 5 1 5 13 10-11 5 1 35 60 5-6 5 5 5-11 10 0 15 31 5-6 10 8 10 20 5 23 10 12 5-8 5 3 5-7 5 11 10-6 5 5 15 45 10 8 25-31 10-4 5 6 20-44 5 5 10-5 5 8 10-4 5 7 10-11 20 18 10-15 5 15 5-11 10 2 5-16 10 20 20-25 10 4 5 9 5-2 5 12 5-10 10-5 5 8 15-6 5 3 5-7 5 7 20-40 10 23 5-2 5 10 5-16 10-2 5 9 20-10 15 10 10-20 5 13 10-18 5 4 5-10 20 26 65-27 5 16 5-16 5 1 15-14 5 14 5-5 5 10 10-15 5 12 5-8 10 20 10-17 5 9 20 4 5-11 5 15 5-3 5 17 5-5 5 6 10-14 15 19 5-4 20 19 5-2 5 6 10-11 5 10 15 9 10-1 10-22 5 11 5 4 5-2 30-28 5-13 15 7 10-4 5 13 15-9 20 0 5-7 5 3 5 16 5-5 5 8 5-3 10 21 5-6 5 8 5-10 5 1 5 12 20-21 10 24 30-9 5-8 5 5 10-13 5 10 15-12 10-17 15 7 5 8 20-15 5-11 5 4 5-7 5 10 30-29 5 11 15-21 5 2 5-9 10 1 5-17 25 21 10-14 10-2 5 6 15-19 5 9 5-7 15-2 5-10 5 4 5-12 5 0 5 10 5-10 5 3 15-15 10 11 5-16 10 11 5-11 5 7 10-23 10 7 5-5 5 11 10-26 10-11 5 21 5-5 10 11 5-22 10 21 5-5 5 16 10-16 5 3 5-7 10 22 15-17 20 14 5-5 10 7 5-6 15 14 5-4 5 8 10-10 5 12 5-8 15 25 5-3 10 14 5-4 5 12 20-40 5-2 25 50 5-18 20 40 10-26 15 21 5 0 10-11 5-2 5 9 20-14 5 17 15 22 10-24 20 12 10 1 5-6 5 15 5-2 5 16 5-1 5 12 10-21 15-2 15 17 15 6 25-11 25 27 10-5 5-10 5 9 5-6 15 4 5-9 5 4 15-1 5 12 10 7 10-7 5 8 5-12 5 7 10-8 10 12 5-11 15-9 5 14 15-1 10-10 10 11 15-5 5-7 15 21 10 2 5-5 5 9 20-34 20 15 10-4 5 7 5-6 10 19 5-9 5 3 10-9 10 6 5 11 5-11 5 0 10-11 5 13 10-3 10-13 15 6 10 14 10 0 15-11 10 15 5-7 5 14 5-14 15 6 5-7 5 6 15-13 5 12 5-9 15-6 10 10 5-11 5 8 10-10 20 17 5-10 5 5 5-7 5 10 5-16 5 7 10-4 10 20 5-12 5 5 5-21 10 9 10-3 5 4 5-11 10 15 5-15 15 3 5-7 5 11 10-19 5 3 5-5 5 3 10-4 20 6 5-5 5 15 25-27 5 8 25 12 25-35 5 15 5-8 5 7 10 1 10 8 10-18 10 12 15-22 5-3 5 6 10-13 10 14 10-8 5 8 5-7 5 12 10-2 15-27 20 13 5-6 10 18 5-21 5 32 10-20 5 12 5-6 10 9 10-18 20-1 5-7 10 3 5 10 5-3 5 4 15-8 10-15 5 3 5-5 10 7 10-10 5 2 10-14 10 26 10 2 5-4 5 5 10-6 15 7 10-7 5-11 5 4 20-2 5 6 5-10 10 12 5-10 5 9 5-4 10 13 5-8 5 19 5-22 5 4 10-4" stroke="#E1C16E" stroke-width="20"/>
<path d="M6695 1915l5 278 5-288 5 253 5-339 5 346 5-326 5 302 5-278 5 216 5-210 5 278 5-154 5 262 5-293 5 277 5-269 5 228 5-256 5 199 20-560 20 320 5-122 5 119 5-146 5 193 5-137 5 166 20-377 20 232 5-125 5 107 5-156 5 180 5-158 5 131 5-105 5 113 15-420 35 560 5-122 5 224 25-491 25 312 5-52 5 191 5-137 5 153 5-208 5 202 20-471 20 320 5-90 5 107 5-116 5 163 5-175 5 159 5-127 5 164 5-167 5 100 5-122 5 98 15-420 30 464 10 7 10-888 25 266 5-70 15 68 5-59 5 42 5-50 5 59 15-86 20 463 10-921 25 372 5-34 5 42 5-38 5 29 5-41 5 33 15-206 15 211 15-60 5 36 5-36 5 47 5-50 5 40 5-46 5 34 5-36 5 52 5-61 15 300 5-661 60 865 45 326 40 161 5-9 15 41 10-1186 85 906 40 199 35 90 10-1204 20 253 5-28 5 51 5-40 5 48 5-48 15 76 5-60 15 74 5-48 35 491 5-73 5 98 5-115 15 206 5-178 5 182 5-132 15 235 5-166 5 156 5-203 5 201 5-202 5 215 5-237 5 191 5-164 5 187 5-203 15 282 5-233 5 232 5-191 5 265 5-210 5 228 5-267 5 202 5-247 5 204 5-131 5 309 5-281 5 267 5-259 5 254 5-280 5 319 5-356 15 271 5-228 5 343 5-248 5 151 5-167 5 179 5-221 5 338 5-221 5 188 5-235 5 274 5-328 5 304 5-238 5 210 5-309 5 388 5-284 5 281 5-300 5 227 5-223 5 259 5-347 5 318 5-317 5 303 5-298 5 299 5-223 5 294 5-273 5 266 5-266 5 211 5-282 5 380 5-282 5 261 5-198 5 251 5-255 5 160 5-220 5 339 5-381 5 245 5-229 5 265 5-298 5 268 5-291 5 279 5-300 5 231 20-461 30 480 5-178 5 204 5-175 5 161 25-485 25 365 5-139 5 211 5-147 5 134 5-102 5 91 15-420 35 515 5-156 5 161 5-92 5 202 15-311 5 144 5-216 5 96 5-149 5 73 20-452 20 293 5-71 5 90 5-65 5 50 5-74 5 65 10-248 20 263 40 274 50 166 35 55 10-1478 25 413 5-40 25 60 75 540 10-934 20 329 5 42 10-30 15 81 45 402 10-848 20 343 30 138 40 394 10-832 20 333 5-27 20 91 45 392 10-915 20 426 5-28 20 86 50 396 10-764 25 333 10-321 40 763 5-445 5-79 15 75 25 876 5-238 5 222 5-214 5 231 5-233 5 225 5-160 5 139 5-215 5 217 5-222 5 214 5-247 5 253 5-287 5 271 5-225 5 267 5-228 5 262 5-327 5 300 5-272 5 246 5-236 5 288 5-268 5 270 5-294 5 214 5-235 5 137 5-137 5 166 5-167 15 393 5-198 5 197 5-221 5 221 5-231 5 207 5-136 5 123 5-191 5 170 20-459 20 320 5-66 5 139 5-115 5 151 5-204 5 124 5-162 5 107 15-328 25 356 5-106 5 70 5-88 5 163 5-119 5 99 20-401 20 320 5-99 5 168 5-164 15 177 25-587 35 560 5-128 5 190 20-488 30 392 5-88 5 115 5-173 5 99 5-136 5 70 15-420 25 382 15-141 5 81 5-90 5 77 5-74 5 39 10-234 10 160 5-50 40 296 55 222 70 123 105 74 55 9 5 14 70 3 20 18 10-25 10 21 20 11 5-17 10 20 20-19 5 13 10-9 25 19 30-8 15 14 20-11 15 10 10-11 20 18 5-16 10 13 10-11 15 11 40-5 10 11 5-8 40 8 5-19 5 14 10-5 5 13 15-11 10 14 15-17 5 14 5-10 20 13 25-12 10 12 10-20 10 23 5-19 10 13 40-8 15 10 10-10 5 12 40-11 5 10 20-7 5 11 15-19 10 14 10-9 20 15 10-14 15 9 15-11 5 12 10-10 10 13 15-15 5 18 25-20 20 13 5-15 5 15 5-10 5 12 15-9 5 16 10-18 20-5 5 19 20-16 50 8 25-16 20 16 15-12 10 14 40-12 5 17 10-19 15 13 100-6" stroke="#CD7F32" stroke-width="20"/>
<path d="M6695 1924l5 278 5-289 5 253 5-338 5 346 5-327 5 303 5-278 5 216 5-210 5 278 5-155 5 263 5-293 5 277 5-269 5 228 5-256 5 199 20-560 20 320 5-122 5 118 5-145 5 193 5-137 5 166 20-377 20 232 5-125 5 107 5-156 5 180 5-158 5 131 5-105 5 113 15-420 35 560 5-122 5 224 25-491 25 312 5-52 5 191 5-137 5 153 5-208 5 201 20-470 20 320 5-90 5 107 5-116 5 163 5-175 5 159 5-127 5 164 5-167 5 100 5-123 5 99 15-420 30 472 10-3 10-945 25 325 5-70 15 68 5-60 5 43 5-50 5 59 15-86 20 445 10-965 25 434 5-34 5 42 5-38 5 29 5-41 5 33 15-206 15 211 15-61 5 37 5-36 5 46 5-49 5 40 5-47 5 34 5-35 5 52 5-61 15 280 10-654 65 1059 40 299 55 199 10-1379 60 796 30 236 40 189 25 66 15-1210 20 211 5-39 5 51 5-40 5 48 5-48 15 76 5-60 15 74 5-48 35 491 5-73 5 98 5-116 15 207 5-178 5 182 5-132 15 235 5-166 5 156 5-203 5 201 5-202 5 215 5-237 5 191 5-164 5 187 5-203 15 282 5-233 5 232 5-191 5 265 5-210 5 228 5-267 5 202 5-247 5 204 5-131 5 309 5-282 5 268 5-259 5 254 5-280 5 319 5-356 15 271 5-228 5 343 5-248 5 151 5-167 5 179 5-221 5 338 5-221 5 188 5-235 5 273 5-327 5 304 5-238 5 210 5-309 5 388 5-284 5 281 5-300 5 227 5-223 5 259 5-347 5 318 5-317 5 303 5-298 5 299 5-223 5 294 5-273 5 266 5-266 5 211 5-282 5 380 5-282 5 260 5-197 5 251 5-255 5 160 5-220 5 339 5-381 5 245 5-229 5 265 5-299 5 269 5-292 5 280 5-300 5 231 20-461 30 480 5-178 5 204 5-175 5 161 25-485 25 365 5-139 5 211 5-147 5 134 5-102 5 91 15-420 35 515 5-156 5 161 5-92 5 202 15-311 5 143 5-215 5 96 5-149 5 73 20-452 20 293 5-71 5 90 5-65 5 50 5-74 5 65 10-248 10 160 55 407 50 166 30 45 10-1443 25 358 5-40 5 43 5-23 20 63 70 571 10-988 20 329 5 41 5-31 10 29 15 107 40 410 10-907 20 359 15 23 25 176 30 337 10-924 20 382 5-6 10 37 20 127 40 377 10-938 15 357 35 164 40 370 10-873 25 396 10-321 30 712 10-490 20 120 5-28 25 876 5-238 5 222 5-214 5 231 5-233 5 225 5-160 5 139 5-215 5 217 5-222 5 214 5-247 5 253 5-287 5 271 5-225 5 267 5-228 5 262 5-327 5 299 5-271 5 246 5-236 5 288 5-268 5 270 5-294 5 214 5-235 5 137 5-137 5 166 5-167 15 393 5-198 5 197 5-221 5 221 5-231 5 206 5-135 5 123 5-191 5 169 20-458 20 320 5-67 5 140 5-115 5 151 5-204 5 124 5-162 5 107 15-328 25 356 5-106 5 70 5-88 5 163 5-120 5 100 20-401 20 320 5-99 5 167 5-163 15 177 25-587 35 560 5-128 5 189 25-495 25 400 5-88 5 115 5-173 5 99 5-136 5 70 15-420 25 382 15-142 5 82 5-90 5 77 5-74 5 39 10-234 10 160 5-50 40 278 40 168 55 106 80 71 65 17 25 19 130 25 10-10 25 12 60-1 25 12 35-7 75 12 30-9 20 10 90-5 20 9 50-9 25 10 55-10 20 8 150-6 25 7 45-10 25 9 25-8 205 1 10-9 45 10 150-6" stroke="#A52A2A" stroke-width="20"/>
<path d="M6695 1915l5 279 5-289 5 253 5-338 5 346 5-327 5 303 5-278 5 216 5-210 5 278 5-155 5 263 5-293 5 277 5-269 5 228 5-257 5 200 5-241 5-39 10-280 20 320 5-122 5 118 5-145 5 193 5-137 5 166 5-179 5 82 10-280 5-8 15 240 5-125 5 106 5-155 5 180 5-158 5 131 5-105 5 113 15-420 35 560 5-122 5 224 5-168 5 97 15-420 5-8 20 320 5-52 5 191 5-137 5 153 5-208 5 201 5-194 15-276 20 320 5-90 5 106 5-115 5 163 5-175 5 159 5-128 5 165 5-167 5 100 5-123 5 99 15-420 30 470 10-4 10-891 15 200 10 74 5-70 5 54 5-33 5 47 5-60 5 42 5-49 5 59 5-67 5 36 5-55 20 383 5-761 5-29 15 281 5-3 5 43 5-35 5 43 5-38 5 29 5-41 5 33 15-206 15 211 5-48 5 22 5-35 5 37 5-36 5 46 5-49 5 40 5-47 5 34 5-35 5 52 5-61 10 145 5 316 5-688 5-106 15 329 30 401 25 260 5-41 20-900 5-75 45 1410 5 30 5-11 5 23 10-1279 40 510 25 254 30 197 40 157 5 14 5-2 15 42 10-1151 20 257 5-39 5 51 5-40 5 47 5-47 5 50 5-35 5 61 5-60 5 50 5-26 5 50 5-48 10 133 5 158 5-46 5 163 5-69 5 151 5-72 5 98 5-116 5 156 5-87 5 138 5-178 5 182 5-132 5 176 5-113 5 172 5-166 5 156 5-203 5 201 5-202 5 214 5-236 5 191 5-164 5 187 5-203 5 219 5-158 5 221 5-233 5 231 5-190 5 265 5-210 5 228 5-267 5 202 5-247 5 204 5-131 5 309 5-282 5 268 5-260 5 255 5-280 5 319 5-356 5 214 5-126 5 183 5-228 5 343 5-248 5 151 5-167 5 179 5-221 5 338 5-221 5 188 5-235 5 273 5-327 5 303 5-237 5 210 5-309 5 388 5-285 5 282 5-300 5 227 5-223 5 259 5-347 5 318 5-317 5 303 5-298 5 299 5-223 5 294 5-273 5 266 5-266 5 210 5-281 5 380 5-282 5 260 5-197 5 251 5-255 5 160 5-220 5 339 5-381 5 245 5-229 5 265 5-299 5 269 5-292 5 280 5-300 5 231 5-229 5 48 10-280 20 320 5 5 5 155 5-178 5 203 5-174 5 161 5-157 5 4 15-332 15 240 5-4 5 128 5-138 5 211 5-147 5 134 5-102 5 91 15-420 25 400 5-29 5 143 5-155 5 160 5-91 5 202 5-168 5 102 5-245 5 143 5-215 5 96 5-149 5 72 20-451 20 293 5-71 5 90 5-65 5 49 5 22 5 2 10-280 30 431 10 1 5 22 5 9 10 5 20 37 5-3 5 11 20 8 5-827 5-18 5 12 5-4 10 1 5-7 5 7 5-2 5 15 5-58 5 55 5-50 5 47 5-39 15 41 15 68 5 5 35 238 20 173 5 28 5 4 5-708 5-117 15 249 25 77 25 198 25 264 5-167 5-749 25 424 5-19 5 15 5 3 25 173 30 330 10-969 20 437 5-7 10 24 20 107 25 201 15 171 10-907 15 312 10 109 5-2 5 20 20 105 35 311 5 14 5-683 5-94 15 287 5 42 5-48 5 68 5-21 5 30 20 228 10 216 5-443 5-96 10 55 5 4 5 201 5 33 5 353 5-53 5 342 5-238 5 222 5-214 5 231 5-233 5 225 5-161 5 140 5-215 5 217 5-222 5 213 5-246 5 253 5-287 5 271 5-225 5 266 5-227 5 262 5-327 5 299 5-271 5 246 5-236 5 288 5-268 5 270 5-294 5 213 5-235 5 138 5-137 5 166 5-167 5 272 5-167 5 288 5-198 5 197 5-221 5 221 5-231 5 206 5-135 5 123 5-191 5 169 5-236 15-222 20 320 5-67 5 140 5-115 5 151 5-204 5 124 5-162 5 106 15-327 20 222 5 134 5-106 5 70 5-88 5 163 5-120 5 100 20-401 20 320 5-99 5 167 5-163 5 130 5-92 5 139 25-587 30 429 5 131 5-128 5 189 20-487 5-8 25 400 5-89 5 116 5-173 5 99 5-136 5 70 15-420 25 382 5-111 5 77 5-108 5 82 5-90 5 77 5-75 5 40 10-234 10 160 5-50 5 29 25-67 15-15 10 0 10-14 10 5 10-11 25 3 10-9 30 0 10-6 20 3 15-6 15 3 10-9 45-2 10-7 10 9 25-3 15-9 20 3 20-7 10 4 10-4 10 3 10-7 10-1 15 6 10-11 25 6 15-7 40-1 5-3 25 7 35-12 10 6 15-8 10 7 20-7 15 6 15-8 10 2 10-6 20 8 10-7 15 7 10-5 5 3 30-8 10 3 10-5 20 8 15-10 10 7 25-9 10 8 15 1 10-7 35-1 10-4 20 7 30-5 15 5 15-7 25 3 5-5 25 6 35-8 15 1 10 6 25-7 10 6 10-10 5 6 10-2 10 6 10-7 35 2 15-5 20 7 20-6 10 6 30-9 10 7 10-8 15 7 45-8 10 5 10-10 20 9 25 2 55-6 25 3 20-4 25 8 15-7 15 0" stroke="#F5DEB3" stroke-width="20"/>
<path d="M6695 1905l5 279 5-289 5 253 5-338 5 346 5-327 5 302 5-277 5 215 5-210 5 279 5-155 5 263 5-293 5 277 5-270 5 228 5-256 5 199 20-560 20 320 5-122 5 119 5-145 5 193 5-138 5 167 20-378 20 232 5-125 5 107 5-156 5 180 5-158 5 131 5-105 5 113 15-420 35 560 5-121 5 224 25-492 25 312 5-52 5 191 5-137 5 154 5-209 5 202 20-471 20 320 5-90 5 107 5-116 5 163 5-175 5 159 5-127 5 165 5-168 5 101 5-123 5 98 15-420 30 472 10-3 10-927 25 307 5-69 15 67 5-59 5 42 5-50 5 59 15-85 15 340 10-891 20 446 5-25 5 43 5-34 5 43 5-39 5 30 5-42 5 33 15-206 15 211 15-60 5 36 5-36 5 47 5-49 5 40 5-47 5 34 5-35 5 51 5-60 15 242 10-563 50 856 20 207 20 97 15-972 25 203 5-55 5 52 5-53 15 57 5-49 5 65 5-43 5 42 5-44 5 14 35 438 25 147 20-825 35 1050 20 104 15-1111 20 233 5-39 5 50 5-40 5 48 5-47 15 75 5-59 15 74 5-49 35 491 5-72 5 97 5-115 15 206 5-178 5 182 5-132 15 236 5-167 5 156 5-203 5 201 5-201 5 214 5-237 5 191 5-164 5 187 5-203 15 282 5-233 5 232 5-191 5 265 5-209 5 228 5-267 5 201 5-246 5 203 5-131 5 309 5-281 5 267 5-259 5 254 5-280 5 319 5-355 15 270 5-227 5 342 5-248 5 151 5-166 5 178 5-220 5 338 5-222 5 188 5-234 5 273 5-328 5 304 5-237 5 209 5-308 5 387 5-284 5 282 5-300 5 226 5-222 5 259 5-348 5 319 5-318 5 303 5-298 5 299 5-222 5 294 5-273 5 265 5-266 5 211 5-282 5 381 5-283 5 261 5-198 5 252 5-255 5 159 5-220 5 339 5-380 5 244 5-229 5 265 5-298 5 269 5-292 5 279 5-299 5 231 20-462 30 480 5-178 5 204 5-175 5 161 25-485 25 365 5-138 5 211 5-148 5 135 5-102 5 90 15-420 35 515 5-155 5 160 5-92 5 203 15-312 5 144 5-216 5 96 5-149 5 73 20-452 20 293 5-70 5 89 5-65 5 50 5-74 5 65 10-248 10 160 45 334 40 145 45 78 15-1458 25 434 5-40 5 44 5-25 15 36 75 528 10-956 20 368 35 164 40 386 10-901 20 385 10-27 15 80 45 406 10-822 20 340 5-15 10 20 25 146 35 325 10-798 15 271 45 214 35 343 10-851 20 348 10-322 35 684 10-425 15 69 5-14 25 876 5-238 5 222 5-214 5 231 5-232 5 224 5-160 5 139 5-214 5 216 5-221 5 213 5-247 5 253 5-286 5 270 5-225 5 267 5-228 5 263 5-327 5 299 5-272 5 246 5-236 5 289 5-268 5 269 5-294 5 214 5-235 5 138 5-138 5 166 5-167 15 393 5-198 5 197 5-221 5 221 5-230 5 206 5-135 5 123 5-191 5 169 20-459 20 320 5-66 5 139 5-114 5 150 5-204 5 125 5-162 5 106 15-328 25 356 5-106 5 71 5-88 5 162 5-119 5 100 20-402 20 320 5-98 5 167 5-164 15 178 25-588 35 560 5-127 5 189 25-496 25 400 5-88 5 116 5-173 5 99 5-136 5 69 15-420 25 383 15-142 5 82 5-90 5 77 5-75 5 40 10-235 10 160 5-50 45 312 35 134 65 129 35 33 70 39 95 19 25 16 130 18 10-10 25 11 60-2 25 11 35-8 75 11 30-9 20 9 90-5 20 8 50-9 25 10 55-10 65 9 45-8 120 6 10-9 25 10 60-10 90 6 10-8 70 4 10-9 45 10 85-5" stroke="#DAA06D" stroke-width="20"/>
<path d="M6695 1924l5 278 5-289 5 253 5-338 5 346 5-327 5 303 5-278 5 216 5-210 5 278 5-155 5 263 5-293 5 277 5-269 5 228 5-256 5 199 5-241 5-39 10-280 20 320 5-122 5 118 5-145 5 193 5-137 5 166 5-179 5 82 10-280 5-8 15 240 5-125 5 107 5-156 5 180 5-158 5 131 5-105 5 113 15-420 35 560 5-122 5 224 5-168 5 97 15-420 5-8 20 320 5-52 5 191 5-137 5 153 5-208 5 201 5-194 15-276 20 320 5-90 5 107 5-116 5 163 5-175 5 159 5-127 5 164 5-167 5 100 5-123 5 99 15-420 30 472 10-3 5-168 5-737 5-25 20 310 5-70 5 55 5-34 5 47 5-60 5 43 5-50 5 59 5-67 5 36 5-55 15 356 5-167 5-698 20 409 5-29 5 43 5-34 5 42 5-38 5 29 5-41 5 33 15-206 15 211 5-48 5 22 5-35 5 37 5-36 5 46 5-49 5 40 5-47 5 34 5-35 5 52 5-61 10 148 5 325 5-764 5-117 20 473 45 611 40 302 5 25 5 3 20 106 5-2 10 55 5-10 5 24 10-1386 65 848 30 234 40 186 5 16 5 1 15 48 10-1287 20 248 5-34 5 51 5-40 5 48 5-48 5 50 5-35 5 61 5-60 5 50 5-25 5 49 5-48 10 133 5 158 5-46 5 163 5-69 5 152 5-73 5 98 5-116 5 156 5-87 5 138 5-178 5 182 5-132 5 176 5-113 5 172 5-166 5 156 5-203 5 201 5-202 5 215 5-237 5 191 5-164 5 187 5-203 5 219 5-158 5 221 5-233 5 232 5-191 5 265 5-210 5 228 5-267 5 202 5-247 5 204 5-131 5 309 5-282 5 268 5-259 5 254 5-280 5 319 5-356 5 214 5-126 5 183 5-228 5 343 5-248 5 151 5-167 5 179 5-221 5 338 5-221 5 188 5-235 5 273 5-327 5 304 5-238 5 210 5-309 5 388 5-284 5 281 5-300 5 227 5-223 5 259 5-347 5 318 5-317 5 303 5-298 5 299 5-223 5 294 5-273 5 266 5-266 5 211 5-282 5 380 5-282 5 260 5-197 5 251 5-255 5 160 5-220 5 339 5-381 5 245 5-229 5 265 5-299 5 269 5-292 5 280 5-300 5 231 5-229 5 48 10-280 20 320 5 5 5 155 5-178 5 204 5-175 5 161 5-157 5 4 15-332 15 240 5-4 5 129 5-139 5 211 5-147 5 134 5-102 5 91 15-420 25 400 5-28 5 143 5-156 5 161 5-92 5 202 5-167 5 101 5-245 5 143 5-215 5 96 5-149 5 73 20-452 20 293 5-71 5 90 5-65 5 50 5-74 5 65 10-248 10 160 20 185 35 229 25 97 25 69 30 52 10-1533 15 314 10 120 5-40 5 43 5-19 5 13 25 105 60 497 10-924 15 237 10 84 5-16 20 95 25 234 20 246 10-986 20 419 5-27 20 88 25 216 20 229 10-916 20 393 5-20 5 28 5 0 15 92 30 261 15 188 10-897 15 287 5 6 5 53 5 2 10 35 25 170 25 254 5 134 10-969 20 373 10-321 15 431 20 298 10-515 15 102 5-2 5 201 5 33 5 353 5-52 5 341 5-238 5 222 5-214 5 231 5-233 5 225 5-160 5 139 5-215 5 217 5-222 5 214 5-247 5 253 5-287 5 271 5-225 5 267 5-228 5 262 5-327 5 299 5-271 5 246 5-236 5 288 5-268 5 270 5-294 5 214 5-235 5 137 5-137 5 166 5-167 5 272 5-167 5 288 5-198 5 197 5-221 5 221 5-231 5 206 5-135 5 123 5-191 5 169 5-236 15-222 20 320 5-67 5 140 5-115 5 151 5-204 5 124 5-162 5 107 15-328 20 222 5 134 5-106 5 70 5-88 5 163 5-120 5 100 20-401 20 320 5-99 5 167 5-163 5 130 5-92 5 139 25-587 30 430 5 130 5-128 5 189 20-487 5-8 25 400 5-88 5 115 5-173 5 99 5-136 5 70 15-420 25 382 5-111 5 77 5-108 5 82 5-90 5 77 5-74 5 39 10-234 10 160 5-50 35 285 25 150 25 103 35 94 20 35 50 65 30 25 10-1 45 29 10-3 10 15 15 6 25 0 20 12 20 0 30 12 10-3 10 2 15 10 10-9 25 13 15-4 40 8 5-3 25 13 35-6 10 7 15-5 10 7 20-3 15 8 15-7 10 3 10-4 20 10 10-6 15 9 10-5 5 4 30-5 10 4 10-4 20 9 15-9 10 8 25-7 10 9 15 2 10-7 35 1 10-3 20 8 30-4 20 5 10-5 25 3 5-4 30 7 5-4 25-2 15 0 10 7 20-6 15 6 10-9 5 6 10-3 10 7 25-8 20 4 15-5 20 8 20-6 10 6 30-8 10 8 10-9 15 7 45-7 10 6 10-10 20 8 25 3 55-5 25 3 20-4 25 8 20-6" stroke="#800020" stroke-width="20"/>
<path d="M6695 1914l5 279 5-289 5 253 5-338 5 346 5-327 5 303 5-278 5 216 5-210 5 278 5-155 5 263 5-293 5 277 5-269 5 228 5-257 5 200 20-560 20 320 5-122 5 118 5-145 5 193 5-137 5 166 20-377 20 232 5-125 5 106 5-155 5 180 5-158 5 131 5-105 5 113 15-420 35 560 5-122 5 224 25-491 25 312 5-52 5 191 5-137 5 153 5-208 5 201 20-470 20 320 5-90 5 106 5-115 5 163 5-175 5 159 5-128 5 165 5-167 5 100 5-123 5 99 15-420 30 469 10-4 10-988 25 372 5-70 15 68 5-60 5 42 5-49 5 59 15-86 20 393 10-896 25 417 5-35 5 43 5-38 5 29 5-41 5 33 15-206 15 211 15-61 5 37 5-36 5 46 5-49 5 40 5-47 5 34 5-35 5 52 5-61 15 508 10-843 40 679 35 364 25-831 40 1180 15 45 15-1277 45 652 25 223 20 76 10-960 20 250 5-41 5 54 5-42 5 41 5-50 5 43 5-50 5 51 5-44 5 58 5-36 5 52 15-49 5 51 5-40 5 47 5-47 5 50 5-35 5 61 5-60 15 74 5-48 35 490 5-72 5 98 5-116 15 207 5-178 5 182 5-132 15 235 5-166 5 156 5-203 5 201 5-202 5 214 5-236 5 191 5-164 5 187 5-203 15 282 5-233 5 231 5-190 5 265 5-210 5 228 5-267 5 202 5-247 5 204 5-131 5 309 5-282 5 268 5-260 5 255 5-280 5 319 5-356 15 271 5-228 5 343 5-248 5 151 5-167 5 179 5-221 5 338 5-221 5 188 5-235 5 273 5-327 5 303 5-237 5 210 5-309 5 388 5-285 5 282 5-300 5 227 5-223 5 259 5-347 5 318 5-317 5 303 5-298 5 299 5-223 5 294 5-273 5 266 5-266 5 210 5-281 5 380 5-282 5 260 5-197 5 251 5-255 5 160 5-220 5 339 5-381 5 245 5-229 5 265 5-299 5 269 5-292 5 280 5-300 5 231 20-461 30 480 5-178 5 203 5-174 5 161 25-485 25 364 5-138 5 211 5-147 5 134 5-102 5 91 15-420 35 514 5-155 5 160 5-91 5 202 15-311 5 143 5-215 5 96 5-149 5 72 20-451 20 293 5-71 5 90 5-65 5 49 5-73 5 64 10-247 10 160 50 349 45 147 40 69 10-1425 25 392 5-39 20 48 25 134 55 483 10-964 15 265 10 70 5-15 10 31 20 136 35 349 10-867 20 358 5-54 15 66 50 455 15-835 15 309 20 59 25 159 30 301 10-828 15 277 50 274 30 341 10-899 20 355 10-321 35 694 10-455 15 84 5-9 25 876 5-238 5 222 5-214 5 231 5-233 5 225 5-161 5 140 5-215 5 217 5-222 5 213 5-246 5 253 5-287 5 271 5-225 5 266 5-227 5 262 5-327 5 299 5-271 5 246 5-236 5 288 5-268 5 270 5-294 5 213 5-235 5 138 5-137 5 166 5-167 15 393 5-198 5 197 5-221 5 221 5-231 5 206 5-135 5 123 5-191 5 169 20-458 20 320 5-67 5 140 5-115 5 151 5-204 5 124 5-162 5 106 15-327 25 356 5-106 5 70 5-88 5 163 5-120 5 100 20-401 20 320 5-99 5 167 5-163 15 177 25-587 35 560 5-128 5 189 20-487 30 392 5-89 5 116 5-173 5 99 5-136 5 70 15-420 25 382 15-142 5 82 5-90 5 77 5-75 5 40 10-234 10 160 5-50 50 365 35 143 65 147 35 39 70 48 95 25 25 17 130 23 10-9 25 11 60-1 25 12 35-7 75 12 30-8 20 10 90-5 20 9 50-8 25 10 55-9 65 9 45-7 120 8 10-9 25 10 60-9 90 8 10-9 70 6 10-10 45 11 80-2" stroke="#6E260E" stroke-width="20"/>
<path d="M6695 1913l5 279 5-289 5 253 5-338 5 346 5-327 5 303 5-278 5 216 5-210 5 278 5-155 5 263 5-293 5 277 5-270 5 228 5-256 5 200 20-560 20 320 5-123 5 119 5-145 5 193 5-138 5 167 20-377 20 232 5-125 5 106 5-155 5 179 5-158 5 132 5-105 5 113 15-420 35 560 5-122 5 224 25-491 25 312 5-52 5 191 5-137 5 153 5-208 5 201 20-470 20 320 5-91 5 107 5-116 5 164 5-175 5 158 5-127 5 165 5-168 5 101 5-123 5 99 15-420 35 465 15-892 25 275 5-69 15 68 5-60 5 42 5-49 5 59 15-86 15 331 10-831 20 391 5-20 5 43 5-35 5 43 5-39 5 30 5-42 5 34 15-206 15 210 15-60 5 36 5-35 5 46 5-49 5 40 5-47 5 34 5-35 5 52 5-61 15 337 5-723 50 873 15 174 30 153 10-974 20 251 5-73 5 53 5-56 5 52 5-53 15 57 5-49 5 66 5-44 5 42 5-44 5 16 55 594 25-835 35 1050 5 75 20 58 10-1149 20 241 5-39 5 51 5-41 5 48 5-47 15 75 5-59 15 74 5-48 35 490 5-72 5 98 5-116 15 206 5-177 5 182 5-132 15 235 5-167 5 157 5-204 5 202 5-202 5 214 5-237 5 191 5-164 5 188 5-203 15 281 5-232 5 231 5-191 5 266 5-210 5 228 5-267 5 202 5-247 5 203 5-131 5 310 5-282 5 268 5-260 5 255 5-280 5 319 5-356 15 270 5-227 5 343 5-249 5 151 5-166 5 179 5-221 5 338 5-222 5 189 5-235 5 273 5-327 5 303 5-237 5 210 5-309 5 388 5-285 5 282 5-300 5 226 5-222 5 259 5-347 5 318 5-317 5 303 5-299 5 300 5-223 5 294 5-273 5 266 5-266 5 210 5-282 5 381 5-283 5 261 5-198 5 252 5-255 5 159 5-219 5 338 5-380 5 245 5-229 5 265 5-299 5 269 5-292 5 280 5-300 5 231 20-461 30 480 5-179 5 204 5-174 5 160 25-484 25 364 5-138 5 211 5-147 5 134 5-102 5 91 15-420 35 514 5-155 5 160 5-91 5 202 15-311 5 143 5-216 5 97 5-149 5 72 20-451 20 293 5-71 5 89 5-64 5 49 5-73 5 64 10-247 50 476 40 161 55 104 10-1500 25 451 5-39 10 20 25 111 60 433 10-875 20 295 10 52 5-28 5 17 15 79 45 399 10-874 20 389 5-44 20 104 45 415 10-843 20 330 35 147 35 308 15-741 15 280 5-18 35 177 40 336 10-791 20 330 10-321 15 406 25 292 5-443 5-14 15 72 25 876 5-237 5 221 5-214 5 231 5-232 5 225 5-161 5 139 5-214 5 217 5-222 5 213 5-246 5 252 5-286 5 270 5-224 5 266 5-228 5 263 5-327 5 299 5-271 5 245 5-236 5 289 5-268 5 270 5-294 5 213 5-235 5 138 5-137 5 166 5-167 15 393 5-199 5 198 5-222 5 222 5-231 5 206 5-135 5 123 5-191 5 169 20-458 20 320 5-67 5 139 5-114 5 150 5-204 5 125 5-162 5 106 15-327 25 356 5-106 5 70 5-88 5 163 5-120 5 100 20-401 20 320 5-99 5 167 5-163 15 177 25-587 35 560 5-128 5 189 25-495 25 400 5-89 5 116 5-173 5 99 5-136 5 70 15-420 25 382 15-142 5 82 5-90 5 77 5-75 5 40 10-234 10 160 5-50 45 333 45 184 50 112 35 44 70 51 95 28 25 17 130 23 10-9 25 11 60 0 25 11 35-7 75 13 30-8 20 9 90-4 20 9 50-8 25 10 55-9 195 10 45-9 25 10 25-8 205 4 10-10 45 11 90-4" stroke="#C19A6B" stroke-width="20"/>
<path d="M6695 1923l5 279 5-289 5 253 5-339 5 346 5-326 5 302 5-278 5 216 5-210 5 279 5-155 5 263 5-294 5 278 5-270 5 228 5-256 5 199 20-560 20 320 5-122 5 119 5-145 5 192 5-137 5 166 20-377 20 232 5-125 5 107 5-156 5 180 5-158 5 131 5-105 5 113 15-420 35 560 5-121 5 224 25-492 25 312 5-52 5 191 5-137 5 154 5-209 5 202 20-471 20 320 5-90 5 107 5-116 5 163 5-175 5 159 5-127 5 165 5-168 5 101 5-123 5 98 15-420 30 469 10-4 10-976 25 360 5-70 15 68 5-59 5 42 5-50 5 59 15-85 20 461 10-910 25 362 5-34 5 43 5-39 5 29 5-41 5 33 15-206 15 211 15-60 5 36 5-36 5 47 5-49 5 40 5-47 5 34 5-36 5 52 5-60 15 239 10-691 20 505 45 575 40 268 55 179 10-1264 65 774 30 200 40 159 25 55 10-1141 20 234 5-39 5 50 5-40 5 48 5-48 15 76 5-59 15 74 5-49 35 491 5-73 5 98 5-115 15 206 5-178 5 182 5-132 15 236 5-167 5 156 5-203 5 201 5-201 5 214 5-237 5 191 5-164 5 187 5-203 15 282 5-233 5 232 5-191 5 265 5-210 5 229 5-267 5 201 5-246 5 203 5-131 5 309 5-281 5 267 5-259 5 254 5-280 5 319 5-355 15 270 5-228 5 343 5-248 5 151 5-167 5 179 5-220 5 338 5-222 5 188 5-235 5 274 5-328 5 304 5-238 5 210 5-308 5 387 5-284 5 282 5-301 5 227 5-222 5 259 5-348 5 318 5-317 5 303 5-298 5 299 5-222 5 294 5-273 5 265 5-266 5 211 5-282 5 381 5-283 5 261 5-198 5 251 5-254 5 159 5-220 5 339 5-380 5 244 5-229 5 265 5-298 5 269 5-292 5 279 5-299 5 230 20-461 30 480 5-178 5 204 5-175 5 161 25-485 25 365 5-139 5 212 5-148 5 135 5-102 5 90 15-420 35 515 5-155 5 160 5-92 5 203 15-312 5 144 5-216 5 96 5-149 5 73 20-452 20 293 5-70 5 89 5-65 5 50 5-74 5 65 10-248 50 482 40 164 55 110 10-1497 25 434 5-40 5 44 5-23 5 9 25 94 60 466 10-930 25 377 5-24 15 46 50 448 10-911 20 406 20 46 50 446 10-899 20 398 15 26 25 155 35 349 10-919 15 324 45 226 35 313 10-836 20 378 10-322 35 658 10-437 20 93 25 876 5-238 5 222 5-214 5 231 5-232 5 224 5-160 5 139 5-215 5 217 5-221 5 213 5-247 5 253 5-286 5 270 5-225 5 267 5-228 5 263 5-327 5 299 5-272 5 246 5-236 5 289 5-269 5 270 5-294 5 214 5-235 5 138 5-138 5 166 5-167 15 393 5-198 5 197 5-221 5 221 5-230 5 206 5-135 5 123 5-191 5 169 20-459 20 320 5-66 5 139 5-114 5 150 5-204 5 125 5-162 5 106 15-328 25 356 5-106 5 70 5-88 5 163 5-119 5 100 20-402 20 320 5-98 5 167 5-164 15 178 25-588 35 560 5-127 5 189 20-488 30 392 5-88 5 115 5-172 5 99 5-137 5 70 15-420 25 383 15-142 5 82 5-91 5 78 5-75 5 40 10-235 10 160 5-50 40 292 40 186 55 126 80 86 65 24 25 20 25-11 15 24 45 4 5 11 25-15 15 17 15-16 5 22 10-16 10 22 5-14 10 12 10-18 10 16 15-7 15 17 35-11 5 17 5-10 10 12 20-17 15 22 15-16 15 17 20-14 10 9 15-16 5 24 15-17 5 14 50-14 10 10 15-7 5 11 5-13 15 12 10-12 5 20 30-21 25 26 10-17 5 9 5-11 15 10 20-15 5 12 35 5 15-10 5 12 10-14 25-2 5 12 25-3 5 12 15-19 10 19 10-15 5 13 5-13 15-1 10 14 20-6 5-18 5 18 10-18 5 18 20 5 10-14 35 15 20-15 25 15 5-12 25 1 5-9 10 16 5-14 10 21 10-16 15 8 15-18 15 19 10-14 10 12 15-3 5-15 10 16 15-9 10 14 25-9 5 12 5-18 15 15 15-18 15 16 15-10 15 11 40-12 5 8" stroke="#D27D2D" stroke-width="20"/>
<path d="M6695 1924l5 278 5-289 5 253 5-338 5 346 5-327 5 303 5-278 5 216 5-210 5 278 5-155 5 263 5-293 5 277 5-269 5 228 5-256 5 199 5-241 5-39 10-280 20 320 5-122 5 118 5-145 5 193 5-137 5 166 5-179 5 82 10-280 5-8 15 240 5-125 5 107 5-156 5 180 5-158 5 131 5-105 5 113 15-420 35 560 5-122 5 224 5-168 5 97 15-420 5-8 20 320 5-52 5 191 5-137 5 153 5-208 5 201 5-194 15-276 20 320 5-90 5 107 5-116 5 163 5-175 5 159 5-127 5 164 5-167 5 100 5-123 5 99 15-420 30 471 10-3 5-108 5-678 5-81 20 248 5-70 5 55 5-34 5 47 5-60 5 43 5-50 5 59 5-67 5 36 5-55 20 470 5-887 5-72 15 346 10 57 5-34 5 42 5-38 5 29 5-41 5 33 15-206 15 211 5-48 5 22 5-35 5 37 5-36 5 46 5-49 5 40 5-47 5 34 5-35 5 52 5-61 10 171 5 273 5-695 5-66 15 320 45 617 40 322 5 27 5 5 20 112 5-1 10 57 5-9 5 25 5 3 10-1381 55 791 30 252 40 200 25 71 5 1 5-301 5-936 5 18 20 216 5-39 5 51 5-40 5 48 5-48 5 50 5-35 5 61 5-60 5 50 5-25 5 49 5-48 10 133 5 158 5-46 5 163 5-69 5 152 5-73 5 98 5-116 5 156 5-87 5 138 5-178 5 182 5-132 5 176 5-113 5 172 5-166 5 156 5-203 5 201 5-202 5 215 5-237 5 191 5-164 5 187 5-203 5 219 5-158 5 221 5-233 5 232 5-191 5 265 5-210 5 228 5-267 5 202 5-247 5 204 5-131 5 309 5-282 5 268 5-259 5 254 5-280 5 319 5-356 5 214 5-126 5 183 5-228 5 343 5-248 5 151 5-167 5 179 5-221 5 338 5-221 5 188 5-235 5 273 5-327 5 304 5-238 5 210 5-309 5 388 5-284 5 281 5-300 5 227 5-223 5 259 5-347 5 318 5-317 5 303 5-298 5 299 5-223 5 294 5-273 5 266 5-266 5 211 5-282 5 380 5-282 5 260 5-197 5 251 5-255 5 160 5-220 5 339 5-381 5 245 5-229 5 265 5-299 5 269 5-292 5 280 5-300 5 231 5-229 5 48 10-280 20 320 5 5 5 155 5-178 5 204 5-175 5 161 5-157 5 4 15-332 15 240 5-4 5 129 5-139 5 211 5-147 5 134 5-102 5 91 15-420 25 400 5-28 5 143 5-156 5 161 5-92 5 202 5-167 5 101 5-245 5 143 5-215 5 96 5-149 5 73 20-452 20 293 5-71 5 90 5-65 5 50 5-74 5 65 10-248 10 160 30 259 20 126 10 29 10 55 30 94 35 60 10-1569 25 479 5-40 5 43 5-20 15 61 5 5 40 289 30 288 10-1024 20 353 5 41 5-25 10 37 15 113 40 423 10-975 20 419 5-18 10 21 25 184 30 347 10-947 20 396 5-20 10 27 20 118 25 218 15 184 10-944 15 317 10 98 5-2 5 21 20 112 40 386 5-677 5-129 20 288 10-321 15 429 20 296 10-506 15 96 5-1 5 201 5 33 5 353 5-52 5 341 5-238 5 222 5-214 5 231 5-233 5 225 5-160 5 139 5-215 5 217 5-222 5 214 5-247 5 253 5-287 5 271 5-225 5 267 5-228 5 262 5-327 5 299 5-271 5 246 5-236 5 288 5-268 5 270 5-294 5 214 5-235 5 137 5-137 5 166 5-167 5 272 5-167 5 288 5-198 5 197 5-221 5 221 5-231 5 206 5-135 5 123 5-191 5 169 5-236 15-222 20 320 5-67 5 140 5-115 5 151 5-204 5 124 5-162 5 107 15-328 20 222 5 134 5-106 5 70 5-88 5 163 5-120 5 100 20-401 20 320 5-99 5 167 5-163 5 130 5-92 5 139 25-587 30 430 5 130 5-128 5 189 20-487 5-8 25 400 5-88 5 115 5-173 5 99 5-136 5 70 15-420 25 382 5-111 5 77 5-108 5 82 5-90 5 77 5-74 5 39 10-234 10 160 5-50 50 393 25 123 20 66 35 85 20 36 30 39 30 28 10 0 45 32 10-2 10 16 25 9 15-2 20 12 20 0 30 14 10-4 10 2 15 11 10-9 25 13 15-4 40 9 5-3 25 13 35-6 10 8 15-6 15 9 15-5 20 8 10-6 10 3 10-4 20 10 10-6 15 9 10-5 5 4 30-5 10 4 10-4 20 9 15-8 10 8 25-8 10 9 15 3 10-7 35 1 10-4 20 9 30-4 20 5 10-5 25 3 5-4 30 7 5-5 25-2 15 1 10 7 20-6 15 6 10-9 5 6 10-3 10 7 25-8 20 4 15-5 20 8 20-6 10 6 30-8 10 8 10-9 15 7 45-7 10 6 10-10 20 8 25 3 55-5 25 4 20-5 25 8 15-7 15 1" stroke="#E97451" stroke-width="20"/>
<path d="M6695 1891l5 279 5-289 5 253 5-338 5 346 5-327 5 303 5-278 5 216 5-210 5 278 5-155 5 263 5-293 5 277 5-269 5 228 5-257 5 200 5-241 5-39 10-280 20 320 5-122 5 118 5-145 5 193 5-137 5 166 5-179 5 82 10-280 5-8 15 240 5-125 5 106 5-155 5 180 5-158 5 131 5-105 5 113 15-420 35 560 5-122 5 224 5-168 5 97 15-420 5-8 20 320 5-52 5 191 5-137 5 153 5-208 5 201 5-194 15-276 20 320 5-90 5 106 5-115 5 163 5-175 5 159 5-128 5 165 5-167 5 100 5-123 5 99 15-420 30 470 10-4 10-923 25 306 5-70 5 54 5-33 5 47 5-60 5 42 5-49 5 59 5-67 5 36 5-55 20 396 10-859 15 297 10 80 5-35 5 43 5-38 5 29 5-41 5 33 15-206 15 211 5-48 5 22 5-35 5 37 5-36 5 46 5-49 5 40 5-47 5 34 5-35 5 52 5-61 5 33 10 338 5-639 5-5 15 290 20 262 20 247 20 161 5-60 20-750 35 1050 5 84 5-9 5 24 5 1 5-39 10-1115 25 248 30 488 35 217 10-1002 20 242 5-41 5 54 5-42 5 41 5-50 5 43 5-50 5 51 5-44 5 58 5-36 5 52 5-39 5 29 5-39 5 51 5-40 5 47 5-47 5 50 5-35 5 61 5-60 5 50 5-26 5 50 5-48 10 133 5 158 5-46 5 163 5-69 5 152 5-73 5 98 5-116 5 156 5-87 5 138 5-178 5 182 5-132 5 176 5-113 5 172 5-166 5 156 5-203 5 201 5-202 5 214 5-236 5 191 5-164 5 187 5-203 5 219 5-158 5 221 5-233 5 231 5-190 5 265 5-210 5 228 5-267 5 202 5-247 5 204 5-131 5 309 5-282 5 268 5-260 5 255 5-280 5 319 5-356 5 214 5-126 5 183 5-228 5 343 5-248 5 151 5-167 5 179 5-221 5 338 5-221 5 188 5-235 5 273 5-327 5 303 5-237 5 210 5-309 5 388 5-285 5 282 5-300 5 227 5-223 5 259 5-347 5 318 5-317 5 303 5-298 5 299 5-223 5 294 5-273 5 266 5-266 5 210 5-281 5 380 5-282 5 260 5-197 5 251 5-255 5 160 5-220 5 339 5-381 5 245 5-229 5 265 5-299 5 269 5-292 5 280 5-300 5 231 5-229 5 48 10-280 20 320 5 5 5 155 5-178 5 203 5-174 5 161 5-157 5 4 15-332 15 240 5-4 5 128 5-138 5 211 5-147 5 134 5-102 5 91 15-420 25 400 5-29 5 143 5-155 5 160 5-91 5 202 5-168 5 102 5-245 5 143 5-215 5 96 5-149 5 72 20-451 20 293 5-71 5 90 5-65 5 49 5-73 5 64 10-247 10 160 40 299 40 160 40 87 10-5 5 19 10-1442 25 414 5-39 5 43 5-31 25 101 25 151 40 327 10-906 20 310 10 23 20 111 40 379 5 2 5-759 5-88 20 365 5-19 5 10 15 70 25 199 20 222 10-862 20 379 5-36 25 99 15 105 30 299 10-833 15 290 5 5 5 57 10 26 25 144 30 282 10-810 15 278 10 75 10-321 15 430 20 272 10-445 15 75 5-18 5 201 5 33 5 353 5-53 5 342 5-238 5 222 5-214 5 231 5-233 5 225 5-161 5 140 5-215 5 217 5-222 5 213 5-246 5 253 5-287 5 271 5-225 5 266 5-227 5 262 5-327 5 299 5-271 5 246 5-236 5 288 5-268 5 270 5-294 5 213 5-235 5 138 5-137 5 166 5-167 5 272 5-167 5 288 5-198 5 197 5-221 5 221 5-231 5 206 5-135 5 123 5-191 5 169 5-236 15-222 20 320 5-67 5 140 5-115 5 151 5-204 5 124 5-162 5 106 15-327 20 222 5 134 5-106 5 70 5-88 5 163 5-120 5 100 20-401 20 320 5-99 5 167 5-163 5 130 5-92 5 139 25-587 30 429 5 131 5-128 5 189 20-487 5-8 25 400 5-89 5 116 5-173 5 99 5-136 5 70 15-420 25 382 5-111 5 77 5-108 5 82 5-90 5 77 5-75 5 40 10-234 10 160 5-50 40 323 25 133 20 79 30 89 10 12 10 28 10 7 25 42 10 4 30 33 10 1 20 20 15 5 15 11 10-3 45 22 10-4 10 14 15 5 25-2 20 10 20-1 30 11 10-5 10 2 15 10 10-9 25 12 15-5 40 7 5-2 25 12 35-7 10 7 15-6 15 9 15-5 20 8 10-7 10 3 10-4 20 9 10-6 15 9 10-5 5 4 30-5 10 3 10-4 20 9 15-8 10 7 25-7 10 9 15 2 10-7 35 1 10-4 20 8 30-4 20 6 10-5 25 3 5-5 30 7 5-4 25-2 15 1 10 6 20-6 15 6 10-9 5 6 10-2 10 6 25-8 20 4 15-5 20 8 20-6 10 6 30-8 10 8 10-9 15 7 45-7 10 6 10-10 20 8 25 3 30-5 65 1" stroke="#6F4E37" stroke-width="20"/>
<path d="M6695 1904l5 278 5-289 5 253 5-338 5 346 5-327 5 303 5-278 5 216 5-210 5 278 5-155 5 263 5-293 5 277 5-269 5 228 5-256 5 199 5-241 5-39 10-280 20 320 5-122 5 118 5-145 5 193 5-137 5 166 5-179 5 82 10-280 5-8 15 240 5-125 5 107 5-156 5 180 5-158 5 131 5-105 5 113 15-420 35 560 5-122 5 224 5-168 5 97 15-420 5-8 20 320 5-52 5 191 5-137 5 153 5-208 5 201 5-194 15-276 20 320 5-90 5 107 5-116 5 163 5-175 5 159 5-127 5 164 5-167 5 100 5-123 5 99 15-420 30 463 5-1 5 7 10-972 15 256 10 96 5-70 5 55 5-34 5 47 5-60 5 43 5-50 5 59 5-67 5 36 5-55 20 434 5-864 5-77 15 360 10 61 5-34 5 42 5-38 5 29 5-41 5 33 15-206 15 211 5-48 5 22 5-35 5 37 5-36 5 46 5-49 5 40 5-47 5 34 5-35 5 52 5-61 10 136 5 161 10-722 20 490 40 514 40 293 5 25 5 2 20 104 5-3 10 54 5-10 5 24 5 1 10-1265 60 751 30 226 40 179 5 16 5 1 15 46 5 0 10-1198 20 267 5-39 5 51 5-40 5 48 5-48 5 50 5-35 5 61 5-60 5 50 5-25 5 49 5-48 10 133 5 158 5-46 5 163 5-69 5 152 5-73 5 98 5-116 5 156 5-87 5 138 5-178 5 182 5-132 5 176 5-113 5 172 5-166 5 156 5-203 5 201 5-202 5 215 5-237 5 191 5-164 5 187 5-203 5 219 5-158 5 221 5-233 5 232 5-191 5 265 5-210 5 228 5-267 5 202 5-247 5 204 5-131 5 309 5-282 5 268 5-259 5 254 5-280 5 319 5-356 5 214 5-126 5 183 5-228 5 343 5-248 5 151 5-167 5 179 5-221 5 338 5-221 5 188 5-235 5 273 5-327 5 304 5-238 5 210 5-309 5 388 5-284 5 281 5-300 5 227 5-223 5 259 5-347 5 318 5-317 5 303 5-298 5 299 5-223 5 294 5-273 5 266 5-266 5 211 5-282 5 380 5-282 5 260 5-197 5 251 5-255 5 160 5-220 5 339 5-381 5 245 5-229 5 265 5-299 5 269 5-292 5 280 5-300 5 231 5-229 5 48 10-280 20 320 5 5 5 155 5-178 5 204 5-175 5 161 5-157 5 4 15-332 15 240 5-4 5 129 5-139 5 211 5-147 5 134 5-102 5 91 15-420 25 400 5-28 5 143 5-156 5 161 5-92 5 202 5-167 5 101 5-245 5 143 5-215 5 96 5-149 5 73 20-452 20 293 5-71 5 90 5-65 5 50 5-74 5 65 10-248 10 160 15 137 40 252 10 21 10 48 30 81 5 3 10 22 15 15 10-1506 15 338 10 122 5-40 15 50 5 2 5 30 5 3 40 271 30 268 10-987 20 358 10 23 5 3 25 167 30 297 5 142 10-996 20 397 10-24 25 146 35 345 5-181 5-757 20 432 5 2 10 34 30 185 25 247 5 130 10-1000 15 350 10 63 20 68 45 371 5-23 5-708 5-57 20 357 10-321 15 414 20 279 10-467 15 91 5-3 5 201 5 33 5 353 5-52 5 341 5-238 5 222 5-214 5 231 5-233 5 225 5-160 5 139 5-215 5 217 5-222 5 214 5-247 5 253 5-287 5 271 5-225 5 267 5-228 5 262 5-327 5 299 5-271 5 246 5-236 5 288 5-268 5 270 5-294 5 214 5-235 5 137 5-137 5 166 5-167 5 272 5-167 5 288 5-198 5 197 5-221 5 221 5-231 5 206 5-135 5 123 5-191 5 169 5-236 15-222 20 320 5-67 5 140 5-115 5 151 5-204 5 124 5-162 5 107 15-328 20 222 5 134 5-106 5 70 5-88 5 163 5-120 5 100 20-401 20 320 5-99 5 167 5-163 5 130 5-92 5 139 25-587 30 430 5 130 5-128 5 189 20-487 5-8 25 400 5-88 5 115 5-173 5 99 5-136 5 70 15-420 25 382 5-111 5 77 5-108 5 82 5-90 5 77 5-74 5 39 10-234 10 160 5-50 5 29 40 326 20 105 35 124 40 84 30 43 30 30 10 1 45 33 10-2 10 16 25 9 15-1 20 12 20 0 30 14 10-4 10 3 15 10 10-8 25 13 15-4 40 8 5-2 25 13 35-6 10 7 15-5 15 9 15-5 20 8 10-6 10 3 10-4 20 10 10-6 15 9 10-5 5 4 30-5 10 4 10-4 20 9 15-8 10 8 25-8 10 9 15 2 10-6 35 1 10-4 20 9 30-4 20 5 10-5 25 3 5-4 30 7 5-5 25-2 15 1 10 7 20-6 15 6 10-9 5 6 10-3 10 7 25-8 20 4 15-5 20 8 20-6 10 6 30-8 10 8 10-9 15 8 45-8 10 6 10-10 20 8 25 3 55-5 25 4 20-5 25 8 15-7 25 1" stroke="#5C4033" stroke-width="20"/>
</g>
<g clip-path="url(#c11)" fill="none" stroke-linejoin="round" stroke-linecap="butt">
<path d="M6695 5091l10-2 10 9 20-12 5 9 5-4 5 5 5-5 5 9 5-7 20 2 10-10 20-46 20-7 10 23 10 0 20-20 20-54 10 4 20 39 10-1 20-27 15-65 10-23 10 15 15 123 10-97 10-16 20-1 5 5 5 21 20 30 5 0 5-13 35-27 10 12 5 17 5 1 5 16 15 5 10-12 15-51 5-6 5 2 10 43 15 140 25 304 5-616 5-16 25 40 10-3 10 15 15 5 5 18 20 689 5-860 5-30 25 40 15 0 10-17 15 16 10-11 10 15 10 0 15 14 5-4 15 9 15 2 5 10 5-9 5 1 20 686 5-737 5-23 5 12 45 405 25 152 55 231 5 4 20 49 5-888 5-19 15 39 35 337 35 234 35 158 30 92 10 14 5-824 5-42 25 55 20 4 10 16 15-2 10 20 5-10 10 10 5 17 10 7 15 70 20 49 5 2 30 66 20 11 15 38 10 10 5-4 5 5 10 20 10 4 5-3 5 8 20-1 5 11 10 9 10 2 15 20 10-5 10 1 5 10 15 2 15 12 10-1 15 21 10-5 25 19 15-9 15 28 15-11 5 3 5-3 5 7 15 1 15 10 20-5 5 10 10 5 10-6 10 12 25 3 10 14 15-13 5 4 10-4 20-72 15-24 25 34 25-26 15-33 10 1 15 31 10 8 15-22 15-10 10 12 35 120 15 31 5-3 5-22 25-150 20-77 5-3 10 12 10 4 10-12 5 0 15-20 10 17 25 264 30 218 30 157 40 122 5-1003 5-38 25 47 5 0 5 8 5-2 15 24 15 51 15 89 25 277 25 505 5-1102 5-7 30 55 15 73 10 81 20 315 15 409 5-936 5-41 15 22 25 78 15 114 20 309 15 414 5-927 5-41 25 50 15 51 20 166 15 267 15 416 5-930 5-41 20 39 20 52 20 134 20 330 15 436 5-965 5-33 35 74 5 0 15 60 20 168 15 241 5-450 5-33 10 14 20 494 5-6 5-148 10-43 15 55 35 60 5 0 10 13 5 17 10 11 10 3 5 10 5-1 5 10 5-3 20 35 25 18 15 25 10-4 15 29 15-24 35-90 10-1 30 36 20-28 15-36 5-2 10 3 20 37 10-3 35-85 10 8 10 22 10 4 15-9 30-68 10 8 5 13 10 6 10-1 5 5 15-13 15-32 15 18 20-5 15-10 25-34 15 22 20 14 5 1 15-23 5 12 5-4 5 6 5-2 30 374 15 124 20 116 25 89 25 59 25 35 35 31 15 2 20 12 15 0 10 11 115 22 10-8 30 13 10-6 10 8 10-5 30 6 10-5 10 6 10-2 30 6 10-3 10 7 25-5 15 7 10-4 35 6 15-4 70 4 15 8 20-6 5 3 55 4 20-6 20 5 40-2 30 6 25-5 10 6 30-6 35 5 5 4 10-5 10 4 25-3 10 4 10-5 35 4 10-3 50 5 35-4 10 9 10-7 20 2 20-5 40 8 45-4 30 5 10-7 10 6 5-5 10 7 10-5 40 0 10 4 60-5 50 5 10-5 55 7" stroke="#E1C16E" stroke-width="20"/>
<path d="M6695 5027l10-20 15 18 10-3 15 8 15-9 10 9 15-25 10 4 5-8 20-53 10 2 20 39 5-4 5 8 15-40 10-10 15-34 25 35 15-11 5 2 10-18 20-69 10 1 5 12 15 68 15-67 5-3 15 0 25 43 15 10 10-6 10-21 10-6 10 3 35 51 20-34 15-42 5 2 10 32 10 70 30 270 5-653 5-3 45 38 15-3 5 7 10 118 15 324 5-603 5-5 25 18 20-3 5 3 5-5 15 13 15-5 15 21 40 13 10-2 5-9 10 73 10 154 5-277 5-38 10 31 25 337 40 340 35 205 20 89 25 73 5-1091 5-82 10 51 25 331 40 364 35 200 50 183 5-1051 5-9 20 54 10 12 5 3 15-8 10 15 15-1 20 92 25 163 10 29 15 22 15 53 20 34 10 1 10 10 15 31 10 10 15 5 10 15 15-1 20 34 15-13 15 23 5 4 10-5 15 18 5-4 10 2 5 9 5-7 15 17 10-1 5 5 10-6 15 21 20-3 5 8 30 5 20 11 5 7 15-6 5 6 10 1 10-5 15 23 5-8 30 11 15-16 15 24 10 3 20-20 25-84 5-5 5 5 15 31 25-20 15-40 5 0 5-9 20 46 15 10 25-30 5 7 10 34 15 24 30 97 10-18 15-108 20-99 10-17 10 1 5 7 15-14 10-1 5-11 15-13 55 481 35 193 30 106 10 20 5-1178 5-30 25 36 5-4 5 12 5-3 10 5 25 58 30 175 25 292 5-663 5-22 20 27 5 17 5-6 20 77 15 111 30 508 5-788 5-14 20 66 10 7 20 69 20 185 20 361 5-668 5-22 20 36 10 10 15 46 10 51 20 226 15 295 5-663 5-34 50 110 15 103 15 182 15 286 5-677 5-19 20 53 20 30 5 0 10 36 20 134 15 183 5-294 5-27 10 18 20 450 10-46 5-5 5 3 10 35 30 70 15 9 25 30 15 29 5 1 15 23 5 1 5 13 15-2 20 11 15 31 10 7 15 4 10-7 25-61 5-25 10-13 10 5 20 36 45-65 20 18 15 26 15-48 25-39 10 12 5 16 15 13 15-30 10-10 20-56 10 4 10 29 10 13 15-14 10-25 10-10 5 0 15 18 5-5 10 1 35-39 25 23 15-9 20 2 15-11 10 3 30 377 30 211 25 98 25 65 25 46 35 34 85 36 30 6 15-3 30 12 10-4 30 12 10-7 25 12 10-6 20 9 10-2 20 6 15-4 10 6 20-2 10 4 25-2 10 8 15-6 30 9 10-3 90 7 10-3 10 7 50-4 45 10 20-5 30 5 25-5 20 7 5-3 20 5 20-6 60 7 25-4 30 7 10-5 60 5 5-6 10 6 5-6 15 7 25-4 10 7 30-9 30 1 10 7 25-6 20 7 10-4 10 5 10-6 10 4 10-4 15 4 25-3 20 7 25-4 10 3 15-6 10 4 35-4 10 4 10-5 20 9 35-7 20 6 10-5 15 5" stroke="#CD7F32" stroke-width="20"/>
<path d="M6695 5093l10-14 5-1 15 19 20-11 20 10 10-2 25-18 15-41 15-19 20 38 5-1 15-20 5 2 5-5 15-48 5-4 10 1 25 39 10-8 25-75 10-18 10 0 15 73 10-53 10-11 20 0 20 45 15 13 5-1 15-30 5 1 5-8 5 5 5-1 25 34 10 2 20-24 15-40 10 20 15 81 30 259 5-572 5-45 25 74 10 12 25-5 5 8 25 430 5-634 5-6 20 62 15 1 5 7 15-6 10 20 15-4 10 3 15-10 15 19 20-7 5 5 10-1 20 174 5-239 5-55 10 46 30 289 40 248 40 162 5 0 5 25 30 73 5-850 5-8 10 32 35 329 35 234 35 158 45 132 5-899 5-40 25 136 10 8 10-7 5 8 20-3 10 16 30 146 55 146 10 15 5-5 15 21 10 0 15 35 5 5 10-2 20 31 30 4 20 28 15-17 20 31 15-2 10 21 20 2 10-4 15 15 10-4 15 16 5-2 5 6 5-3 5 10 15-4 5 10 40 17 20-5 15 12 5-5 15 13 15-11 5 8 10 3 10-8 20 1 15 11 25-92 10-12 5 2 15 30 10 2 20-28 10-25 10 0 20 31 15 5 25-24 10 12 45 144 5 0 10-24 35-197 5-11 20-5 10 7 15-30 20-8 25 238 25 186 40 203 40 115 5-1099 5-45 20 93 5 9 5-3 15 22 5-8 5 8 15 49 5 2 5 26 30 221 20 263 5-719 5-20 25 50 20 25 15 68 25 246 10 173 5-597 5-51 20 85 10 17 5-3 5 13 20 93 10 86 25 411 5-685 5-20 25 75 5 0 5 9 20 79 20 180 15 240 5-596 5-52 20 105 20 40 20 98 10 92 20 315 5-567 5-51 15 45 5 33 10 7 5-1 20 51 20 141 15 175 5-356 5-12 10 31 25 418 5-45 10-13 20 72 10 20 5-3 30 49 15 9 35 50 10 10 5-2 5 7 5-3 10 8 10 10 10 23 10 3 15 15 25-40 25-58 10-9 5-2 15 29 10 9 10-6 20-46 10-11 5 0 15 27 5 3 5-4 5 9 5-2 5-2 15-49 15-21 15 19 20 14 40-81 15 24 20 8 10-5 25-44 20 27 10-5 5 3 25-35 20-10 20 26 10-1 5-8 15 8 10-11 10-4 30 331 30 180 20 69 20 47 35 48 15 11 15 3 10 11 70 21 15 2 10-4 25 11 20-1 10 5 5-4 10 7 20-5 55 11 20-4 20 6 15-3 10 6 15-4 10 4 5-4 20 7 15-4 20 6 10-5 25 4 10-3 20 9 10-6 30 6 15-3 5 4 10-3 35 7 35-7 45 6 10-4 10 4 15-3 5 4 10-5 30 2 25 7 20-6 5 5 10-2 20 6 10-5 50 1 10-3 10 7 25 0 10-5 40-1 15 5 10-4 30 3 10-5 10 6 20-5 30 10 5-5 25-2 10 5 20-5 5 6 10-3 10 3 15-7 30 8 10-6 10 6 20-7 10 5 50-4 75 7 20-9 10 8 10 1 10-6 40 1" stroke="#A52A2A" stroke-width="20"/>
<path d="M6695 5056l10 12 10 3 10 0 5-9 15-2 5-5 10 6 5 11 10 4 10-15 5 2 5-6 15-40 15-21 5-3 15 31 15 3 10-5 10-14 15-54 10-2 20 33 10 7 15-21 20-71 10-19 5 2 5 12 15 66 10-43 10-15 25 1 25 56 10-2 5-22 10-15 5 1 15-12 15 41 15 24 5-2 30-55 10-7 5 4 15 67 30 260 5-525 5-55 30 75 5-4 15 5 5-4 10 10 10 110 15 300 5-607 5-19 20 65 5 4 20-4 30 16 5-3 5 6 5-6 15 22 35 5 10-6 5 8 5 33 10 105 10-254 10 28 30 293 20 143 25 135 40 155 35 90 5-886 5-38 15 81 30 284 40 267 40 167 40 118 5-907 5-33 20 140 5 13 15 13 5 1 10-9 25 25 20 88 30 100 10-67 5-92 20 767 10-375 10-127 20 34 5-4 10 9 10 19 10 8 15-4 10 3 20 36 10-10 20 21 5-6 10 5 20 22 30-6 15 26 10 0 5-6 15 22 10 1 5-6 15 12 5-1 10 17 5 1 10-14 15 11 45 13 5 9 30-12 10 22 10-3 5-7 20 12 15-22 10-2 20-67 10-6 15 19 15 0 25-34 10-23 5 1 20 40 10 9 15-20 20-4 25 62 20 77 10 15 10-21 30-188 15-35 5-5 10 14 5-2 20-33 5-2 10 5 30 3 5 6 10-7 5 3 5-4 5 5 5-8 10 5 5-5 5 14 10-11 10-280 35 0 5 61 5-63 5-8 15 4 5-5 20 22 5-4 20 60 20 101 10 78 25 310 5-737 5-50 20 106 5-6 5 6 15 35 15 69 15 132 20 288 5-639 5-19 20 86 10 5 10 20 10 35 20 137 25 373 5-701 5-13 15 117 10 11 10 27 15 59 15 129 20 314 5-567 5-100 25 111 5 1 15 38 15 65 15 129 20 329 5-588 5-43 15 40 5 31 5-5 5 6 25 54 20 134 15 181 5-385 5-8 10 42 20 411 10-43 10-7 20 78 10 4 10 27 10 11 5-1 10 22 25 28 20 16 5 11 35 26 15 31 5-2 10 5 15 16 10-7 20-59 20-40 10-4 20 32 10 1 40-62 15 24 20 8 5-2 20-58 10-2 10-12 25 43 5-1 40-87 5-2 5 4 15 34 5 0 5 8 10-11 15-39 5-6 5 2 15 372 10-263 10-99 10-16 15-4 10-14 5 0 10 13 5-3 5 8 15-8 5 4 15-6 15 7 10-20 5-102 5 83 20-17 15 4 30-13 10 6 15-1 10-6 25 6 20-9 10 3 55-2 5-4 30 1 30-8 10 2 5-5 20 6 15-7 15 9 10-6 20 3 10-4 5 4 70-8 10 3 10-7 25 6 10-7 15 4 5-3 10 3 35-2 10-6 10 5 30-3 15 4 20-7 10 3 65-3 10 4 40-6 50 4 15-7 15 4 10-5 30 5 15-4 25 5 15-9 15 6 45-6 10 7 10-8 15 7 10-5 35 2 10-5 5 5 35-2 10 5 10-8 10 2 10-4 30 8 15-9 60 6 45-7 30 8 15-4 15 4 5-5 15-3 10 7 30-7 10 4 10-5 5 5 35-5 35 6 20-5 10 4 5-3 35 2 10-5" stroke="#F5DEB3" stroke-width="20"/>
<path d="M6695 5060l15 5 10-13 15 2 5-5 10 3 15 20 5-1 15-21 5 4 10-12 5-18 15-21 15-7 20 21 20-18 15-39 20-15 15 34 10 12 15-29 5-1 15-68 10-14 15 29 10 56 10-56 10-12 20-1 25 51 10 10 10-20 25-23 5 3 25 48 20-7 15-52 10-1 15 23 40 358 5-669 5-2 50 31 15-10 25 491 5-645 5-2 20 21 20 1 5-9 15 11 10-6 15 3 15 24 15-6 15 6 15 18 10-6 15 217 5-255 5-53 15 41 35 337 35 243 50 209 5 3 20 53 5-885 5-53 15 41 40 429 25 184 40 208 40 132 5-938 5-66 30 98 15-11 15 19 15-6 5 7 35 236 40 94 10 35 10 9 30 48 35 27 5 9 15 6 5 15 15-8 15 19 15 4 15 21 5 1 15-9 15 17 10 1 20 16 20 2 15 12 10-5 10 3 15 14 15-6 15 23 25-2 15 11 15-4 15 16 10 2 5-6 20 11 15-13 15 24 5-4 15 16 35-117 10-6 20 32 10 3 20-46 5 1 10-14 5 3 15 36 20 6 15-25 5-3 5 7 20 48 30 103 15-14 35-208 15-26 15 20 30-36 10 8 55 418 25 124 30 100 20 46 5-1103 5-15 20 37 10 3 5 10 5 0 20 22 10 23 15 63 20 137 25 309 5-685 5-31 30 43 10 22 20 97 20 206 15 268 5-670 5-33 20 54 10 8 25 79 20 176 20 342 5-643 5-34 10 21 5 29 5 11 5 1 10 24 15 68 15 131 20 325 5-591 5-42 20 56 15 17 10 37 20 132 25 393 5-596 5-42 25 61 15 2 5 23 5-6 10 33 20 144 15 181 5-312 5 0 10 14 25 452 5-46 10-14 15 55 35 66 20 23 15 8 15 36 20 8 5-2 5 12 20 14 20 30 20 14 15-6 20-50 25-43 10 1 15 33 20-4 25-65 5-4 20 36 10 2 10-7 35-65 20 21 5 12 15 1 10-15 10-43 10-19 10-1 25 40 5-2 20-45 10-10 10 2 25 25 5-2 15-33 20-20 40 37 5-1 10-20 5 0 5 7 10-6 5 3 30 359 30 193 35 116 40 63 10 0 20 24 10-3 5 6 20 5 30 16 15-5 15 8 10-2 15 11 5-4 10 4 10-4 10 5 25 1 5 5 30-2 10-5 10 9 20-3 25 4 10 7 15-7 30 8 85 2 25 6 10-4 35 5 10-6 10 9 10-4 10 6 10-4 10 3 20-4 10 7 15-8 20 9 35-5 10 6 15-4 10 4 25-5 10 5 5-5 10 4 5-4 30 8 20-4 50 2 5-4 10 6 30-3 5 4 15 1 5-5 50 5 90-3 20 4 30-3 10 5 20-3 10 3 20-1 10-8 15 7 35 2 5-4 15 0 15 7 15-7 30 0 15 5 10-6 15 6 35-5 10 6 15-8 15 9 20-6 10 5 40-1" stroke="#DAA06D" stroke-width="20"/>
<path d="M6695 5014l10 10 10-9 30 9 5-9 5 6 5-3 5 9 5-9 5 6 15-28 15-12 20-50 35 44 20-27 15-43 5 1 5-7 10 2 15 34 10 2 15-34 15-54 10-17 10 12 15 79 5-54 20-18 15-2 5 4 25 52 10 1 15-29 15-10 20 20 15 28 20-23 20-40 5 8 5-1 15 74 30 257 5-633 5-6 30 41 5 1 5-7 15 19 5-1 5 12 20 377 5-549 5-25 25 39 20-4 10 4 5-5 10 7 10-10 15 24 15-4 15 12 15-8 10 8 10 2 5 10 5 46 10 129 10-331 10 52 5 106 20 190 45 302 25 112 50 152 5-863 5-129 15 93 35 378 30 218 30 161 30 116 25 62 5-944 5-33 25 112 25 12 15-1 10 16 35 218 20 65 20 39 15 44 30 41 5-3 15 23 10 4 15 23 5-4 20 27 10 2 5-10 10 8 10 18 15-4 15 8 10 12 5-2 5 9 5-3 5 7 5-8 35 30 5-6 10-1 15 18 10 4 10-4 20 18 15-5 10 11 15-9 10 18 15-8 5 9 5 4 10-3 10 12 10-10 15 18 10-2 5 4 15-4 15 10 5-1 30-96 5-5 5-1 25 32 20-14 15-43 5-4 15 25 5 0 10 11 15-3 5 4 15-27 10 13 50 150 5-1 5-17 25-154 15-56 10-14 5 4 15-18 5 7 30-27 25 255 35 241 35 150 35 100 5-1176 5-5 20 62 10 1 10 12 5-7 30 64 10 49 25 199 25 356 5-845 5-1 15 54 10 23 5-3 10 27 15 81 20 223 15 275 5-716 5-26 20 80 5 13 5-9 10 27 15 67 15 145 25 444 5-788 5-5 10 36 5 42 15 16 10 25 10 52 15 134 20 327 5-599 5-64 20 74 25 53 25 148 25 387 5-613 5-57 20 93 15 18 5-2 20 86 25 251 5-292 5-53 15 34 20 442 5 31 5-30 10-9 20 70 5 7 10 4 15 36 5 7 5 4 5-3 5 6 15 37 5-4 10 7 35 42 25 20 15 32 15 7 10-7 5 3 40-96 10-3 25 33 15-11 20-51 15-2 25 31 15-13 10-17 10-34 10-13 10 10 10 26 5 3 5-9 10-2 5 6 15-54 10-17 25 10 15 21 15-15 15-34 20 14 10 1 25-23 5-13 15 1 5-10 15 20 15 6 10-4 15-25 20 19 25 279 15 98 20 72 20 42 20 24 35 13 15-5 15 21 15-14 10 24 10-25 5 4 5 18 10-23 5 10 5-7 10 8 5-7 10 10 5-6 10 13 5-18 5 10 5-1 5 5 5-8 5 7 15-4 5 3 10-10 5 13 5-6 5 13 10-25 5 16 5-5 5 8 5-2 5-13 15 24 5-18 5 12 5-11 5 3 5-6 5 17 5-5 5 13 5-10 10 3 5-14 10 17 5-13 15 9 5-7 10 1 10-9 5 15 5-16 10-2 5 16 15-9 5 10 5-12 5 0 5 11 5-13 5 10 10-8 10 19 15-23 5 10 10 4 5-6 25 4 10 18 10-27 5 21 10-18 5 11 20-6 10 12 5-13 10 20 5-22 5 9 10-8 10 7 10-3 10 8 15-4 10 13 5-13 5-3 5 7 5-10 20 16 10-20 5 25 10-30 5 23 10-26 15 29 5-18 5 4 15-1 10 12 15-20 5 8 15-4 5 25 10-26 10 18 5-27 5 12 10 8 5-5 10 1 10 14 5-19 5 0 5 31 5-27 5-1 15 12 10-14 5 8 5-5 5 13 10-20 5 3 5 18 10-28 15 23 5-12 10 13 10-9 5 12 5 0 10-9 5 5 5-8 5 1 5-5 10 4 5 24 5-20 10 9 5-10 5 8 5-27 10 25 5-21 10 22 10-17 10 4 5 11 15-11 10 17 5-11 10-1 5-8 10 17 15-23 5 13 5-4 10 2 25 16 10-15 10 7 5-6 10 9 10-19 5 21 5-11 5 5 5-13 5 20 10-11 10 3 15-8 5 16 5-11 10 3 5-20 5 23 10-7 5 4 5-8 5 15 10-17 15 8 10-13 5 20 5-13 5 13" stroke="#800020" stroke-width="20"/>
<path d="M6695 5069l15 2 15-13 15 14 10-6 15 18 10-4 25-29 20-43 10-8 5 0 15 31 10 4 5-3 25-70 15-7 20 36 10 4 20-29 20-80 5-2 15 35 15 65 5-59 10-17 20-1 15 31 20 23 10-6 15-31 5 1 15 9 15 32 20 12 20-55 10-13 5 10 5-4 10 54 35 307 5-648 5-2 30 16 15-2 20 25 10 112 15 328 5-609 5-11 20 24 20 3 10 11 5-5 10 0 5 5 15-8 25 17 10 0 15 17 15-18 5 2 20 247 5-301 5-50 10 41 20 255 25 203 30 149 10 24 5-639 5-130 25 160 15-5 5-14 15 3 15-13 35 370 15 110 30 132 5-612 5-96 25 104 50 0 10 9 10-1 15 13 10-12 15 22 5-2 10 35 20 147 20 86 25 51 20 64 15 12 5 11 5-2 10 9 5 13 20 12 15 30 5-7 10 3 5 9 10 2 15 24 25-2 5-7 15 21 10 1 15 20 15 10 25 9 5-5 10 2 15 12 10-7 10 16 10 7 20 1 5 5 15-3 10 8 5-4 10 2 5 9 10 4 15-2 15 17 10-14 25 15 5 8 5-4 5 5 5-9 5 14 10 3 10-19 25-80 10-6 10 22 10 5 30-30 15-32 10 4 10 29 10 12 10 2 20-31 5 0 10 11 30 102 20 42 10-22 20-129 20-83 5-9 5-1 10 12 10-1 20-25 10-4 5 7 30 315 30 216 40 192 30 82 5-1213 5-1 20 20 10 0 5-6 5 14 5-1 5 17 15 19 20 76 25 206 20 278 5-728 5-40 15 34 10 10 15 29 20 86 20 193 15 255 5-618 5-46 20 69 5-2 20 51 25 196 20 334 5-625 5-49 20 62 20 32 15 80 15 132 20 338 5-614 5-32 25 48 5-1 5 11 10 28 15 74 25 296 10 206 5-646 5-39 25 67 15 19 20 69 20 161 10 141 5-313 5-37 10 25 20 480 10-63 10-8 15 55 40 73 15 4 10 24 10 6 10 21 15 2 15 21 50 48 10 18 10 1 10-19 35-94 10 0 5 19 10 12 20 5 25-55 15-10 20 42 5-1 10-18 10-8 25-57 5-3 20 41 10-3 10-13 30-68 10 15 15 7 10 17 10-6 5-15 20-22 10 1 15 12 25-13 15-22 5 4 15-4 10 13 15-7 15 6 5-7 20 7 30 323 15 103 20 96 30 86 15 24 30 34 35 22 35 6 10 8 75 13 70 4 10 7 45-2 20 7 10-5 15 6 30 2 20-8 10 9 35-2 15 4 15-5 20 8 20-2 15 9 10-5 10 4 15-9 15 9 20 0 10-8 25 9 5-5 25 1 10-4 30 9 5-5 20 8 15-8 40 7 10-4 40 6 40-3 35 6 25-6 30 5 15-4 10 4 10-6 15 8 40-7 50 8 5-4 15 2 5-5 15 6 30-3 5 4 10-6 15 7 20-4 5 4 20-8 25 10 20-4 10 4 10-6 15-1 10 5 15-5 10 4 45-2 15 5 15-6 10 6 10-7 10 5 65 0" stroke="#6E260E" stroke-width="20"/>
<path d="M6695 4988l10-4 20 11 5-3 15 19 25-15 5-10 5 3 15-14 10-3 25-43 20 24 10 3 15-17 30-63 25 45 5 4 5-3 35-92 10-8 5 1 15 73 10-54 10-10 20-1 25 56 25-11 10-19 10-4 15 9 20 45 10-6 30-67 5 2 5 5 10 53 35 272 5-558 5-17 35 44 15 9 10 0 5-4 20 359 5-501 5-64 5 1 20 64 35-4 5 4 20-2 10 14 15-6 15 6 15 15 20-6 20 218 5-321 5-22 35 376 35 195 20 60 10-750 25 196 15 0 5-14 15-10 15 12 5-11 40 377 30 163 10 24 5-619 5-98 25 164 20-11 5 9 15-7 5 9 15 3 5 7 15-13 30 31 5-1 10 15 30 152 15 57 15 29 10 40 10 12 5-1 10 16 10 4 25 45 20 15 5 10 5-3 5 6 5-4 20 25 5-6 15 20 15 2 25 23 20-5 20 14 15 23 10-5 35 19 20 1 15 9 15-4 40 23 20 1 15 16 15-5 30 12 5-7 30 11 15-25 15-56 15-24 15 28 10 6 35-56 5-5 10 1 15 32 10 9 5 0 10-18 10-3 15 4 50 153 10-31 40-213 15-9 15 16 10-7 10-24 5-2 10 6 25 249 35 257 40 185 30 87 5-1145 5-18 20 54 25 11 15 23 25 77 25 183 20 247 5-664 5-59 20 68 10 10 5 15 5 1 10 25 10 55 15 120 20 283 5-591 5-65 20 107 5-2 15 36 20 99 10 82 20 307 5-559 5-40 40 81 15 59 20 179 15 227 5-527 5-50 20 60 15 23 15 38 15 87 15 165 15 250 5-613 5-12 25 66 20 27 15 51 10 56 20 204 5-283 5-20 10 17 20 455 10-86 10-9 20 68 30 55 15 9 10 25 10 5 5-3 10 6 20 37 25 18 20 30 10 0 15 26 20-24 5 0 35-81 10-3 15 31 10 8 35-73 5 0 20 29 10 7 20-24 25-60 20 36 10 9 30-54 15-40 10 8 20 47 10-4 5-15 25-36 25 23 30-40 5 6 5 0 15-14 25 20 20-7 25 11 30 326 35 214 20 67 25 56 45 61 20 16 80 32 30 3 10 8 20 0 35 11 5-2 10 6 15-4 10 10 10-7 20 9 10-1 60 14 20-6 5 7 10-3 40 11 10-4 30 6 20-4 20 8 10-6 10 6 25 2 5-4 10 7 10-1 5-5 10 10 30-7 20 9 40-3 25 6 20-5 10 8 10-9 10 8 20 2 30-7 10 9 20-5 40 9 30-5 10 4 10-6 15 7 5-5 50 5 10-6 15 7 25-6 10 7 5-4 25 0 10 6 60-5 25 8 20-11 5 5 25-2 10 8 30-8 40 7 35-5 10 4 15-3 40 4 10-5 20 8 10-6 35 5 10-5 10 4 5-3" stroke="#C19A6B" stroke-width="20"/>
<path d="M6695 4973l5-3 20 11 15-3 5 11 15 4 10 10 10-19 15-3 20-26 15-50 20 33 10 7 10-1 35-84 5-1 5 8 10 30 10 12 15-13 10-19 20-72 10 4 5 11 15 57 5-2 5-37 15-17 15 0 10 13 15 43 5 3 15-11 15-32 5-2 15 15 15 31 10 8 10-5 25-51 5-8 5 1 5 5 5 26 15 101 25 220 5-610 5-4 25 52 20 6 10-4 10 20 20 364 5-519 5-54 25 57 15 0 5-9 10 10 15 0 10 16 10-4 20 5 5 8 20-10 10 12 10-7 5 5 20 243 5-339 5-12 5 21 5 105 25 282 35 288 40 206 20 81 5 4 15 50 5-1026 5-119 25 154 30 335 30 238 30 177 25 105 20 70 10 17 5-1000 5-16 20 69 20 11 10-4 10 5 20 41 25 126 20 71 50 107 10 1 15 28 10 4 20 25 15 2 15 18 5 14 30 18 5-7 5 7 5-2 15 28 15-11 20 17 15-2 15 15 5-1 5 10 30 13 20 16 10 2 10-9 15 13 20-5 5 9 10 1 10-8 15 15 15 0 5-7 5 6 5-3 20 21 15-5 15 14 15-3 10-12 15-63 15-28 20 34 20-19 15-31 10-6 10 5 25 38 30-34 20 35 35 117 5 5 5-2 5-17 30-180 10-30 10-18 15 16 30-32 10 1 35 316 25 163 25 125 25 86 20 43 5-1105 5-34 25 86 5 2 10-6 10 17 5-1 25 83 25 166 25 321 5-735 5-23 20 58 5-4 10 20 20 70 20 173 20 332 5-714 5-18 20 99 5 5 5-2 15 36 15 83 15 146 15 226 5-544 5-66 15 53 5 35 15 12 10 27 15 73 10 85 20 289 5-514 5-69 25 78 15 16 20 81 15 128 20 310 5-568 5-30 20 47 15 19 20 44 15 79 20 207 5-299 5-36 10 34 25 473 5-70 5-17 5 0 50 122 50 38 35 55 25 16 30 38 20-16 40-98 40 39 35-67 15 14 15 29 10-11 30-66 10-3 20 28 10 1 10-12 30-79 30 53 10 3 20-43 15-6 25 13 30-42 25 13 15 15 10-12 5 4 15-14 20 17 25 312 25 159 20 76 35 54 30 25 5 0 5-10 10 4 5 10 5-10 5 18 5-8 5 13 10 6 10-7 10 12 5-17 15 20 5-16 15 6 5-12 5 14 10-4 10 8 5-16 5 22 10-25 10 30 5-14 5 12 5-1 10-25 10 25 5-12 10-5 20 21 5-16 5 5 5-6 5 5 5-8 5 3 5 23 5-13 10 17 5-12 15-8 5 13 5-10 5 15 5-15 10 0 5 8 5-5 5 8 5-13 10 23 5-18 10 9 15-21 5 31 5-14 5 7 5-17 5 16 15-20 5 13 10-3 5-12 10 14 5-10 10 18 10-11 5 2 5 12 5-18 5 8 10 2 10-11 5 25 10-25 15 15 5-14 5 15 5-13 15 14 5-7 10 8 5-15 5 12 5-1 5 7 10-13 5 6 5-14 5 14 15-10 10 12 5-8 10 12 10-15 5 13 10-17 10 9 5-9 5 8 5-7 5 13 10-1 5 10 5-14 5 2 5 16 5-25 5 15 5-13 10 22 10-19 5 23 5-22 10 3 5-10 5 19 5 2 15-9 5 6 5-31 10 25 5-15 5 14 15-1 5 5 10-11 5 7 15-7 5 13 15 8 5-2 10-23 10 13 5-8 10 15 5-11 5 9 10-18 10 8 5-13 10 27 5-20 10 19 15-15 5 14 15-28 5 0 5 21 5-6 5 13 10-22 10 15 5-13 10 23 5-25 5 1 5 16 10-17 5-1 10 19 10-9 5 11 10-14 5 19 5-26 10 8 5 14 5-18 5 2 5-7 5 15 10-2 5-10 5 7 5-9 15 19 5-13 5 4 5-7 15 4 5 6 5-14 5 13 5-13 5 8 15 2 5 9 5-9 5 1 5-13 10 23 5-28 10 12 5 16 5-17 10 9 5-10 5 2 5 9 5-15 5-2 5 15 5-8 5 11 5-4 5-14 5 12 10-9 5 9" stroke="#D27D2D" stroke-width="20"/>
<path d="M6695 5047l30-4 5 9 10-2 15 17 5-2 15-16 5 3 15-10 25-54 5-7 10-3 15 41 15 1 35-91 25 36 5 23 10 0 20-53 10-42 15-28 5 5 5 57 15 359 5-299 5-72 5-18 25-5 25 58 10-6 25-41 10 4 30 43 20-19 20-39 5 2 5 9 15 149 30 482 5-879 5-21 35 60 15 1 5 5 10-2 25 498 5-685 5 0 20 36 5 2 20-1 15 13 15-7 20 18 25-12 15 20 10 2 10-10 20 268 5-343 5-18 10 36 25 389 40 390 40 256 40 161 5-1253 5-48 15 64 25 372 50 491 35 220 15 73 20 67 5-1196 5-72 30 93 15 0 5 8 10 0 5-6 20 18 20 132 20 86 5 2 25 69 15 20 15 36 15 5 10 20 15 8 10 16 20 6 15 29 10 4 5-6 5 10 5-3 5 6 5-4 15 17 15 0 35 22 20 5 15 20 10-5 25 24 15-17 10 13 20 10 5 8 15-7 25 1 15 19 15-8 15 22 10-6 15 4 5-5 20 4 15 18 15-26 20-84 5-7 15 28 15 13 20-20 25-51 5 2 15 45 10 9 10-2 15-28 10 8 50 140 10 0 10-38 30-184 10-16 15 8 20-18 15-7 5 4 5-5 55 535 45 234 30 103 5-1232 5-32 20 51 15 10 15 33 5 2 25 117 30 345 20 407 5-1052 5-23 40 92 15 108 20 285 20 536 5-1048 5-25 20 56 10 12 20 85 5 40 20 270 20 549 5-1010 5-33 10 28 10 53 10 14 10 43 10 78 20 301 15 412 5-886 5-57 5 2 40 126 15 125 15 226 20 555 5-1021 5-23 25 75 20 40 15 91 15 173 15 281 5-529 5-44 10 27 20 507 10-112 10-15 15 51 25 53 25 38 20 27 10 6 5-2 10 10 15 28 10 10 5-2 15 23 10 0 10 13 5 0 15 28 30-60 20-59 20 8 10 18 10 4 15-14 25-50 20 29 15 6 10-12 30-68 15 38 5-1 5 10 5-4 5 5 40-92 10 4 15 35 10 11 15-35 15-17 10-1 20 12 10-3 10-7 10-17 20-13 15 9 15 18 15-16 25-1 5-6 30 392 15 135 25 158 25 100 15 42 35 61 50 48 90 43 15-1 10 7 25 1 10 7 20 1 10 7 15 0 15 7 15-2 75 20 10-5 15 6 15-4 20 10 10-5 5 4 25 3 5-7 20 9 30 0 10 5 15-4 10 8 25-5 20 8 10-3 10 3 70-2 10 8 15-8 15 0 10 10 20-8 55 5 15-6 10 8 15-8 10 6 10-4 25 5 15-6 45 4 15-12 20 8 10-8 10 7 10-6 15 2 15-5 25 5 30-10 35-1 10 5 15-7 40 1 10-8 15 5 25-9 15 3 25-7 15 3 45-11 45 1 10-7 35 3 10-7 20 1 20-9 10 9 10-6" stroke="#E97451" stroke-width="20"/>
<path d="M6695 5033l10 12 15 0 5 6 10 0 5-8 5 4 5-6 5 6 15-3 10 7 30-56 20-26 25 48 10-8 35-80 5 0 30 50 25-48 10-44 10-19 10 16 15 213 5-140 5-57 5-14 15-4 10 5 20 26 10 24 10-6 20-27 10-3 10 7 5 16 5 1 5 12 15 5 10-5 25-52 10 10 15 98 30 279 5-665 5-6 30 29 20 9 5-7 5 2 25 414 5-556 5-5 20 13 20 1 5-8 10-2 20 21 20-13 15 28 15-7 10 11 20 1 10-8 15 102 10-209 10 38 25 244 40 260 35 156 40 119 10 6 5-827 5-21 10 29 35 342 35 220 40 170 35 98 5-793 5-58 25 63 5 4 20-2 15 17 10-1 50 257 20 60 30 65 15 6 35 54 60 40 5-1 5 8 15-2 15 21 15 6 10-2 10 12 15 3 10 12 10-8 10 14 15 3 10-3 10 14 15 1 5 5 15-4 15 21 10-4 15 3 15 13 10-11 35 25 20 1 20 13 20-15 5 7 10-1 20-80 10-16 5-1 25 36 35-63 15 7 20 39 5-6 5 1 15-26 10-4 10 17 20 71 10 13 15 61 5 3 5-4 30-182 15-61 10-1 5 8 30-22 5-12 15 3 25 243 30 216 30 140 20 74 5 1 5 26 15 37 5-1142 5-16 20 47 10 0 20 25 20 38 10 41 20 127 25 284 5-616 5-28 20 22 5-6 15 15 10 26 15 75 15 128 20 326 5-631 5-27 15 30 5 22 5-6 5 6 10 27 15 73 15 137 20 313 5-599 5-23 35 59 10 27 10 57 15 127 20 326 5-597 5-40 20 64 20 27 25 131 25 362 5-533 5-65 5 2 20 68 5 9 5-7 10 29 5-4 10 34 20 134 15 179 5-301 5-15 10 18 20 423 5 19 5-39 10-11 15 57 20 32 10 28 10 9 5-3 20 36 15 8 15 30 10 1 15 14 10 0 35 53 10-2 15 7 10-15 15-53 15-34 10-1 5 5 10 24 10 10 10-8 5-17 15-17 10-26 5 0 20 32 10-11 15-4 20-63 5-4 20 15 10 30 5 8 5-2 15-42 30-59 30 55 35-64 15 20 65-43 15 32 5 2 5-5 15 5 10-17 20-1 35 390 35 198 25 77 25 55 35 36 40 32 30 5 30 16 20-3 10 8 25 2 15 8 15-2 10 7 10-4 15 7 20-1 25 13 15-7 65 14 10-5 10 10 25-3 20 7 10-4 35 0 30 8 5-5 10 5 20-2 10 5 25 0 5 5 10-5 10 4 20-2 5 6 20-3 10 3 10-8 20 10 40 1 15-7 25 9 25 1 10-6 20 8 25-5 15 8 20-4 5-5 20 10 10-6 35 7 75-5 20 6 15-7 30 8 10-4 10 6 15-8 40 7 25-6 10 6 5-4 25 0 10 4 10-5 15 5 55-2 20 5 20-6 10 7 30-6 20 8 5-6 25-2 25 6 10-4 5 3 5-4 10 6 10-3" stroke="#6F4E37" stroke-width="20"/>
<path d="M6695 5003l15 9 15 2 15-5 5 9 15-4 20 8 5-2 15-19 25-52 10 4 15 21 10-1 10-9 20-56 10-11 15 8 15 37 5-2 15-18 30-92 10 10 5 34 15 184 5-157 10-46 25-3 20 56 40-36 15 4 10 12 10 34 10-2 5-10 5 5 20-59 5-2 15 38 10 62 30 269 5-635 5-8 30 17 5 8 15-7 5 9 5-4 10 88 15 289 5-514 5-11 25 16 15 0 5-10 15 9 15 2 5 9 15-4 15 15 15-4 5 7 15-2 10 6 5-7 20 108 5-143 5-25 10 19 30 322 20 140 35 136 5-662 5-102 25 158 15 0 5-13 30-5 5 13 35 373 25 154 20 71 5-703 5-11 20 102 20 7 5-6 20 15 25-5 5 7 10-1 5-8 15 2 10 20 15 56 20 150 45 134 15 12 35 64 5-3 15 21 15 8 10 19 5 4 10-6 15 3 15 25 10-4 20 12 5 8 30 10 20 26 30 0 20 9 10 13 10 0 10 8 30-8 5 10 15 4 10 16 15-3 5-9 10 3 5 14 10-3 5-8 15 20 5-3 20 12 15-6 15 9 20-38 15-68 10-2 20 34 5-1 15-22 5 1 15-35 10-11 30 50 20-30 20 16 30 96 20 48 5-6 10-43 20-124 15-57 10-18 15 9 15-15 10-1 5 4 5-6 5 1 25 246 25 174 40 195 20 71 5 3 10 29 5-1101 5-35 25 40 10-4 5 7 5-1 15 23 25 73 25 171 25 308 5-731 5-4 15 32 20 25 20 75 20 178 20 332 5-681 5-9 20 52 5-2 10 18 15 48 25 230 15 254 5-606 5-50 20 74 15 10 5 14 15 69 15 124 20 303 5-541 5-53 5 2 15 56 5 0 15 25 20 100 15 147 20 346 5-670 5-2 25 53 5-4 5 8 20 60 20 133 15 203 5-340 5-2 10 16 25 453 5-50 5-12 5 3 15 46 20 30 25 54 5-1 15 25 10 2 20 32 10 8 5-4 15 23 5-1 10 11 25 32 10 6 20-17 20-41 15-52 15 6 15 27 15 11 15-22 15-49 5-2 10 8 15 30 5 2 5-2 5-13 5-1 30-58 5-2 15 29 10 8 5-3 20-30 10-39 15-17 5 1 15 37 10 14 10-13 15-44 10-2 5 7 15-8 10 10 40-35 20 12 15 25 15-21 15-5 15 2 30 346 30 204 20 77 25 68 20 34 40 48 20 3 20 19 25 7 10 9 5-3 10 7 25 1 65 19 20-3 20 11 25-4 10 6 20-1 10 6 10-4 10 7 15-3 5 5 20-1 20 7 10-4 10 5 15-4 25 8 30-2 15 6 10-3 10 5 10-3 15 7 10-7 20 4 10-3 25 9 10-4 30 4 20-4 15 5 15-4 45 10 5-6 10 6 25-3 5 5 10-4 15 5 20-5 45 3 10 6 10-4 35 4 10-5 30 8 5-4 35 2 10-4 15 6 10-5 30 7 15-9 20 7 25-4 30 5 10-7 10 7 50-5 25 8 10-7 25 4 10-4 15 7 20-6 30 5 10-3 20 7 25-8 85 5" stroke="#5C4033" stroke-width="20"/>
<path d="M6695 5745H6968L6978 6447H7002L7010 5745H7262L7272 6447H7270L7278 5745H7489L7499 6447L7507 5745H7618L7628 6447H7696L7704 5745H7920L7930 6060H7949L7957 5745H7973L7983 6447H8041L8049 5745H8848L8858 6447H8995L9003 5745H9043L9053 6447H9056L9064 5745H9104L9114 6447H9136L9144 5745H9308L9318 6447H9341L9349 5745H9412L9422 6447H9443L9451 5745H9511L9521 6447H9547L9555 5745H9675L9685 6447H9688L9696 5745H10355L10365 5970H10381L10389 5745H10391L10397 6447H10406L10410 5707L10416 5767H12052" stroke="#000" stroke-width="13" stroke-opacity="0.16"/>
<path d="M6695 5886H6968L6978 6447H7009L7017 5886H7352L7362 6447H7367L7375 5886H7509L7519 6447H7532L7540 5886H7567L7577 6447H7698L7706 5886H7718L7728 6447H7864L7872 5886H8841L8851 6447H8994L9002 5886H9107L9117 6447H9137L9145 5886H9205L9215 6447H9241L9249 5886H9312L9322 6447H9341L9349 5886H9617L9627 6447H9644L9652 5886H9675L9685 6447L9693 5886H10230L10240 6447H10266L10274 5886H10390L10396 6447H12052" stroke="#000" stroke-width="18" stroke-opacity="0.3"/>
<path d="M6695 5878H6972L6982 6447H7003L7011 5878H7256L7266 6447H7268L7276 5878H7506L7516 6447H7533L7541 5878H7587L7597 6447H7695L7703 5878H8856L8866 6447H8995L9003 5878H9107L9117 6447H9135L9143 5878H9208L9218 6447H9240L9248 5878H9310L9320 6447H9342L9350 5878H9674L9684 6447H9687L9695 5878H10386L10392 6447H12052" stroke="#000" stroke-width="18" stroke-opacity="0.3"/>
<path d="M6695 5870H6973L6983 6447H7005L7013 5870H7343L7353 6447H7369L7377 5870H7617L7627 6447H7694L7702 5870H7716L7726 6447H7864L7872 5870H7920L7930 6060H7949L7957 5870H8800L8810 6080H8841L8849 5870H8856L8866 6447H9001L9009 5870H9105L9115 6447H9136L9144 5870H9203L9213 6447H9239L9247 5870H9514L9524 6447H9545L9553 5870H9619L9629 6447H9644L9652 5870H10390L10396 6447H12052" stroke="#000" stroke-width="18" stroke-opacity="0.3"/>
<path d="M6695 5863H6972L6982 6447H7007L7015 5863H7254L7264 6447H7269L7277 5863H7281L7291 6447H7295L7303 5863H7347L7357 6447H7364L7372 5863H7472L7482 6447H7481L7489 5863H7619L7629 6447H7690L7698 5863H7740L7750 6447H7865L7873 5863H7920L7930 6060H7949L7957 5863H8800L8810 6080H8841L8849 5863H8857L8867 6447H8996L9004 5863H9101L9111 6447H9133L9141 5863H9413L9423 6447H9442L9450 5863H9674L9684 6447H9689L9697 5863H10395L10401 6447H12052" stroke="#000" stroke-width="18" stroke-opacity="0.3"/>
<path d="M6695 5832H6971L6981 6447H7001L7009 5832H7506L7516 6447H7533L7541 5832H7588L7598 6447H7629L7637 5832H7648L7658 6447H7694L7702 5832H7720L7730 6447H7864L7872 5832H8844L8854 6447H8992L9000 5832H9104L9114 6447H9136L9144 5832H9210L9220 6447H9239L9247 5832H9412L9422 6447H9445L9453 5832H9513L9523 6447H9545L9553 5832H9617L9627 6447H9645L9653 5832H10355L10365 5970H10381L10389 5832H10391L10397 6447H12052" stroke="#000" stroke-width="18" stroke-opacity="0.3"/>
<path d="M6695 5830H6975L6985 6447H7001L7009 5830H7184L7194 6447H7239L7247 5830H7342L7352 6447H7364L7372 5830H7480L7490 6447H7500L7508 5830H7564L7574 6447H7628L7636 5830H7640L7650 6447H7693L7701 5830H8800L8810 6080H8841L8849 5830H8857L8867 6447H8995L9003 5830H9017L9027 6447H9028L9036 5830H9311L9321 6447H9339L9347 5830H9514L9524 6447H9546L9554 5830H9616L9626 6447H9644L9652 5830H9675L9685 6447H9689L9697 5830H10393L10399 6447H12052" stroke="#000" stroke-width="18" stroke-opacity="0.3"/>
<path d="M6695 5829H6972L6982 6447H7006L7014 5829H7187L7197 6447H7234L7242 5829H7349L7359 6447H7362L7370 5829H7510L7520 6447H7533L7541 5829H8856L8866 6447H8994L9002 5829H9049L9059 6447H9054L9062 5829H9308L9318 6447H9341L9349 5829H9413L9423 6447H9443L9451 5829H9516L9526 6447H9546L9554 5829H10355L10365 5970H10381L10389 5829H10390L10396 6447H12052" stroke="#000" stroke-width="18" stroke-opacity="0.3"/>
<path d="M6695 5828H6972L6982 6447H7006L7014 5828H7347L7357 6447H7364L7372 5828H7488L7498 6447H7500L7508 5828H7511L7521 6447H7533L7541 5828H7568L7578 6447H7630L7638 5828H7649L7659 6447H7695L7703 5828H7920L7930 6060H7949L7957 5828H8852L8862 6447H8997L9005 5828H9011L9021 6447H9028L9036 5828H9102L9112 6447H9138L9146 5828H9210L9220 6447H9239L9247 5828H9411L9421 6447H9444L9452 5828H9514L9524 6447H9545L9553 5828H9620L9630 6447H9643L9651 5828H9675L9685 6447H9688L9696 5828H10355L10365 5970H10381L10389 5828L10395 6447H12052" stroke="#000" stroke-width="18" stroke-opacity="0.3"/>
<path d="M6695 5828H6975L6985 6447H7006L7014 5828H7260L7270 6447H7272L7280 5828H7508L7518 6447H7532L7540 5828H7566L7576 6447H7692L7700 5828H8800L8810 6080H8841L8849 5828H8863L8873 6447H8999L9007 5828H9018L9028 6447H9029L9037 5828H9308L9318 6447H9343L9351 5828H9412L9422 6447H9443L9451 5828H9620L9630 6447H9644L9652 5828H9675L9685 6447H9687L9695 5828H10355L10365 5970H10381L10389 5828H10393L10399 6447H12052" stroke="#000" stroke-width="18" stroke-opacity="0.3"/>
<path d="M6695 5827H6970L6980 6447H7006L7014 5827H7349L7359 6447H7364L7372 5827H7569L7579 6447H7693L7701 5827H7717L7727 6447H7863L7871 5827H8849L8859 6447H8999L9007 5827H9103L9113 6447H9136L9144 5827H9206L9216 6447H9240L9248 5827H9311L9321 6447H9341L9349 5827H9413L9423 6447H9443L9451 5827H9514L9524 6447H9545L9553 5827H9677L9687 6447H9689L9697 5827H10397L10403 6447H12052" stroke="#000" stroke-width="18" stroke-opacity="0.3"/>
<path d="M6695 5826H6964L6974 6447H7007L7015 5826H7188L7198 6447H7236L7244 5826H7283L7293 6447H7298L7306 5826H7508L7518 6447H7533L7541 5826H7718L7728 6447H7865L7873 5826H8800L8810 6080H8841L8849 5826H8852L8862 6447H8990L8998 5826H9102L9112 6447H9136L9144 5826H9208L9218 6447H9239L9247 5826H9309L9319 6447H9339L9347 5826H9412L9422 6447H9444L9452 5826H9513L9523 6447H9544L9552 5826H9617L9627 6447H9643L9651 5826H9672L9682 6447H9687L9695 5826H10355L10365 5970H10381H10387L10393 6447H12052" stroke="#000" stroke-width="18" stroke-opacity="0.3"/>
</g>
<g clip-path="url(#c20)" fill="none" stroke-linejoin="round" stroke-linecap="butt">
<path d="M12210 1722l5 420 5-399 15 528 5-371 5 300 5-342 5 403 5-331 5 340 5-211 5 220 5-326 5 279 5-317 5 241 5-291 5 245 20-500 20 320 5-136 5 173 5-174 5 167 5-246 5 196 5-151 5 147 15-288 15 235 5-194 5 240 5-161 5 180 5-224 5 199 5-206 5 158 15-420 35 560 5-103 5 217 25-503 25 312 5-27 5 162 5-180 5 167 5-182 5 208 20-470 20 320 5-67 5 177 5-208 5 188 5-242 5 188 5-157 5 198 5-181 5 176 25-498 45 619 10-1036 20 265 5-49 5 49 5-62 5 58 5-73 5 48 5-51 5 52 5-60 5 54 5-62 20 638 10-960 25 215 5-54 5 44 5-39 5 52 5-50 5 59 15-205 15 201 5-38 5 59 15-89 5 56 5-73 5 67 5-52 5 60 5-69 5 44 5-49 10 69 10 430 10-741 25 408 40 347 45 201 20 63 10-9 15 48 15-932 45 460 30 195 50 195 15 10 20 43 15-905 20 217 5-50 5 60 5-59 5 51 5-44 5 55 5-41 5 65 5-52 5 59 5-57 15 356 5-77 5 183 5-99 5 204 5-158 5 230 5-187 5 156 5-215 5 265 5-218 5 294 5-259 5 216 5-204 5 265 5-261 5 259 5-195 5 237 5-230 15 260 5-193 5 175 5-259 5 243 5-311 5 274 5-228 5 306 5-306 5 302 5-329 5 260 5-249 5 243 5-255 5 256 5-252 15 460 5-234 5 248 5-244 5 262 5-278 5 224 5-376 5 332 5-276 5 327 5-275 5 343 5-368 5 272 5-348 5 244 5-248 5 277 5-267 5 479 5-346 5 257 5-400 5 335 5-293 5 429 5-351 5 392 5-361 5 281 5-402 5 334 5-253 5 371 5-398 5 344 5-310 5 362 5-299 5 276 5-217 5 245 5-322 5 252 5-357 5 346 5-351 5 336 5-277 5 378 5-286 5 288 5-268 5 335 5-390 5 419 5-312 5 249 5-382 5 360 5-228 5 200 5-236 5 246 20-559 20 320 5-120 5 280 5-175 5 217 5-241 5 161 25-435 25 400 5-122 5 190 5-256 5 201 5-120 5 120 15-420 25 400 5-85 5 214 5-214 5 245 5-202 5 178 5-185 5 143 5-162 5 131 5-226 5 132 5-149 5 51 20-456 40 600 20-560 50 841 15 31 15-1295 5 15 20-12 10 6 5 21 5-47 5 28 25 4 5 100 5-59 5 70 5-55 5 42 5-58 5 56 5-7 10 35 45 396 45 614 10-1336 15 231 5-32 25 240 40 717 15-1038 15 152 5-54 15 105 15 161 40 693 10-1160 55 560 35 694 10-1317 15 274 10 63 5-49 10 65 25 263 35 579 10-1076 15 182 10-28 5-225 35 829 5-555 5-40 10 35 5-39 25 906 5-238 5 223 5-227 5 247 5-255 5 266 15-419 5 373 5-283 5 278 5-236 5 311 5-367 5 266 5-263 5 356 5-276 5 304 5-258 5 193 5-244 5 209 5-342 5 290 5-286 5 274 5-259 5 260 5-183 5 358 5-373 5 355 5-353 5 232 5-219 5 374 5-334 5 293 5-227 5 304 5-272 5 265 5-267 5 246 5-234 5 206 5-302 15-170 20 320 5-128 5 197 5-247 5 206 5-215 5 197 5-202 5 219 15-381 25 356 5-145 5 200 5-143 5 138 5-188 5 181 20-425 30 407 15-215 5 167 25-544 35 517 5-136 5 198 25-453 25 400 5-115 5 122 5-159 5 96 5-153 5 96 15-420 25 368 5-129 5 123 5-138 5 93 5-120 5 115 5-108 5 82 10-246 60 593 45 297 30 125 45 126 95 131 85 60 10-4 45 27 180 62 10-5 230 62 30-3 300 53 30-5 25 12 15-8 40 13 95-1 60 19 25-8 95 15 10-11 15 10 95 5" stroke="#097969" stroke-width="20"/>
<path d="M12210 1692l5 593 5-572 5 465 5-317 5 594 5-527 5 427 5-489 5 574 5-474 5 480 5-305 5 311 5-466 5 398 5-449 5 347 5-410 5 278 20-560 20 320 5-121 5 248 5-243 5 241 5-345 5 283 5-213 5 126 10-280 5-8 5 80 5-33 5 193 5-205 5 344 5-230 5 261 5-313 5 285 5-298 5 143 15-420 25 400 5-25 5 185 5-74 5 234 5-255 5 126 15-420 5-8 20 320 5 2 5 158 5-173 5 238 5-256 5 225 20-516 20 320 5-36 5 196 5-241 5 266 5-341 5 268 5-221 5 281 5-258 5 250 5-208 5 38 15-420 35 553 10 44 10-1082 20 309 5-11 5 69 5-89 5 85 5-102 5 64 5-71 5 71 5-81 5 74 5-83 20 454 5 31 5-714 15 107 5-17 5 60 5-82 5 62 5-57 5 78 5-70 5 88 15-238 15 235 5-60 5 81 5-80 5 41 5-75 5 77 5-103 5 92 5-74 5 86 5-94 5 65 5-71 5 81 5-17 10 347 10-615 25 371 40 372 5 8 20 121 20 88 15 37 5 30 5-7 5 0 5 31 10 18 5-67 5-820 5-190 30 464 40 331 25 128 25 97 10 14 5 1 15 41 10 14 10-1053 25 293 5-72 5 85 5-86 5 72 5-65 5 77 5-60 5 94 5-77 5 83 5-82 10 151 5 270 5-131 5 241 5-150 5 278 5-240 5 321 5-267 5 217 5-304 5 373 5-316 5 411 5-367 5 307 5-285 5 372 5-370 5 366 5-279 5 332 5-327 5 273 5-167 5 258 5-276 5 247 5-371 5 345 5-443 5 388 5-324 5 434 5-435 5 427 5-471 5 364 5-358 5 347 5-359 5 364 5-360 5 447 5-260 5 461 5-336 5 353 5-350 5 370 5-395 5 318 5-533 5 467 5-394 5 460 5-391 5 483 5-522 5 385 5-495 5 349 5-353 5 393 5-382 5 682 5-487 5 364 5-570 5 474 5-415 5 609 5-502 5 555 5-516 5 400 5-574 5 475 5-362 5 528 5-571 5 492 5-443 5 514 5-428 5 391 5-309 5 345 5-458 5 362 5-510 5 495 5-499 5 478 5-393 5 537 5-410 5 408 5-386 5 474 5-554 5 597 5-449 5 357 5-539 5 512 5-328 5 282 5-332 5 189 5-282 5 2 10-280 20 320 5-107 5 267 5-125 5 285 5-325 5 230 5-268 5 62 15-332 25 400 5-92 5 252 5-338 5 283 5-172 5 80 15-420 25 400 5-74 5 234 5-250 5 341 5-295 5 247 5-258 5 227 5-208 5 201 5-308 5 202 5-197 5 86 5-220 5-33 10-280 20 320 5-90 5 101 5-133 5 162 5-148 5 108 10-280 25 314 30 250 25 132 15 53 5 1 5 28 30 60 5-4 5 23 10-1239 5 23 5-4 5 49 5-22 5 64 5-82 5 75 5-44 10 17 25 113 40 312 25 252 10-954 15 191 5-21 5 83 20 117 40 451 10-764 10 111 5 14 5 98 5-86 25 159 45 486 10-757 15 141 5-62 5 84 10 14 15 94 15 119 30 357 5-658 5-145 20 270 5-70 20 103 20 172 30 343 5-669 5-87 15 147 5-31 5-6 5-225 30 847 10-640 5 38 5-7 5 49 5-47 5 291 5-17 5 451 5-66 5 390 5-340 5 316 5-319 5 355 5-359 5 374 5-477 5 330 5-445 5 532 5-401 5 391 5-335 5 440 5-519 5 380 5-374 5 502 5-395 5 429 5-365 5 270 5-346 5 295 5-483 5 411 5-407 5 384 5-369 5 367 5-254 5 505 5-529 5 501 5-496 5 329 5-316 5 524 5-477 5 418 5-323 5 432 5-390 5 379 5-379 5 349 5-340 5 140 5-279 5-1 10-192 20 320 5-101 5 261 5-336 5 296 5-302 5 278 5-282 5 252 5-246 5-34 5-140 15 196 5 6 5 154 5-115 5 275 5-192 5 197 5-271 5 196 5-248 15-224 20 320 5 18 5 142 5-197 5 170 5-244 5 218 5-207 20-405 25 400 5-19 5 179 5-175 5 286 5-259 5 2 10-280 5-8 25 400 5-86 5 173 5-227 5 142 5-212 5 97 15-420 15 240 5 21 5 139 5-155 5 178 5-189 5 136 5-170 5 163 5-152 5 109 10-280 10 160 5-58 25 326 25 254 35 228 30 122 35 94 35 65 70 73 45 23 10 14 5-4 15 5 15 8 10 13 10-5 25 18 10-1 10 7 10-2 25 13 30 5 20 11 15 1 40 17 5-3 20 5 15 10 10-6 10 8 5-4 30 15 5-3 25 7 10-1 5 6 10-1 5 8 20-3 30 11 15-2 30 13 20-1 10 7 30-3 15 9 30 0 10 7 15-2 10 5 15-3 40 11 10-3 15 8 10-5 15 6 20 0 15 7 10-5 10 8 10-5 10 6 5-5 15 7 10-3 10 8 30-5 25 12 15-8 40 13 10-7 45 11 10-5 10 5 20-6 30 11 10-4 20 12 10-6 10 2 5-5 10 5 10-3 5 5 15-4 10 7 40 5 5 0 10-11 15 11 45-5 10 8 30-4" stroke="#AFE1AF" stroke-width="20"/>
<path d="M12210 1670l5 420 5-399 5 331 5-221 5 418 5-371 5 300 5-342 5 402 5-330 5 339 5-210 5 220 5-326 5 279 5-317 5 241 5-291 5 245 20-500 20 320 5-136 5 172 5-173 5 166 5-245 5 196 5-151 5 147 10-280 5-8 5 80 5-30 5 185 5-195 5 241 5-161 5 180 5-225 5 200 5-206 5 158 15-420 25 400 5-30 5 190 5-103 5 217 5-226 5 143 15-420 5-8 20 320 5-27 5 162 5-180 5 167 5-182 5 208 20-470 20 320 5-67 5 177 5-209 5 189 5-242 5 188 5-157 5 197 5-180 5 176 5-150 5 72 15-420 45 680 10-1103 20 270 5-48 5 49 5-62 5 58 5-73 5 48 5-51 5 52 5-60 5 54 5-62 15 267 10 397 5-702 5-154 10 64 5-21 5 42 5-54 5 44 5-39 5 51 5-49 5 59 15-205 15 201 5-39 5 60 5-57 5 25 5-57 5 56 5-73 5 67 5-53 5 60 5-68 5 44 5-49 10 118 5 163 5 400 5-703 5-161 60 932 45 350 20 103 10 7 5 38 15 46 10-1417 25 239 20 339 35 390 45 294 40 118 5-65 10-1296 20 203 5-49 5 59 5-58 5 51 5-45 5 55 5-40 5 65 5-53 5 60 5-57 10 138 5 218 5-77 5 183 5-99 5 204 5-158 5 230 5-187 5 156 5-215 5 264 5-218 5 295 5-260 5 217 5-204 5 265 5-261 5 259 5-195 5 236 5-230 5 195 5-117 5 182 5-192 5 175 5-259 5 242 5-310 5 274 5-228 5 306 5-306 5 302 5-329 5 260 5-249 5 243 5-255 5 255 5-251 5 317 5-181 5 324 5-235 5 249 5-244 5 262 5-278 5 224 5-376 5 331 5-275 5 327 5-275 5 343 5-368 5 272 5-348 5 244 5-248 5 277 5-267 5 479 5-346 5 257 5-400 5 335 5-293 5 429 5-351 5 391 5-360 5 281 5-403 5 335 5-253 5 371 5-398 5 343 5-309 5 362 5-299 5 276 5-217 5 245 5-323 5 253 5-358 5 347 5-351 5 336 5-277 5 378 5-286 5 288 5-268 5 335 5-390 5 419 5-313 5 250 5-382 5 360 5-228 5 199 5-236 5 246 5-314 5 36 10-280 20 320 5-120 5 280 5-175 5 217 5-241 5 161 5-187 5 84 15-332 25 400 5-122 5 190 5-257 5 201 5-119 5 120 15-420 25 400 5-85 5 214 5-214 5 245 5-202 5 178 5-185 5 143 5-163 5 131 5-225 5 131 5-149 5 51 20-455 20 307 5-91 5 73 5-93 5 113 5-105 5 110 10-274 10 160 5 8 35 402 25 196 30 148 30 85 5 0 10 37 5-942 5-433 5-28 5 51 5-36 5 42 5-58 5 56 5-10 10 17 20 87 40 302 30 308 10-940 15 173 5-36 5 68 15 80 10 97 35 452 5-119 5-681 20 182 5-62 5 78 5-17 10 32 15 114 30 328 10 159 10-903 20 242 20 111 15 124 30 371 5-13 5-660 5-56 20 162 5-24 5 11 25 159 35 434 10-891 20 289 5-43 5 2 5-225 15 408 15 248 5 20 5-476 15 69 5-39 5 237 5 23 5 358 5-10 5 298 5-238 5 223 5-227 5 247 5-255 5 266 5-334 5 231 5-316 5 373 5-283 5 278 5-236 5 311 5-367 5 266 5-263 5 356 5-277 5 304 5-257 5 192 5-243 5 209 5-342 5 289 5-285 5 274 5-259 5 260 5-183 5 358 5-373 5 355 5-353 5 232 5-219 5 374 5-334 5 293 5-227 5 304 5-272 5 265 5-267 5 245 5-233 5 206 5-302 5 22 10-192 20 320 5-128 5 197 5-247 5 206 5-215 5 197 5-202 5 219 5-215 5-26 5-140 15 196 5-10 5 170 5-145 5 200 5-143 5 138 5-188 5 181 5-221 5-12 10-192 20 320 5-38 5 125 5-163 5 119 5-171 5 167 25-544 25 400 5-21 5 138 5-137 5 199 5-181 5 16 10-280 5-8 25 400 5-115 5 122 5-159 5 96 5-153 5 96 15-420 25 368 5-129 5 123 5-138 5 93 5-120 5 115 5-108 5 82 10-246 10 160 5-57 35 424 25 231 20 133 30 146 35 114 25 60 30 50 50 62 15 13 30 17 10 14 10-1 25 14 10 14 10-4 25 19 10 0 10 8 10-2 25 14 30 7 20 11 15 2 40 18 5-3 20 6 15 10 10-5 10 8 5-4 30 15 20-1 10 6 10-1 5 7 10-2 5 8 20-2 30 11 15-1 30 13 20-1 10 8 30-3 15 9 30 2 10 6 15-1 10 5 15-3 40 11 10-2 15 7 10-5 15 7 20 0 15 7 10-5 10 9 10-5 10 6 5-5 15 7 10-3 10 8 30-5 25 13 15-8 40 13 10-6 45 11 10-6 10 6 20-6 30 12 10-5 20 12 10-5 10 2 5-5 10 5 10-4 5 5 15-3 10 7 40 5 5 0 10-10 15 10 45-4 10 7 35-1" stroke="#E4D00A" stroke-width="20"/>
<path d="M12210 1674l5 421 5-399 15 528 5-371 5 300 5-342 5 402 5-331 5 340 5-210 5 220 5-326 5 279 5-317 5 241 5-291 5 245 20-500 20 320 5-136 5 172 5-173 5 166 5-245 5 196 5-151 5 147 15-288 15 235 5-195 5 241 5-162 5 181 5-225 5 199 5-205 5 158 15-420 35 560 5-103 5 217 25-503 25 312 5-27 5 162 5-180 5 167 5-182 5 208 20-470 20 320 5-67 5 177 5-209 5 189 5-243 5 189 5-158 5 198 5-180 5 175 25-497 45 612 10-982 20 211 5-43 5 50 5-62 5 58 5-73 5 47 5-50 5 52 5-60 5 54 5-62 25 520 5-761 25 134 5-55 5 45 5-39 5 51 5-49 5 59 15-205 15 201 5-39 5 60 15-89 5 56 5-73 5 66 5-52 5 60 5-68 5 44 5-49 20 383 10-498 60 624 45 242 20 75 10-5 25 76 10-1207 20 449 45 436 50 253 45 99 10-1007 25 178 5-49 5 59 5-58 5 51 5-45 5 55 5-41 5 66 5-53 5 60 5-57 15 356 5-77 5 182 5-98 5 204 5-158 5 229 5-186 5 155 5-215 5 265 5-218 5 294 5-259 5 216 5-203 5 265 5-262 5 260 5-196 5 237 5-230 15 260 5-192 5 175 5-259 5 242 5-310 5 274 5-228 5 306 5-306 5 302 5-329 5 260 5-249 5 242 5-254 5 255 5-251 15 460 5-235 5 249 5-244 5 262 5-278 5 223 5-375 5 331 5-276 5 328 5-275 5 343 5-368 5 272 5-348 5 244 5-248 5 277 5-267 5 478 5-345 5 257 5-400 5 335 5-293 5 428 5-350 5 391 5-360 5 280 5-402 5 335 5-253 5 371 5-398 5 343 5-309 5 362 5-299 5 276 5-218 5 245 5-322 5 252 5-357 5 347 5-351 5 335 5-276 5 378 5-286 5 288 5-268 5 334 5-389 5 419 5-313 5 250 5-382 5 360 5-228 5 199 5-236 5 246 20-558 20 320 5-120 5 280 5-175 5 217 5-241 5 161 25-435 25 400 5-122 5 189 5-256 5 201 5-120 5 121 15-420 25 400 5-85 5 214 5-214 5 245 5-202 5 178 5-186 5 143 5-162 5 131 5-225 5 131 5-149 5 51 20-455 20 307 5-92 5 74 5-93 5 113 5-105 5 110 10-274 10 160 60 481 30 121 45 100 10-1231 5 20 5-18 5 51 5-36 5 42 5-58 5 55 5-76 5 68 30 101 70 584 10-884 40 285 45 594 10-965 15 229 5-17 5 78 5-18 10 30 20 150 35 413 10-789 55 384 35 412 10-851 20 263 5-48 35 237 30 369 10-745 20 172 10-48 5-225 35 788 5-457 5-85 5-13 5 36 5-39 25 906 5-239 5 224 5-227 5 247 5-255 5 266 15-419 5 372 5-282 5 277 5-236 5 312 5-367 5 266 5-264 5 356 5-276 5 304 5-257 5 192 5-243 5 209 5-342 5 289 5-285 5 273 5-258 5 260 5-183 5 358 5-374 5 355 5-352 5 231 5-218 5 373 5-333 5 293 5-227 5 304 5-273 5 266 5-267 5 245 5-233 5 206 5-302 15-170 20 320 5-128 5 197 5-248 5 207 5-216 5 198 5-202 5 218 15-380 25 356 5-145 5 199 5-143 5 139 5-189 5 182 20-425 30 407 15-215 5 167 25-544 35 517 5-137 5 199 25-453 25 400 5-115 5 122 5-159 5 96 5-153 5 96 15-420 25 368 5-129 5 122 5-138 5 94 5-120 5 115 5-108 5 82 10-246 70 754 55 326 60 170 80 105 55 42 100 48 180 63 10-5 230 66 30-3 300 56 30-5 25 12 15-8 40 14 95-1 60 19 25-8 90 15 15-10 15 10 90 3" stroke="#50C878" stroke-width="20"/>
<path d="M12210 1700l5 420 5-399 15 528 5-371 5 300 5-342 5 402 5-330 5 339 5-210 5 220 5-326 5 279 5-317 5 241 5-291 5 245 20-500 20 320 5-136 5 172 5-173 5 166 5-245 5 196 5-151 5 147 15-288 15 235 5-195 5 241 5-161 5 180 5-225 5 200 5-206 5 158 15-420 35 560 5-103 5 217 25-503 25 312 5-27 5 162 5-180 5 167 5-182 5 208 20-470 20 320 5-67 5 177 5-208 5 188 5-242 5 188 5-157 5 198 5-181 5 176 25-498 40 608 10-982 25 221 5-48 5 49 5-62 5 58 5-73 5 48 5-51 5 52 5-60 5 54 5-62 25 513 10-785 20 165 5-54 5 44 5-39 5 51 5-49 5 59 15-205 15 201 5-39 5 60 15-89 5 56 5-73 5 67 5-53 5 60 5-68 5 44 5-49 5 57 5-56 15 406 5-565 60 788 45 265 50 148 10-1229 35 460 40 334 50 228 40 72 10-975 25 165 5-49 5 59 5-58 5 51 5-45 5 55 5-40 5 65 5-53 5 60 5-57 15 356 5-77 5 183 5-99 5 204 5-158 5 230 5-187 5 156 5-215 5 264 5-218 5 295 5-260 5 217 5-204 5 265 5-261 5 259 5-195 5 236 5-230 15 260 5-192 5 175 5-259 5 242 5-310 5 274 5-228 5 306 5-306 5 302 5-329 5 260 5-249 5 243 5-255 5 255 5-251 15 460 5-235 5 249 5-244 5 262 5-278 5 224 5-376 5 331 5-275 5 327 5-275 5 343 5-368 5 272 5-348 5 244 5-248 5 277 5-267 5 479 5-346 5 257 5-400 5 335 5-293 5 429 5-351 5 392 5-361 5 281 5-403 5 335 5-253 5 371 5-398 5 343 5-309 5 362 5-299 5 276 5-217 5 245 5-323 5 253 5-358 5 347 5-351 5 336 5-277 5 378 5-286 5 288 5-268 5 335 5-390 5 419 5-313 5 250 5-382 5 360 5-228 5 199 5-236 5 246 20-558 20 320 5-120 5 280 5-175 5 217 5-241 5 161 25-435 25 400 5-122 5 190 5-257 5 201 5-119 5 120 15-420 25 400 5-85 5 214 5-214 5 245 5-202 5 178 5-185 5 143 5-163 5 131 5-225 5 131 5-149 5 51 20-455 20 307 5-91 5 73 5-93 5 113 5-105 5 110 10-274 60 627 40 210 40 102 10-148 10-1150 5-8 5 43 5-28 5 42 5-58 5 56 5-9 10 18 25 103 65 509 10-843 15 170 5-47 25 214 40 505 10-917 20 277 5-62 5 78 5-18 15 93 45 502 10-887 15 207 75 629 10-826 15 248 10 46 5-17 10 24 25 160 30 331 10-728 20 216 10-49 5-225 30 620 10-440 15 87 5-37 25 906 5-238 5 223 5-227 5 247 5-255 5 266 15-419 5 373 5-283 5 278 5-236 5 311 5-367 5 266 5-263 5 356 5-277 5 304 5-257 5 192 5-243 5 209 5-342 5 289 5-285 5 274 5-259 5 260 5-183 5 358 5-373 5 355 5-353 5 232 5-219 5 374 5-334 5 293 5-227 5 304 5-272 5 265 5-267 5 245 5-233 5 206 5-302 15-170 20 320 5-128 5 197 5-247 5 206 5-215 5 197 5-202 5 219 15-381 25 356 5-145 5 200 5-143 5 138 5-188 5 181 20-425 30 407 15-215 5 167 25-544 35 517 5-137 5 199 25-453 25 400 5-115 5 122 5-159 5 96 5-153 5 96 15-420 25 368 5-129 5 123 5-138 5 93 5-120 5 115 5-108 5 82 10-246 65 690 65 379 60 160 80 101 55 41 100 47 180 62 10-6 230 64 30-3 300 55 30-5 25 12 15-8 40 14 95-1 60 19 25-8 90 15 15-11 15 11 85 0" stroke="#5F8575" stroke-width="20"/>
<path d="M12210 1701l5 420 5-398 15 528 5-371 5 300 5-343 5 403 5-331 5 340 5-211 5 220 5-325 5 278 5-317 5 241 5-291 5 245 20-500 20 320 5-136 5 173 5-174 5 167 5-246 5 197 5-152 5 147 15-288 15 235 5-194 5 241 5-162 5 181 5-225 5 199 5-206 5 158 15-420 35 560 5-103 5 217 25-503 25 312 5-26 5 161 5-179 5 166 5-181 5 207 20-470 20 320 5-67 5 178 5-209 5 188 5-242 5 188 5-157 5 198 5-180 5 175 25-498 45 596 10-1063 20 303 5-37 5 49 5-62 5 58 5-72 5 47 5-50 5 51 5-59 5 53 5-62 25 419 5-654 15 103 5-17 5 42 5-54 5 45 5-40 5 52 5-50 5 59 15-205 15 201 5-38 5 59 15-88 5 55 5-73 5 67 5-52 5 60 5-69 5 44 5-49 5 57 5-55 15 609 10-733 50 706 45 295 20 88 10 1 25 87 10-1207 75 741 50 242 40 78 15-1018 20 208 5-49 5 59 5-59 5 51 5-44 5 55 5-41 5 65 5-52 5 59 5-57 15 356 5-76 5 182 5-99 5 205 5-159 5 230 5-187 5 156 5-215 5 265 5-218 5 294 5-259 5 216 5-204 5 265 5-261 5 260 5-196 5 237 5-230 15 260 5-193 5 176 5-259 5 242 5-311 5 274 5-228 5 306 5-306 5 302 5-328 5 259 5-249 5 243 5-255 5 256 5-252 15 460 5-234 5 249 5-245 5 262 5-277 5 223 5-376 5 332 5-276 5 327 5-274 5 342 5-368 5 272 5-348 5 244 5-248 5 278 5-267 5 478 5-346 5 257 5-400 5 335 5-293 5 429 5-351 5 392 5-361 5 281 5-402 5 335 5-254 5 371 5-398 5 344 5-310 5 363 5-300 5 276 5-217 5 245 5-322 5 252 5-357 5 346 5-351 5 336 5-277 5 378 5-286 5 289 5-269 5 335 5-390 5 420 5-313 5 249 5-382 5 360 5-228 5 200 5-236 5 246 20-559 20 320 5-119 5 279 5-175 5 217 5-241 5 162 25-436 25 400 5-122 5 190 5-256 5 201 5-120 5 120 15-420 25 400 5-85 5 214 5-214 5 246 5-203 5 178 5-185 5 143 5-162 5 131 5-226 5 132 5-149 5 51 20-456 20 308 5-92 5 73 5-93 5 113 5-105 5 110 10-274 75 714 30 134 45 111 10-1312 5-14 5 44 5-29 5 42 5-58 5 56 5-77 5 67 30 100 70 573 10-864 40 280 45 536 10-885 15 221 5-32 30 207 40 388 10-680 15 132 5-74 25 163 45 453 15-850 20 333 5-15 5 19 25 163 30 338 10-749 25 234 10-54 5-225 30 671 10-470 15 68 5-39 25 906 5-238 5 223 5-227 5 247 5-255 5 266 15-419 5 373 5-282 5 277 5-236 5 311 5-367 5 267 5-264 5 356 5-276 5 304 5-257 5 192 5-244 5 209 5-342 5 290 5-285 5 273 5-259 5 260 5-183 5 358 5-373 5 355 5-353 5 232 5-219 5 374 5-334 5 293 5-227 5 304 5-272 5 265 5-267 5 246 5-234 5 206 5-302 15-170 20 320 5-128 5 197 5-247 5 206 5-215 5 197 5-202 5 219 15-381 25 356 5-145 5 200 5-143 5 138 5-188 5 181 20-425 30 407 15-214 5 166 25-544 35 517 5-136 5 198 25-453 25 400 5-114 5 121 5-159 5 96 5-153 5 96 15-420 25 368 5-129 5 123 5-138 5 93 5-120 5 116 5-108 5 81 10-246 60 617 50 325 30 116 45 115 80 106 55 42 100 47 180 61 10-6 230 63 30-3 300 53 30-5 25 12 15-8 40 13 95-1 60 18 25-8 90 15 15-10 15 10 90 2" stroke="#4F7942" stroke-width="20"/>
<path d="M12210 1666l5 420 5-399 15 528 5-371 5 300 5-342 5 402 5-330 5 339 5-210 5 220 5-326 5 279 5-317 5 241 5-291 5 245 20-500 20 320 5-136 5 172 5-173 5 166 5-245 5 196 5-151 5 147 15-288 15 235 5-194 5 240 5-161 5 180 5-225 5 200 5-206 5 158 15-420 35 560 5-103 5 217 25-503 25 312 5-27 5 162 5-180 5 167 5-182 5 208 20-470 20 320 5-67 5 177 5-208 5 188 5-242 5 188 5-157 5 198 5-181 5 176 25-498 40 608 10-960 25 199 5-48 5 49 5-62 5 58 5-73 5 48 5-51 5 52 5-60 5 54 5-62 20 428 10-613 15 79 5-43 5 42 5-54 5 44 5-39 5 51 5-49 5 59 15-205 15 201 5-39 5 60 15-89 5 56 5-73 5 67 5-53 5 61 5-69 5 44 5-49 5 57 5-55 15 326 5-559 55 739 40 251 40 156 10-7 10 36 15-1033 50 530 30 198 50 198 15 10 15 38 10-1119 25 332 5-49 5 59 5-58 5 51 5-45 5 55 5-40 5 65 5-52 5 59 5-57 15 356 5-77 5 183 5-99 5 204 5-158 5 230 5-187 5 156 5-215 5 264 5-217 5 294 5-260 5 217 5-204 5 265 5-261 5 259 5-195 5 236 5-230 15 260 5-192 5 175 5-259 5 242 5-310 5 274 5-228 5 306 5-306 5 302 5-329 5 260 5-249 5 243 5-255 5 255 5-251 15 460 5-235 5 249 5-244 5 262 5-278 5 224 5-376 5 331 5-275 5 327 5-275 5 343 5-368 5 272 5-348 5 244 5-248 5 277 5-267 5 479 5-346 5 257 5-400 5 335 5-293 5 429 5-351 5 392 5-361 5 281 5-403 5 335 5-253 5 371 5-398 5 343 5-309 5 362 5-299 5 276 5-217 5 245 5-323 5 253 5-358 5 347 5-351 5 336 5-277 5 378 5-286 5 288 5-268 5 335 5-390 5 419 5-313 5 250 5-382 5 360 5-228 5 199 5-236 5 246 20-558 20 320 5-120 5 280 5-175 5 217 5-241 5 161 25-435 25 400 5-122 5 190 5-257 5 201 5-119 5 120 15-420 25 400 5-85 5 214 5-214 5 245 5-202 5 178 5-185 5 143 5-163 5 131 5-225 5 132 5-150 5 51 20-455 20 307 5-91 5 73 5-93 5 113 5-105 5 110 10-274 70 682 40 178 40 79 15-1306 5 54 5-39 5 42 5-58 5 56 5-22 5 10 25 101 70 545 10-833 15 140 5-40 30 210 40 453 10-760 15 160 5-46 30 217 40 501 10-935 15 219 5-28 35 278 35 410 10-837 15 192 10 55 5-48 25 145 45 424 5-703 5-85 15 225 10-21 5-225 30 713 10-504 15 60 5-39 25 906 5-238 5 223 5-227 5 247 5-255 5 266 15-419 5 373 5-283 5 278 5-236 5 311 5-367 5 266 5-263 5 356 5-277 5 304 5-257 5 192 5-243 5 209 5-342 5 290 5-286 5 274 5-259 5 260 5-183 5 358 5-373 5 355 5-353 5 232 5-219 5 374 5-334 5 293 5-227 5 304 5-272 5 265 5-267 5 245 5-233 5 206 5-302 15-170 20 320 5-128 5 197 5-247 5 206 5-215 5 197 5-202 5 219 15-381 25 356 5-145 5 200 5-143 5 138 5-188 5 181 20-425 30 407 15-215 5 167 25-544 35 517 5-137 5 199 25-453 25 400 5-115 5 122 5-159 5 96 5-153 5 96 15-420 25 368 5-129 5 123 5-138 5 93 5-120 5 115 5-108 5 82 10-246 60 619 45 303 35 133 35 85 35 60 45 47 125 79 10-4 25 17 135 44 160 35 20 13 395 65 90 3 25 12 15-8 40 13 95-1 60 18 25-8 95 14 10-11 15 11 75 2" stroke="#228B22" stroke-width="20"/>
<path d="M12210 1674l5 421 5-399 15 528 5-371 5 300 5-342 5 402 5-331 5 340 5-210 5 220 5-326 5 279 5-317 5 241 5-292 5 246 20-500 20 320 5-136 5 172 5-173 5 166 5-245 5 196 5-151 5 147 15-288 15 235 5-195 5 241 5-162 5 181 5-225 5 199 5-206 5 159 15-420 35 560 5-103 5 217 25-503 25 312 5-27 5 162 5-180 5 167 5-182 5 207 20-469 20 320 5-67 5 177 5-209 5 189 5-243 5 189 5-158 5 198 5-180 5 175 25-497 40 579 15-1022 20 290 5-49 5 50 5-62 5 58 5-73 5 47 5-50 5 52 5-60 5 53 5-62 25 624 10-878 20 148 5-55 5 45 5-39 5 51 5-49 5 59 15-205 15 201 5-39 5 60 15-89 5 55 5-72 5 66 5-52 5 60 5-68 5 44 5-49 5 57 5-56 15 534 5-673 55 628 45 267 20 81 10-2 25 81 15-1195 20 392 45 413 50 238 45 94 15-1004 20 243 5-49 5 59 5-58 5 50 5-44 5 55 5-41 5 66 5-53 5 60 5-58 15 356 5-76 5 182 5-98 5 204 5-158 5 229 5-186 5 155 5-215 5 265 5-218 5 294 5-259 5 216 5-203 5 265 5-262 5 260 5-196 5 237 5-230 15 260 5-192 5 175 5-259 5 242 5-310 5 274 5-228 5 306 5-306 5 302 5-329 5 259 5-249 5 243 5-254 5 255 5-251 15 459 5-234 5 249 5-244 5 261 5-277 5 223 5-375 5 331 5-276 5 328 5-275 5 343 5-368 5 272 5-348 5 244 5-248 5 277 5-267 5 478 5-345 5 257 5-400 5 335 5-293 5 428 5-350 5 391 5-361 5 281 5-402 5 335 5-253 5 371 5-399 5 344 5-309 5 362 5-300 5 277 5-218 5 245 5-322 5 252 5-357 5 347 5-351 5 335 5-276 5 378 5-286 5 288 5-268 5 334 5-389 5 419 5-313 5 250 5-382 5 360 5-229 5 200 5-236 5 246 20-558 20 320 5-120 5 280 5-175 5 217 5-241 5 161 25-435 25 400 5-122 5 189 5-256 5 201 5-120 5 121 15-420 25 400 5-85 5 214 5-214 5 245 5-202 5 178 5-186 5 143 5-162 5 131 5-225 5 131 5-149 5 51 20-455 20 307 5-92 5 74 5-93 5 113 5-106 5 111 10-274 65 660 30 148 50 141 10-1318 5 41 5-39 5 59 5-44 5 42 5-58 5 55 5-16 5 8 20 70 75 592 10-920 15 202 5-34 40 346 25 347 10-825 20 211 5-62 5 78 5-21 5 10 20 128 40 444 10-827 85 789 10-729 15 145 10 55 5-48 30 194 35 444 10-749 20 143 10-47 5-225 30 840 10-632 15 61 5-39 25 906 5-239 5 224 5-228 5 248 5-255 5 266 15-420 5 373 5-282 5 277 5-236 5 311 5-366 5 266 5-264 5 356 5-276 5 304 5-257 5 192 5-243 5 208 5-341 5 289 5-285 5 273 5-258 5 259 5-182 5 357 5-373 5 355 5-352 5 231 5-218 5 373 5-333 5 293 5-227 5 304 5-273 5 266 5-267 5 245 5-233 5 206 5-303 15-169 20 320 5-128 5 197 5-248 5 207 5-216 5 198 5-202 5 218 15-380 25 356 5-145 5 199 5-143 5 139 5-189 5 182 20-425 30 406 15-214 5 167 25-544 35 517 5-137 5 199 25-453 25 400 5-115 5 122 5-159 5 96 5-153 5 96 15-420 25 368 5-129 5 122 5-138 5 94 5-121 5 116 5-108 5 82 10-246 60 601 45 294 30 121 45 119 80 108 55 44 100 46 180 60 10-5 230 61 30-3 300 52 30-5 25 12 15-8 40 13 95-1 60 18 25-8 95 15 10-11 15 11 95 4" stroke="#7CFC00" stroke-width="20"/>
<path d="M12210 1752l5 420 5-399 5 331 5-221 5 418 5-371 5 300 5-342 5 403 5-331 5 340 5-211 5 220 5-326 5 279 5-317 5 241 5-291 5 245 20-500 20 320 5-136 5 173 5-174 5 167 5-246 5 196 5-151 5 147 10-280 5-8 5 80 5-30 5 185 5-194 5 240 5-161 5 180 5-224 5 199 5-206 5 158 15-420 25 400 5-30 5 190 5-103 5 217 5-226 5 143 15-420 5-8 20 320 5-27 5 162 5-180 5 167 5-182 5 208 20-470 20 320 5-67 5 177 5-208 5 188 5-242 5 188 5-157 5 198 5-181 5 176 5-149 5 71 15-420 35 556 5 10 10 220 5-700 5 3 5 68 5-54 5 45 5-49 5 49 5-62 5 58 5-73 5 48 5-51 5 52 5-60 5 54 5-62 30 389 5-471 5-50 5 36 5-53 5 42 5-54 5 44 5-39 5 52 5-50 5 59 15-205 15 201 5-38 5 59 5-57 5 25 5-57 5 56 5-73 5 67 5-52 5 60 5-69 5 44 5-49 5 57 5-55 15 318 5-320 5 77 5-58 10 73 40 187 5-9 20 66 5 1 15 46 5-2 10 15 5 23 10-19 5 25 5 0 15 21 5-372 5-44 5 59 5-68 5 44 5 7 15 86 5 6 5 41 5 2 25 96 5 13 5-6 15 49 15 19 10 28 5-6 5 5 5-7 15 23 10 4 5 12 5-347 5-50 5 57 5-56 5 58 5-50 5 60 5-59 5 51 5-44 5 55 5-41 5 65 5-52 5 59 10-87 5 19 5 142 5-152 5 183 5-99 5 204 5-158 5 230 5-187 5 156 5-215 5 265 5-218 5 294 5-259 5 216 5-204 5 265 5-261 5 259 5-195 5 237 5-230 5 194 5-117 5 183 5-193 5 175 5-259 5 243 5-311 5 274 5-228 5 306 5-306 5 302 5-329 5 260 5-249 5 243 5-255 5 256 5-252 5 317 5-181 5 324 5-234 5 248 5-244 5 262 5-278 5 224 5-376 5 332 5-276 5 327 5-275 5 343 5-368 5 272 5-348 5 244 5-248 5 277 5-267 5 479 5-346 5 257 5-400 5 335 5-293 5 429 5-351 5 392 5-361 5 281 5-402 5 334 5-253 5 371 5-398 5 344 5-310 5 362 5-299 5 276 5-217 5 245 5-322 5 252 5-357 5 346 5-351 5 336 5-277 5 378 5-286 5 288 5-268 5 335 5-390 5 419 5-312 5 249 5-382 5 360 5-228 5 200 5-236 5 246 5-315 5 36 10-280 20 320 5-120 5 280 5-175 5 217 5-241 5 161 5-187 5 84 15-332 25 400 5-122 5 190 5-256 5 201 5-120 5 120 15-420 25 400 5-85 5 214 5-214 5 245 5-202 5 178 5-185 5 143 5-162 5 131 5-226 5 132 5-149 5 51 20-456 20 307 5-91 5 73 5-93 5 113 5-105 5 110 10-274 10 160 5 8 10 155 25 220 35 188 10 35 5 2 10 41 25 48 15 254 5-1179 5 60 5-59 5 70 5-55 5 42 5-58 5 56 5-9 10 25 25 136 40 366 30 363 5-970 5 67 5-61 5 45 5-61 5 66 10 31 15 127 25 333 20 350 5-890 5 68 5-73 5 67 5-62 5 78 5-28 15 90 30 342 25 396 5-808 5-76 5 54 5-74 5 93 10 50 25 241 35 535 5-882 5 34 5-27 5 53 5-52 5 54 5-49 20 107 20 184 35 524 5-819 5 42 5-63 5 64 5-56 5 2 5-225 15 410 25 458 5-593 5-41 5 35 5-39 5 163 5-52 5 282 5-85 5 298 5-238 5 223 5-227 5 247 5-255 5 266 5-334 5 232 5-317 5 373 5-283 5 278 5-236 5 311 5-367 5 266 5-263 5 356 5-276 5 304 5-258 5 193 5-244 5 209 5-342 5 290 5-286 5 274 5-259 5 260 5-183 5 358 5-373 5 355 5-353 5 232 5-219 5 374 5-334 5 293 5-227 5 304 5-272 5 265 5-267 5 246 5-234 5 206 5-302 5 22 10-192 20 320 5-128 5 197 5-247 5 206 5-215 5 197 5-202 5 219 5-214 5-27 5-140 15 196 5-10 5 170 5-145 5 200 5-143 5 138 5-188 5 181 5-221 5-12 10-192 20 320 5-37 5 124 5-163 5 120 5-172 5 167 25-544 25 400 5-21 5 138 5-136 5 198 5-181 5 16 10-280 5-8 25 400 5-115 5 122 5-159 5 96 5-153 5 96 15-420 25 368 5-129 5 123 5-138 5 93 5-120 5 115 5-108 5 82 10-246 10 160 5-56 50 562 30 211 30 142 35 110 25 59 30 48 50 59 15 14 30 15 10 14 10-1 25 14 10 13 10-4 25 19 10-1 10 8 10-2 25 14 30 6 20 12 15 1 40 18 5-3 20 6 15 9 10-5 10 8 5-4 30 15 20 0 10 5 10-1 5 7 10-2 5 8 20-2 30 11 15-2 30 13 20 0 10 7 30-3 15 9 30 1 10 7 15-2 10 5 15-3 40 12 10-3 15 8 10-5 15 7 20-1 15 8 10-5 10 8 10-5 10 6 5-5 15 7 10-3 10 8 30-5 25 12 15-8 40 13 10-6 45 11 10-5 10 6 20-6 30 11 10-4 20 11 10-5 10 2 5-5 10 5 10-3 5 4 15-3 10 7 40 5 5 0 10-10 15 10 45-5 10 8 35-1" stroke="#008000" stroke-width="20"/>
<path d="M12210 1672l5 420 5-398 15 528 5-372 5 301 5-343 5 403 5-331 5 340 5-211 5 220 5-325 5 278 5-317 5 241 5-291 5 245 20-500 20 320 5-136 5 173 5-174 5 167 5-246 5 197 5-152 5 147 15-288 15 235 5-194 5 240 5-161 5 180 5-224 5 199 5-206 5 158 15-420 35 560 5-103 5 217 25-503 25 312 5-26 5 161 5-179 5 166 5-181 5 207 20-470 20 320 5-67 5 178 5-209 5 188 5-242 5 188 5-157 5 198 5-180 5 175 25-498 40 592 10-1019 25 275 5-49 5 49 5-62 5 58 5-72 5 47 5-50 5 51 5-59 5 53 5-62 20 433 10-673 15 123 5-32 5 42 5-54 5 45 5-40 5 52 5-50 5 59 15-205 15 201 5-38 5 59 15-89 5 56 5-73 5 67 5-52 5 60 5-69 5 44 5-49 20 385 10-513 65 713 45 227 45 115 10-1226 35 555 30 302 40 248 25 103 35 69 15-1051 20 172 5-49 5 59 5-59 5 51 5-44 5 55 5-41 5 65 5-52 5 59 5-57 15 356 5-76 5 182 5-99 5 205 5-159 5 230 5-187 5 156 5-215 5 265 5-218 5 294 5-259 5 216 5-204 5 265 5-261 5 260 5-196 5 237 5-230 15 260 5-193 5 176 5-260 5 243 5-311 5 274 5-228 5 306 5-306 5 302 5-328 5 259 5-249 5 243 5-255 5 256 5-252 15 460 5-234 5 249 5-245 5 262 5-278 5 224 5-376 5 332 5-276 5 327 5-274 5 342 5-368 5 272 5-348 5 244 5-248 5 278 5-267 5 478 5-346 5 257 5-400 5 335 5-293 5 429 5-351 5 392 5-361 5 281 5-402 5 335 5-254 5 371 5-398 5 344 5-310 5 362 5-299 5 276 5-217 5 245 5-322 5 252 5-357 5 346 5-351 5 336 5-277 5 378 5-286 5 289 5-269 5 335 5-390 5 420 5-313 5 249 5-382 5 360 5-228 5 200 5-236 5 246 20-559 20 320 5-119 5 279 5-175 5 217 5-241 5 162 25-436 25 400 5-122 5 190 5-256 5 201 5-120 5 120 15-420 25 400 5-85 5 214 5-214 5 246 5-203 5 178 5-185 5 143 5-162 5 131 5-226 5 132 5-149 5 51 20-456 20 308 5-92 5 73 5-93 5 113 5-105 5 110 10-274 60 637 40 216 40 105 10-152 10-1161 5-12 5 45 5-30 5 42 5-58 5 56 5-77 5 65 35 138 65 590 10-984 80 891 10-863 20 220 5-61 35 255 35 426 10-906 15 225 5-27 40 347 30 440 10-887 15 164 5-19 5 54 5-15 10 29 25 163 30 326 10-693 20 180 10-54 5-225 30 749 5-459 5-81 15 60 5-39 25 906 5-238 5 223 5-227 5 247 5-255 5 266 15-419 5 373 5-282 5 277 5-236 5 311 5-367 5 267 5-264 5 356 5-276 5 304 5-258 5 193 5-244 5 209 5-342 5 290 5-285 5 273 5-259 5 260 5-183 5 358 5-373 5 355 5-353 5 232 5-219 5 374 5-334 5 293 5-227 5 304 5-272 5 265 5-267 5 246 5-234 5 206 5-302 15-170 20 320 5-128 5 197 5-247 5 206 5-215 5 197 5-202 5 219 15-381 25 356 5-145 5 200 5-143 5 138 5-188 5 181 20-425 30 407 15-214 5 166 25-544 35 517 5-136 5 198 25-453 25 400 5-115 5 122 5-159 5 96 5-153 5 96 15-420 25 368 5-129 5 123 5-138 5 93 5-120 5 116 5-108 5 81 10-246 65 673 30 203 35 153 60 146 80 90 135 74 200 64 10-5 230 60 30-3 300 52 30-5 25 12 15-8 40 13 95-2 60 19 25-8 90 14 15-10 15 10 85 0" stroke="#355E3B" stroke-width="20"/>
<path d="M12210 1722l5 420 5-399 5 331 5-221 5 418 5-371 5 300 5-342 5 403 5-331 5 340 5-211 5 220 5-326 5 279 5-317 5 241 5-291 5 245 20-500 20 320 5-136 5 173 5-174 5 167 5-246 5 196 5-151 5 147 10-280 5-8 5 80 5-30 5 185 5-194 5 240 5-161 5 180 5-224 5 199 5-206 5 158 15-420 25 400 5-30 5 190 5-103 5 217 5-226 5 143 15-420 5-8 20 320 5-27 5 162 5-180 5 167 5-182 5 208 20-470 20 320 5-67 5 177 5-208 5 188 5-242 5 188 5-157 5 198 5-181 5 176 5-149 5 71 15-420 40 615 10-1141 15 289 10 85 5-49 5 49 5-62 5 58 5-73 5 48 5-51 5 52 5-60 5 54 5-62 5 51 15 444 5 351 5-890 5-217 10 101 10 53 5-54 5 44 5-39 5 52 5-50 5 59 15-205 15 201 5-38 5 59 5-57 5 25 5-57 5 56 5-73 5 67 5-52 5 60 5-69 5 44 5-49 5 57 5-55 10 455 5-45 5-707 15 372 50 451 5 5 20 109 20 80 15 32 5 29 10-10 5 30 10 17 10-1045 25 346 20 195 25 176 40 182 25 77 5-1 5 10 5-3 15 35 10-981 15 211 10 77 5-50 5 60 5-59 5 51 5-44 5 55 5-41 5 65 5-52 5 59 5-57 10 139 5 217 5-77 5 183 5-99 5 204 5-158 5 230 5-187 5 156 5-215 5 265 5-218 5 294 5-259 5 216 5-204 5 265 5-261 5 259 5-195 5 237 5-230 5 194 5-117 5 183 5-193 5 175 5-259 5 243 5-311 5 274 5-228 5 306 5-306 5 302 5-329 5 260 5-249 5 243 5-255 5 256 5-252 5 317 5-181 5 324 5-234 5 248 5-244 5 262 5-278 5 224 5-376 5 332 5-276 5 327 5-275 5 343 5-368 5 272 5-348 5 244 5-248 5 277 5-267 5 479 5-346 5 257 5-400 5 335 5-293 5 429 5-351 5 392 5-361 5 281 5-402 5 334 5-253 5 371 5-398 5 344 5-310 5 362 5-299 5 276 5-217 5 245 5-322 5 252 5-357 5 346 5-351 5 336 5-277 5 378 5-286 5 288 5-268 5 335 5-390 5 419 5-312 5 249 5-382 5 360 5-228 5 200 5-236 5 246 5-315 5 36 10-280 20 320 5-120 5 280 5-175 5 217 5-241 5 161 5-187 5 84 15-332 25 400 5-122 5 190 5-256 5 201 5-120 5 120 15-420 25 400 5-85 5 214 5-214 5 245 5-202 5 178 5-185 5 143 5-162 5 131 5-226 5 132 5-149 5 51 20-456 40 600 20-560 50 842 15 27 5-171 5-1098 5-23 5 15 5-5 10 2 5-9 5 9 5-3 5 21 5-47 5 28 15-3 10 7 5 100 5-59 5 70 5-55 5 42 5-58 5 56 5-77 5 58 25 147 20 178 55 736 10-1265 10 116 5 8 5 66 5 8 20 201 40 746 10-1242 15 237 5 1 5 78 5-12 10 79 15 182 35 613 5-126 5-938 15 126 5-28 35 396 35 666 10-1174 15 174 5-17 5 54 5-13 15 124 30 407 15 282 5 12 5-961 5-108 20 247 5-56 5 2 5-225 30 760 5-103 5-480 15 90 5-37 5 238 5 23 5 357 5-10 5 298 5-238 5 223 5-227 5 247 5-255 5 266 5-334 5 232 5-317 5 373 5-283 5 278 5-236 5 311 5-367 5 266 5-263 5 356 5-276 5 304 5-258 5 193 5-244 5 209 5-342 5 290 5-286 5 274 5-259 5 260 5-183 5 358 5-373 5 355 5-353 5 232 5-219 5 374 5-334 5 293 5-227 5 304 5-272 5 265 5-267 5 246 5-234 5 206 5-302 5 22 10-192 20 320 5-128 5 197 5-247 5 206 5-215 5 197 5-202 5 219 5-214 5-27 5-140 15 196 5-10 5 170 5-145 5 200 5-143 5 138 5-188 5 181 5-221 5-12 10-192 20 320 5-37 5 124 5-163 5 120 5-172 5 167 25-544 25 400 5-21 5 138 5-136 5 198 5-181 5 16 10-280 5-8 25 400 5-115 5 122 5-159 5 96 5-153 5 96 15-420 25 368 5-129 5 123 5-138 5 93 5-120 5 115 5-108 5 82 10-246 10 160 5-56 30 359 30 271 30 180 20 86 30 98 45 98 30 40 25 28 20 15 5 10 45 25 10 14 5-3 15 5 15 8 10 13 10-4 25 18 10 0 10 7 10-2 25 13 30 6 20 11 15 1 40 17 5-2 20 5 15 10 10-6 10 8 5-4 30 15 5-3 25 8 10-2 5 7 10-2 5 8 20-2 30 11 15-2 30 13 20-1 10 7 30-3 15 9 30 1 10 6 15-1 10 5 15-3 40 11 10-3 15 8 10-6 15 7 20 0 15 7 10-5 10 8 10-5 10 7 5-6 15 7 10-3 10 8 30-5 25 12 15-8 40 13 10-6 45 10 10-5 10 6 20-6 30 11 10-4 20 11 10-5 10 2 5-5 10 5 10-3 5 4 15-3 15 8 40 4 10-11 15 11 45-5 10 8 20-1" stroke="#00A36C" stroke-width="20"/>
<path d="M12210 1678l5 420 5-398 15 528 5-371 5 300 5-342 5 402 5-331 5 340 5-211 5 220 5-325 5 279 5-317 5 240 5-291 5 245 20-500 20 320 5-135 5 172 5-174 5 167 5-246 5 197 5-151 5 146 15-288 15 235 5-194 5 241 5-162 5 181 5-225 5 199 5-206 5 158 15-420 35 560 5-102 5 217 25-504 25 312 5-26 5 162 5-180 5 167 5-182 5 207 20-470 20 320 5-67 5 178 5-209 5 188 5-242 5 188 5-157 5 198 5-180 5 175 25-498 45 590 10-985 20 235 5-41 5 50 5-63 5 58 5-72 5 47 5-50 5 51 5-59 5 53 5-62 25 487 5-711 5-16 20 133 5-54 5 45 5-40 5 52 5-49 5 59 15-206 15 201 5-38 5 60 15-89 5 55 5-72 5 66 5-52 5 60 5-69 5 44 5-49 5 57 5-55 15 352 5-617 25 450 40 431 45 252 45 128 15-1238 30 512 30 310 40 253 25 105 35 72 10-1249 25 336 5-49 5 59 5-59 5 51 5-44 5 55 5-41 5 65 5-52 5 60 5-58 15 356 5-76 5 182 5-99 5 205 5-159 5 230 5-187 5 156 5-215 5 265 5-218 5 294 5-259 5 216 5-203 5 265 5-262 5 260 5-196 5 237 5-230 15 260 5-192 5 175 5-259 5 242 5-311 5 274 5-227 5 306 5-306 5 302 5-329 5 259 5-249 5 243 5-255 5 256 5-252 15 460 5-234 5 249 5-245 5 262 5-277 5 223 5-376 5 332 5-276 5 327 5-274 5 343 5-369 5 272 5-348 5 244 5-247 5 277 5-267 5 478 5-346 5 258 5-401 5 335 5-292 5 428 5-351 5 392 5-361 5 281 5-402 5 335 5-254 5 371 5-398 5 344 5-310 5 363 5-300 5 277 5-218 5 245 5-322 5 252 5-357 5 347 5-352 5 336 5-276 5 378 5-287 5 289 5-269 5 335 5-390 5 420 5-313 5 249 5-381 5 360 5-229 5 200 5-236 5 246 20-559 20 320 5-119 5 279 5-175 5 217 5-240 5 161 25-436 25 400 5-121 5 189 5-256 5 201 5-120 5 120 15-420 25 400 5-85 5 215 5-214 5 245 5-203 5 179 5-186 5 143 5-162 5 131 5-226 5 132 5-149 5 51 20-456 20 308 5-92 5 74 5-94 5 113 5-105 5 111 10-275 60 608 40 178 40 86 15-1240 5 42 5-41 5 63 5-48 5 43 5-58 5 55 5-77 30 140 75 556 10-908 20 256 30 196 35 479 10-840 15 146 5-29 5 78 5-19 5 10 15 98 45 498 10-847 50 419 35 418 10-862 25 279 5-49 15 77 30 233 25 330 10-747 15 129 10-37 5-225 30 634 5-399 5-26 5 56 5-31 5 35 5-38 25 906 5-239 5 223 5-227 5 248 5-255 5 266 15-420 5 373 5-282 5 277 5-236 5 311 5-366 5 266 5-264 5 356 5-276 5 304 5-257 5 192 5-244 5 209 5-342 5 290 5-285 5 273 5-259 5 260 5-183 5 358 5-373 5 355 5-352 5 231 5-219 5 374 5-333 5 292 5-227 5 305 5-273 5 266 5-268 5 246 5-234 5 206 5-302 15-170 20 320 5-128 5 197 5-247 5 206 5-215 5 197 5-201 5 218 15-381 25 356 5-144 5 199 5-143 5 138 5-188 5 182 20-426 30 407 15-214 5 167 25-545 35 518 5-137 5 198 25-453 25 400 5-114 5 122 5-160 5 97 5-154 5 96 15-420 25 368 5-129 5 123 5-138 5 93 5-120 5 116 5-108 5 81 10-246 70 738 50 296 30 105 45 103 80 96 55 40 100 45 180 61 10-5 230 63 30-2 300 54 30-5 25 12 15-8 40 13 95 0 60 18 25-8 90 15 15-10 15 10 80 2" stroke="#90EE90" stroke-width="20"/>
<path d="M12210 1669l5 421 5-399 15 528 5-371 5 300 5-342 5 402 5-330 5 339 5-210 5 220 5-326 5 279 5-317 5 241 5-291 5 245 20-500 20 320 5-136 5 172 5-173 5 166 5-245 5 196 5-151 5 147 15-288 15 235 5-195 5 241 5-161 5 180 5-225 5 200 5-206 5 158 15-420 35 560 5-103 5 217 25-503 25 312 5-27 5 162 5-180 5 167 5-182 5 208 20-470 20 320 5-67 5 177 5-209 5 189 5-242 5 188 5-157 5 197 5-180 5 176 25-498 45 610 10-1036 20 273 5-48 5 49 5-62 5 58 5-73 5 48 5-51 5 52 5-60 5 54 5-62 25 552 10-736 20 77 5-54 5 44 5-39 5 51 5-49 5 59 15-205 15 201 5-39 5 60 15-89 5 56 5-73 5 67 5-53 5 60 5-68 5 44 5-49 5 57 5-56 15 553 10-725 10 251 40 413 45 242 20 74 10-5 25 76 10-1144 35 506 40 359 50 245 40 79 15-984 20 157 5-49 5 59 5-58 5 51 5-45 5 55 5-40 5 65 5-53 5 60 5-57 15 356 5-77 5 183 5-99 5 204 5-158 5 230 5-187 5 156 5-215 5 264 5-218 5 295 5-260 5 217 5-204 5 265 5-261 5 259 5-195 5 236 5-230 15 260 5-192 5 175 5-259 5 242 5-310 5 274 5-228 5 306 5-306 5 302 5-329 5 260 5-249 5 243 5-255 5 255 5-251 15 460 5-235 5 249 5-244 5 262 5-278 5 224 5-376 5 331 5-275 5 327 5-275 5 343 5-368 5 272 5-348 5 244 5-248 5 277 5-267 5 479 5-346 5 257 5-400 5 335 5-293 5 429 5-351 5 391 5-360 5 281 5-403 5 335 5-253 5 371 5-398 5 343 5-309 5 362 5-299 5 276 5-217 5 244 5-322 5 253 5-358 5 347 5-351 5 336 5-277 5 378 5-286 5 288 5-268 5 335 5-390 5 419 5-313 5 250 5-382 5 360 5-228 5 199 5-236 5 246 20-558 20 320 5-120 5 280 5-175 5 217 5-241 5 161 25-435 25 400 5-122 5 190 5-257 5 201 5-119 5 120 15-420 25 400 5-85 5 214 5-214 5 245 5-202 5 178 5-185 5 143 5-163 5 131 5-225 5 131 5-149 5 51 20-455 20 307 5-91 5 73 5-93 5 113 5-105 5 110 10-274 75 713 30 131 40 99 20-1310 15 57 5-58 5 55 5-76 5 64 30 93 70 569 10-839 40 256 45 585 10-960 15 225 40 269 35 453 10-837 15 147 5-56 40 257 35 459 10-858 20 240 5-18 5 17 25 170 35 511 10-917 20 228 10-54 5-225 30 681 10-473 15 61 5-39 25 906 5-238 5 223 5-227 5 247 5-255 5 266 15-419 5 373 5-283 5 277 5-235 5 311 5-367 5 266 5-263 5 356 5-277 5 304 5-257 5 192 5-243 5 209 5-342 5 289 5-285 5 274 5-259 5 260 5-183 5 358 5-373 5 355 5-353 5 232 5-219 5 374 5-334 5 293 5-227 5 304 5-272 5 265 5-267 5 245 5-233 5 206 5-302 15-170 20 320 5-128 5 197 5-247 5 206 5-215 5 197 5-202 5 219 15-381 25 356 5-145 5 200 5-143 5 138 5-188 5 181 20-425 30 407 15-215 5 167 25-544 35 517 5-137 5 199 25-453 25 400 5-115 5 122 5-159 5 96 5-153 5 96 15-420 25 368 5-129 5 123 5-138 5 93 5-120 5 115 5-108 5 82 10-246 75 783 50 280 60 172 80 107 55 43 100 48 180 63 10-5 230 65 30-3 300 56 30-5 25 12 15-8 40 14 95-1 60 19 25-8 90 15 15-10 15 10 90 2" stroke="#32CD32" stroke-width="20"/>
<path d="M12210 1674l5 421 5-399 15 528 5-371 5 300 5-342 5 402 5-330 5 339 5-210 5 220 5-326 5 279 5-317 5 241 5-291 5 245 20-500 20 320 5-136 5 172 5-173 5 166 5-245 5 196 5-151 5 147 15-288 15 235 5-195 5 241 5-162 5 181 5-225 5 200 5-206 5 158 15-420 35 560 5-103 5 217 25-503 25 312 5-27 5 162 5-180 5 167 5-182 5 208 20-470 20 320 5-67 5 177 5-209 5 189 5-242 5 188 5-157 5 197 5-180 5 176 25-498 45 611 10-1014 20 250 5-48 5 49 5-62 5 58 5-73 5 47 5-50 5 52 5-60 5 54 5-62 25 435 10-641 20 99 5-55 5 45 5-39 5 51 5-49 5 59 15-205 15 201 5-39 5 60 15-89 5 56 5-73 5 67 5-53 5 60 5-68 5 44 5-49 5 57 5-56 15 559 10-768 20 326 40 199 5-7 20 69 15-428 15 450 10 67 10-19 15 35 15-650 25 300 30 142 30 75 15-450 20 544 15-5 25 29 10-532 25 161 5-49 5 59 5-58 5 51 5-45 5 55 5-40 5 65 5-53 5 60 5-57 15 356 5-77 5 182 5-98 5 204 5-158 5 229 5-186 5 156 5-215 5 264 5-218 5 294 5-259 5 216 5-203 5 265 5-261 5 259 5-196 5 237 5-230 15 260 5-192 5 175 5-259 5 242 5-310 5 274 5-228 5 306 5-306 5 302 5-329 5 260 5-249 5 243 5-255 5 255 5-251 15 460 5-235 5 249 5-244 5 262 5-278 5 224 5-376 5 331 5-276 5 328 5-275 5 343 5-368 5 272 5-348 5 244 5-248 5 277 5-267 5 478 5-345 5 257 5-400 5 335 5-293 5 429 5-351 5 391 5-360 5 281 5-403 5 335 5-253 5 371 5-398 5 343 5-309 5 362 5-299 5 276 5-217 5 244 5-322 5 253 5-358 5 347 5-351 5 335 5-276 5 378 5-286 5 288 5-268 5 335 5-390 5 419 5-313 5 250 5-382 5 360 5-228 5 199 5-236 5 246 20-558 20 320 5-120 5 280 5-175 5 217 5-241 5 161 25-435 25 400 5-122 5 190 5-257 5 201 5-119 5 120 15-420 25 400 5-85 5 214 5-214 5 245 5-202 5 178 5-186 5 144 5-163 5 131 5-225 5 131 5-149 5 51 20-455 20 307 5-91 5 73 5-93 5 113 5-105 5 110 10-274 60 583 40 181 40 87 15-1159 10-59 5 58 5-43 5 42 5-58 5 55 5-10 10 15 25 95 65 485 10-779 45 296 40 494 10-817 20 202 5-62 5 78 5-20 15 90 45 481 10-851 15 185 50 302 30 332 10-856 20 331 5-17 10 31 25 187 30 377 10-781 20 194 10-54 5-225 30 739 10-531 15 61 5-39 25 906 5-239 5 224 5-227 5 247 5-255 5 266 15-419 5 373 5-283 5 277 5-236 5 312 5-367 5 266 5-264 5 356 5-276 5 304 5-257 5 192 5-243 5 209 5-342 5 289 5-285 5 273 5-258 5 260 5-183 5 358 5-373 5 355 5-353 5 231 5-218 5 374 5-334 5 293 5-227 5 304 5-273 5 266 5-267 5 245 5-233 5 206 5-302 15-170 20 320 5-128 5 197 5-247 5 206 5-215 5 197 5-202 5 218 15-380 25 356 5-145 5 199 5-143 5 139 5-189 5 182 20-425 30 407 15-215 5 167 25-544 35 517 5-137 5 199 25-453 25 400 5-115 5 122 5-159 5 96 5-153 5 96 15-420 25 368 5-129 5 123 5-138 5 93 5-120 5 115 5-108 5 82 10-246 65 652 35 232 65 236 35 74 70 85 55 42 100 47 180 60 10-5 230 62 30-3 300 52 30-5 25 13 15-8 40 12 95 0 60 18 25-8 90 14 15-10 15 10 85 0" stroke="#8A9A5B" stroke-width="20"/>
<path d="M12210 1681l5 421 5-399 5 331 5-221 5 418 5-371 5 300 5-342 5 402 5-331 5 340 5-210 5 220 5-326 5 279 5-317 5 241 5-291 5 245 20-500 20 320 5-136 5 172 5-173 5 166 5-245 5 196 5-151 5 147 10-280 5-8 5 80 5-30 5 185 5-195 5 241 5-162 5 181 5-225 5 199 5-205 5 158 15-420 25 400 5-30 5 190 5-103 5 217 5-226 5 143 15-420 5-8 20 320 5-27 5 162 5-180 5 167 5-182 5 208 20-470 20 320 5-67 5 177 5-209 5 189 5-242 5 188 5-157 5 197 5-180 5 175 5-149 5 72 15-420 35 560 10 54 10-1119 20 352 5-48 5 49 5-62 5 58 5-73 5 47 5-50 5 52 5-60 5 54 5-62 20 439 10-648 15 98 5-38 5 42 5-55 5 45 5-39 5 51 5-49 5 59 15-205 15 201 5-39 5 60 5-57 5 25 5-57 5 56 5-73 5 66 5-52 5 60 5-68 5 44 5-49 5 57 5-56 15 556 5-631 5-59 20 297 40 421 45 247 15 43 5 32 5-6 5 2 5 32 15 33 10-1140 35 455 40 318 25 124 25 93 10 14 5 0 20 48 5-95 5-805 5-149 20 267 5-49 5 59 5-58 5 51 5-45 5 55 5-40 5 65 5-53 5 60 5-57 10 138 5 218 5-77 5 182 5-98 5 204 5-158 5 229 5-186 5 156 5-215 5 264 5-218 5 294 5-259 5 216 5-203 5 265 5-261 5 259 5-196 5 237 5-230 5 195 5-117 5 182 5-192 5 175 5-259 5 242 5-310 5 274 5-228 5 306 5-306 5 302 5-329 5 260 5-249 5 242 5-254 5 255 5-251 5 317 5-181 5 324 5-235 5 249 5-244 5 262 5-278 5 223 5-375 5 331 5-276 5 328 5-275 5 343 5-368 5 272 5-348 5 244 5-248 5 277 5-267 5 478 5-345 5 257 5-400 5 335 5-293 5 429 5-351 5 391 5-360 5 280 5-402 5 335 5-253 5 371 5-398 5 343 5-309 5 362 5-299 5 276 5-217 5 244 5-322 5 252 5-357 5 347 5-351 5 335 5-276 5 378 5-286 5 288 5-268 5 335 5-390 5 419 5-313 5 250 5-382 5 360 5-228 5 199 5-236 5 246 5-314 5 36 10-280 20 320 5-120 5 280 5-175 5 217 5-241 5 161 5-187 5 84 15-332 25 400 5-122 5 190 5-257 5 201 5-119 5 120 15-420 25 400 5-85 5 214 5-214 5 245 5-202 5 178 5-186 5 144 5-163 5 131 5-225 5 131 5-149 5 51 20-455 20 307 5-91 5 73 5-93 5 113 5-105 5 110 10-274 10 160 5 8 40 379 25 137 15 55 5 1 5 29 10 23 20 39 5-3 5 23 10-1219 5 17 5-16 5 50 5-35 5 42 5-58 5 55 5-76 5 69 15 42 20 102 40 317 20 203 5-29 5-744 5-102 10 121 5-1 5 65 10 30 15 111 40 507 10-886 15 201 5-11 35 242 35 401 10-739 15 129 5-59 5 59 10 36 15 106 15 137 30 397 10-858 20 221 5-48 20 103 20 143 25 267 5-23 5-553 5-26 15 119 5-47 5 2 5-225 10 300 25 390 10-457 5 0 5 36 5-39 5 237 5 23 5 357 5-10 5 299 5-239 5 224 5-227 5 247 5-255 5 266 5-334 5 231 5-316 5 372 5-282 5 277 5-236 5 312 5-367 5 266 5-264 5 356 5-276 5 304 5-257 5 192 5-243 5 209 5-342 5 289 5-285 5 273 5-258 5 260 5-183 5 358 5-373 5 354 5-352 5 231 5-218 5 374 5-334 5 293 5-227 5 304 5-273 5 266 5-267 5 245 5-233 5 206 5-302 5 22 10-192 20 320 5-128 5 197 5-248 5 207 5-215 5 197 5-202 5 218 5-214 5-26 5-140 15 196 5-10 5 170 5-145 5 199 5-143 5 139 5-189 5 182 5-222 5-11 10-192 20 320 5-38 5 125 5-163 5 119 5-171 5 167 25-544 25 400 5-21 5 138 5-137 5 199 5-181 5 16 10-280 5-8 25 400 5-115 5 122 5-159 5 96 5-153 5 96 15-420 25 368 5-129 5 123 5-138 5 93 5-120 5 115 5-108 5 82 10-246 10 160 5-57 50 567 30 204 35 153 35 97 15 24 10 27 30 41 25 27 20 15 5 9 45 25 10 13 5-3 15 5 15 8 10 13 10-4 25 17 10 0 10 7 10-2 25 13 30 6 20 11 15 1 40 17 5-3 20 5 15 10 10-5 10 8 5-4 30 14 5-3 25 8 10-1 5 6 10-1 5 8 20-3 30 11 15-2 30 13 20-1 10 8 30-4 15 9 30 1 10 6 15-1 10 5 15-3 40 11 10-3 15 8 10-6 15 7 20 0 15 7 10-5 10 8 10-5 10 7 5-6 15 7 10-3 10 8 30-5 25 12 15-8 40 13 10-6 45 10 10-5 10 6 20-6 30 11 10-4 20 11 10-5 10 2 5-5 10 5 10-4 5 5 15-3 10 7 40 5 5 0 10-11 15 11 45-5 10 7 30-3" stroke="#98FB98" stroke-width="20"/>
<path d="M12210 1682l5 420 5-399 5 331 5-221 5 418 5-371 5 300 5-342 5 403 5-331 5 340 5-211 5 220 5-326 5 279 5-317 5 241 5-291 5 245 20-500 20 320 5-136 5 173 5-174 5 167 5-246 5 196 5-151 5 147 10-280 5-8 5 80 5-30 5 185 5-194 5 240 5-161 5 180 5-224 5 199 5-206 5 158 15-420 25 400 5-30 5 190 5-103 5 217 5-226 5 143 15-420 5-8 20 320 5-27 5 162 5-180 5 167 5-182 5 208 20-470 20 320 5-67 5 177 5-208 5 188 5-242 5 188 5-157 5 198 5-181 5 176 5-149 5 71 15-420 35 559 10 74 10-1110 20 325 5-49 5 49 5-62 5 58 5-73 5 48 5-51 5 52 5-60 5 54 5-62 20 457 5 6 5-763 15 154 5-3 5 42 5-54 5 44 5-39 5 52 5-50 5 59 15-205 15 201 5-38 5 59 5-57 5 25 5-57 5 56 5-73 5 67 5-52 5 60 5-69 5 44 5-49 5 57 5 0 10 325 5-65 5-562 20 368 40 462 45 272 15 48 5 34 5-5 5 3 5 34 15 36 5-181 5-977 5-115 30 528 40 372 25 144 25 109 15 20 15 46 10 16 10-1209 15 244 10 95 5-50 5 60 5-59 5 51 5-44 5 55 5-41 5 65 5-52 5 59 5-57 10 139 5 217 5-77 5 183 5-99 5 204 5-158 5 230 5-187 5 156 5-215 5 265 5-218 5 294 5-259 5 216 5-204 5 265 5-261 5 259 5-195 5 237 5-230 5 194 5-117 5 183 5-193 5 175 5-259 5 243 5-311 5 274 5-228 5 306 5-306 5 302 5-329 5 260 5-249 5 243 5-255 5 256 5-252 5 317 5-181 5 324 5-234 5 248 5-244 5 262 5-278 5 224 5-376 5 332 5-276 5 327 5-275 5 343 5-368 5 272 5-348 5 244 5-248 5 277 5-267 5 479 5-346 5 257 5-400 5 335 5-293 5 429 5-351 5 392 5-361 5 281 5-402 5 334 5-253 5 371 5-398 5 344 5-310 5 362 5-299 5 276 5-217 5 245 5-322 5 252 5-357 5 346 5-351 5 336 5-277 5 378 5-286 5 288 5-268 5 335 5-390 5 419 5-312 5 249 5-382 5 360 5-228 5 200 5-236 5 246 5-315 5 36 10-280 20 320 5-120 5 280 5-175 5 217 5-241 5 161 5-187 5 84 15-332 25 400 5-122 5 190 5-256 5 201 5-120 5 120 15-420 25 400 5-85 5 214 5-214 5 245 5-202 5 178 5-185 5 143 5-162 5 131 5-226 5 132 5-149 5 51 20-456 20 307 5-91 5 73 5-93 5 113 5-105 5 110 10-274 10 160 5 8 40 425 25 157 15 63 5 4 15 58 20 46 5-2 5 24 10-1319 5 19 5-10 5 47 5-32 5 42 5-58 5 56 5-12 10 16 25 111 40 313 25 252 10-992 15 213 5 0 5 72 5 9 15 101 40 492 5 20 5-783 5-94 15 234 5-34 5 59 10 27 20 156 35 434 5-174 5-779 15 242 5 9 5 70 15 70 15 113 35 429 5-178 5-790 25 385 5-25 5 10 25 157 35 433 5-168 5-735 20 300 5-38 5 2 5-225 15 422 15 254 10-494 15 87 5-39 5 238 5 23 5 357 5-10 5 298 5-238 5 223 5-227 5 247 5-255 5 266 5-334 5 232 5-317 5 373 5-283 5 278 5-236 5 311 5-367 5 266 5-263 5 356 5-276 5 304 5-258 5 193 5-244 5 209 5-342 5 290 5-286 5 274 5-259 5 260 5-183 5 358 5-373 5 355 5-353 5 232 5-219 5 374 5-334 5 293 5-227 5 304 5-272 5 265 5-267 5 246 5-234 5 206 5-302 5 22 10-192 20 320 5-128 5 197 5-247 5 206 5-215 5 197 5-202 5 219 5-214 5-27 5-140 15 196 5-10 5 170 5-145 5 200 5-143 5 138 5-188 5 181 5-221 5-12 10-192 20 320 5-37 5 124 5-163 5 120 5-172 5 167 25-544 25 400 5-21 5 138 5-136 5 198 5-181 5 16 10-280 5-8 25 400 5-115 5 122 5-159 5 96 5-153 5 96 15-420 25 368 5-129 5 123 5-138 5 93 5-120 5 115 5-108 5 82 10-246 10 160 5-56 5 50 45 531 30 214 30 141 35 109 25 57 30 46 50 57 45 28 10 13 5-2 15 5 15 9 10 13 10-4 25 19 10-1 10 8 10-2 25 14 30 6 20 11 15 1 40 18 5-3 20 6 15 10 10-5 10 8 5-4 30 15 20-1 10 6 10-1 5 6 10-1 5 8 20-2 30 11 15-2 30 13 20 0 10 7 30-3 15 9 30 1 10 7 15-2 10 5 15-2 40 11 10-3 15 8 10-5 15 7 20-1 15 8 10-5 10 8 10-5 10 6 5-5 15 7 10-3 10 8 30-5 25 13 15-8 40 13 10-6 45 10 10-5 10 6 20-6 30 11 10-4 20 12 10-5 10 2 5-5 10 4 10-3 5 5 15-3 10 7 40 5 5 0 10-11 15 11 45-5 10 8 35-1" stroke="#93C572" stroke-width="20"/>
</g>
<g clip-path="url(#c21)" fill="none" stroke-linejoin="round" stroke-linecap="butt">
<path d="M12210 5086l15 5 15-5 10 7 10-2 15 12 5-1 10-10 15-4 20-40 20-20 20 31 5-4 5 2 10-5 20-56 15-14 30 34 10-12 25-70 10-15 10 14 15 197 10-163 5-22 10-13 20 0 10 30 20 27 20-28 10-10 5 6 5-6 10 10 15 32 15 7 20-53 10-14 10 20 20 124 25 221 5-617 5-21 25 88 10-5 10 13 10-6 10 13 5 22 20 393 5-593 5-63 25 95 20 0 10 16 20-10 15 8 15 0 15 14 25-3 5-6 5 8 20 151 5-290 5-37 10 165 10 81 30 156 25 104 35 109 5-2 5 19 10 7 5 22 20 34 5-693 5-18 10 59 5 84 15 116 40 250 40 164 30 82 20 42 5-720 5-10 20 61 15 3 5 6 5-3 5 8 5-5 30 33 45 180 15-60 20 631 10-350 10-107 35 47 25 12 5-4 35 41 35 20 15-2 15 19 65 24 5 8 10-1 15 14 5-3 10 4 15 15 15-14 45 27 10 2 5-4 5 9 10 2 10-7 25 20 10 1 5-6 15 16 10 0 5-5 10-21 15-63 10-21 10 0 15 25 10 0 15-19 10-35 10-6 5 10 5-4 20 46 25-18 5-10 10 1 20 50 25 90 10 15 10-17 5-23 20-142 10-34 10-24 10-6 20 3 15-17 30 297 30 223 40 206 30 88 5-1103 5-95 25 209 15 0 5-134 25 32 30 131 25 254 20 340 5-914 5-53 20 89 5 8 5 0 15 29 20 115 15 170 20 390 5-789 5-4 35 69 20 103 20 249 15 322 5-749 5-71 10 39 5 53 15 29 15 48 10 79 20 275 15 363 5-865 5 0 10 27 5 29 5-2 20 45 10 52 20 196 20 378 5-728 5-24 20 71 10 17 10 0 25 47 15 59 10 73 10-198 5 5 5 19 20 902 5-355 5-125 10-38 15 59 20 27 25 49 10 11 15 1 15 29 15 11 15 26 5 5 10-2 15 28 10-1 30 31 45-109 10-2 10 6 10 23 10 8 25-38 10-24 10-5 20 31 10 4 30-70 10-14 5 0 15 31 15 12 40-86 5 8 5-3 15 35 10 11 10-8 15-40 5-4 5 4 5-5 5 3 15 503 10-371 10-145 5-7 15-2 15-11 30 30 10-15 30-5 55 533 35 231 30 145 50 174 25 62 40 78 65 90 85 69 20 8 20 16 30 5 10 13 60 24 10-2 10 8 5-4 15 12 10-4 20 13 25 1 20 11 15-2 35 12 10-1 10 7 10-2 15 5 10-4 15 9 15-2 10 6 10-6 10 7 55 10 15 8 10-5 20 5 10-5 10 7 30-2 40 11 15-3 30 8 10-4 25 5 10-4 10 8 5-3 10 6 25-5 10 7 30 2 5-4 40 7 15 0 10-5 15 6 35-5 25 11 10-4 25 7 10-7 10 6 15-6 10 7 40-4 10 6 40 2 40-6 45 11 10-5 20 4 10-6 15 7 20-8" stroke="#097969" stroke-width="20"/>
<path d="M12210 4989l10-10 25 17 15-3 5-7 10 6 5 9 15 3 20-29 25-54 20 29 5-3 15 9 25-54 10-13 10-2 20 34 10-2 10-16 25-74 10-12 10 22 10 1 5-4 5 9 10-1 5-15 20 0 15 42 15 23 25-43 20 1 20 43 10 12 30-60 10-10 10 25 15 97 25 206 5-623 5-1 30 7 5 19 15-10 5 6 5-7 5 5 25 536 5-681 40 4 15 9 10-8 15 15 10-6 15 9 15-6 15 14 10 1 5 8 5-4 5 3 10 79 10 155 5-303 5-21 10 30 15 186 45 340 50 223 35 94 5-878 5-28 15 30 40 302 35 178 35 120 35 79 5-661 5-61 30 74 5-4 20 9 15-6 5 12 15 65 20 154 20 78 35 87 35 52 20 14 25 40 15-7 5 10 40 27 5-3 5 4 5-5 5 5 5-1 15 23 5-5 15 14 20 1 15 21 5-3 25 11 5-3 5 9 5-3 5 5 5-6 15 24 15-4 15 13 15-10 10 8 15 0 15 17 10 2 25-7 15 11 20 2 5 6 10 2 15-26 15-59 10-19 5-4 15 25 5-2 10 12 10-8 20-43 10-9 25 49 5-1 15-35 10 0 10 7 40 123 15 28 15-43 15-107 15-65 15-26 5-3 20 5 15-16 10-5 5 4 35 354 30 216 25 121 40 134 5-1260 5-8 20 35 15 0 5 16 5-4 25 64 10 52 25 229 25 420 5-890 5-17 20 19 5-7 15 42 15 67 20 220 20 426 5-809 5-26 20 51 5 2 15 49 10 58 15 157 25 525 5-853 5-14 25 42 5-2 15 40 15 71 20 223 15 300 5-665 5-27 15 24 10 30 5-2 5 5 20 91 20 218 15 282 5-618 5-32 25 36 20 10 10 19 15 59 15 88 10 106 5-172 5-1 10 22 25 346 5 29 10 9 15 53 20 34 5 0 20 37 15 6 15 14 15 25 30 27 5 10 5-4 5 7 5-4 15 34 10 12 10 2 25-36 15-57 10-15 10 2 20 36 10 3 10-8 30-67 10 5 20 44 5-3 30-72 10-8 10 1 15 28 10 1 10-14 15-50 10-18 10 1 20 32 10 5 10-6 25-44 15 23 5-1 15-23 5 4 10-2 15-23 30 18 10-5 10 7 15-15 10 8 10-2 30 315 30 244 30 193 30 143 50 173 60 139 55 76 60 63 100 66 10-2 10 10 10-3 10 15 10-3 10 10 25 1 45 21 15-2 10 12 15-4 25 11 10-3 20 8 25 1 10 6 20-1 20 9 15-2 10 7 25 0 30 12 25-3 20 9 10-4 15 4 10-3 10 11 10-3 5 5 15-10 25 13 20-5 5 7 10-7 20 11 10-3 40 7 10-3 10 6 40-2 35 4 5 4 30-3 10 7 50-2 20 7 10-5 30 5 35-4 45 9 15-7 30 8 25-4 10 5 5-3 10 4 45-2 5 4 10-2 5 5 10-4 25 4 10-6 10 7 15 2 15-7" stroke="#AFE1AF" stroke-width="20"/>
<path d="M12210 5074l5-7 10 2 10 18 15 7 5 1 10-20 5-1 10 10 10 1 30-25 15-47 10-3 10 10 10 23 15-4 10-11 15-46 15-16 15 25 15-2 5 6 5-1 25-84 10-14 10 15 10-4 5 22 10 2 5-7 30 0 30 55 5-3 15-39 10-2 10 2 15 28 15 16 10 4 30-60 10 12 10 34 35 243 5-582 5-11 30 24 5 13 5-5 15 11 10-3 10 123 15 358 5-639 5-8 20 17 15 2 5 6 10 0 5-6 10 4 15-3 5 10 15 3 25 18 15 3 10-6 5 14 15 153 5-229 5-56 15 65 25 203 35 182 35 129 25 64 10 10 15 34 5-663 5-42 15 42 30 271 35 215 35 143 45 118 5-736 5-34 30 62 20-6 15 18 15 10 25 170 20 89 15 52 25 52 25 43 15 11 10 25 10 7 5-4 5 7 5-2 15 19 10-3 15 6 15 30 25 1 10 10 10-2 15 15 20-3 15 19 15 3 15 12 15 0 55 32 20-6 30 21 15-13 10 17 15 7 20-6 35 18 20-26 15-55 10-20 5-6 15 28 5-3 10 7 5-1 10-11 15-49 10-11 15 38 20 19 15-27 5 4 5-5 10 5 10 40 15 32 20 81 5 3 15-54 30-170 15-21 20 5 10-20 15-3 10-8 25 251 30 213 40 187 35 106 5-1180 5-6 20 39 30 24 15 40 15 67 25 218 25 410 5-883 5-27 15 26 5 19 10 4 5 15 15 68 20 203 25 556 5-935 5-15 15 54 5 0 10 28 5 3 20 130 20 277 15 372 5-868 5-19 40 75 10 37 10 74 20 259 15 353 5-777 5-33 35 81 20 122 20 284 15 369 5-857 5-23 25 69 10-3 5 13 5-8 20 49 25 135 10-151 10 25 25 374 5 34 10 10 20 76 10 3 5 7 20 48 10 8 15 4 20 31 15 11 15 29 20 5 25 25 5 16 10 7 15-3 40-98 20 11 15 27 5 1 10-10 25-65 5 0 15 28 30 3 20-62 20-7 20 35 10 0 25-70 10-8 5 3 5-4 15 35 5 1 15-12 20-34 25 12 5-6 5 3 10-3 15-11 20-26 25 29 10-14 15-4 10 0 10 11 5-2 30 291 40 302 35 195 50 199 45 125 55 103 55 75 75 68 10 2 15 16 15-1 25 21 15 8 10 0 10 11 15 1 35 16 5-2 10 7 25 4 10 10 15-1 30 13 20 4 10-3 25 10 15-1 50 16 10-5 25 10 30 0 10 7 10-3 10 6 20-1 20 9 15-2 10 4 10-3 5 5 10-3 15 6 10-3 5 4 50 0 30 11 25-2 10 6 10-7 10 6 15-2 10 7 15-2 15 5 15-4 25 5 20-5 45 8 10-4 10 7 15-6 45 10 25-7 20 13 10-7 20-1 10 5 35-5 15 6 60-1 10 5 20-5 25 5 10-4 10 5 10-4 20 9 10-7" stroke="#E4D00A" stroke-width="20"/>
<path d="M12210 5093l15 4 5 8 10-4 5-8 15 13 5-3 15 10 10-17 10 7 10-11 30-59 10 3 15 34 10-1 15-18 25-70 5-1 10 26 20 25 25-49 20-59 20 29 5-7 5 16 10-16 30-4 20 49 15-3 25-34 10 9 15 31 10 12 10 5 15-20 15-40 10-3 10 31 10 60 25 178 5-484 5-50 30 71 5 6 15-4 10 6 10 37 20 404 5-631 5-12 20 60 5 2 25-1 5-5 15 11 25 3 30 24 10-8 10 9 10-13 5 17 15 153 10-285 15 64 35 409 30 240 35 199 25 103 20 57 5-1046 5-78 15 64 35 298 40 236 45 164 20 49 10 12 5-819 5-44 20 140 15 20 10-3 15 12 5-8 10 6 40 179 20 60 20 36 15 43 20 10 15 28 20 14 10 18 20 15 5-6 10 0 15 26 10 1 15 26 15-8 15 17 15-5 10 2 15 21 20 3 5-5 40 30 15-5 25 26 15-8 5 6 20 1 5 9 15-1 5 7 15-7 5 5 10-1 15 10 5-3 25 10 10-1 15-18 15-58 10-20 10-2 5 13 10 9 15-4 30-53 10 9 15 34 10 12 25-30 15 5 40 128 5 15 5 1 10-19 5-23 20-133 15-56 10-10 15 10 20-13 15-20 5 1 5 13 35 314 25 149 25 116 40 120 5-1032 5-80 25 95 15 1 15 18 15 44 15 68 30 272 20 331 5-918 5-3 5 16 5 50 10 19 10 8 20 85 15 126 20 311 5-615 5-28 20 49 15 13 15 30 25 165 25 432 5-698 5-60 10 40 5 58 5 1 5 9 15 53 15 110 15 205 15 314 5-763 5-66 20 102 10 26 10 8 20 96 20 207 15 286 5-620 5-102 5 6 20 110 5-11 5 3 5 16 10 8 15 30 15 53 10 65 5-127 5-31 10 28 25 323 5 31 15 21 10 44 50 85 30 28 20 29 15 9 15 22 10 0 15 30 5-10 15 21 20-11 10-19 25-77 5-2 15 11 15 34 5-1 10-10 15-42 15-23 10 9 10 22 10 5 20-12 15-54 10-6 15 22 20 15 40-82 10-2 15 35 20-10 15-20 25-13 15 9 10-3 25-27 20 3 15 14 10-1 5-12 20-2 15 16 60 474 40 212 50 195 50 132 50 93 55 75 55 46 80 56 60 20 25 14 15-1 10 14 30 8 15-2 20 10 25 3 10 7 80 12 25 10 15-4 5 6 55 9 45 0 10 6 15-1 25 9 30-3 25 7 30-1 15 5 15-5 35 11 50-2 10 7 25-4 20 9 20-6 25 7 10-7 35 10 15-2 5-5 20 9 20-5 30 9 15-8 5 4 10-2 10 8 10-6 60 6 10-8 10 10 20-5 20 6 10-5 20 5 10-4 60 9 10-4 10 5" stroke="#50C878" stroke-width="20"/>
<path d="M12210 5070l10 7 20 3 5 6 15-2 10 6 10-6 10 5 15-25 5 8 5-2 15-44 15-18 5 3 10 31 5 6 10-3 15-35 10-8 20-36 20 40 15-8 5 3 10-18 20-82 5-5 5 0 10 32 10-9 10 19 10-19 20-7 20 66 5 3 15-11 5-11 10-9 5 3 15-15 10 8 10 31 10 12 30-60 10-10 10 8 15 67 30 181 5-513 5-24 30 50 15 6 5-6 10 12 10 30 20 403 5-609 5-18 25 45 30-3 15 17 10-7 15 19 20-6 15 14 10-10 15-1 20 222 5-280 5-13 5 13 15 165 35 207 45 174 25 70 25 54 5-700 5-32 15 37 40 354 40 239 30 111 35 97 5-792 5-82 25 100 40 7 20 28 30 172 20 83 50 96 10-1 40 57 30 22 5 10 5 3 10-5 15 21 5-10 10 2 10 10 20 5 25 31 5-4 15 8 5-6 5 1 25 27 15-2 10 4 10-7 40 29 15-3 25 13 35 1 15 7 15 18 25-12 20 4 10-7 15-61 10-21 15 13 20-1 20-16 5-19 10-12 15 13 15 30 10 3 25-21 10 1 50 155 10-24 15-104 25-113 10-12 5 12 5-7 10 0 5 4 15-31 10 3 5 7 5 41 25 274 20 164 40 221 40 144 5-1229 5-10 20 31 10 2 5 10 5-3 5 3 5 20 5-4 30 125 30 317 15 262 5-847 5-46 40 82 15 69 25 277 15 311 5-773 5-18 20 60 5 9 5-5 25 98 20 199 15 268 5-608 5-59 5 10 35 109 20 136 15 217 15 340 5-811 5-39 20 78 10 14 20 51 15 100 15 175 15 284 5-638 5-65 20 83 5 6 5-1 5 14 10 7 15 37 25 166 5-194 5-26 15 38 5 121 20 258 5 19 10 9 30 88 20 33 50 46 5 12 15 11 20 31 10 11 5-2 10 7 10 17 25 14 15-43 15-21 15-46 10 1 25 36 10 5 10-37 10-18 20-5 10 17 20 5 40-70 25 35 15-3 30-87 15 2 15 35 15 6 30-52 15 23 20-11 5-15 10-8 5 3 5-14 10-4 10 5 10 18 15 7 15-7 25 5 5-5 55 495 40 248 40 179 60 186 40 84 30 51 85 100 10-1 30 28 30 13 50 33 20 10 10-3 30 17 35 8 15 14 10-5 15 3 10 6 25 3 5 6 10 0 15 9 15-1 25 9 50 5 40 13 35 5 10-3 10 7 20-4 20 7 30 0 15 8 15-4 40 9 10-2 10 5 5-4 30 7 10-5 15 8 15-5 10 6 40-2 30 8 10-4 25 10 30-8 25 11 10-5 10 4 10-4 70 8 10-4 10 5 15-4 20 7 40-3 25 7 15-6 10 5 45-1 10 4 5-4 35 0 10 4 10-4 10 6 15-4 5 4" stroke="#5F8575" stroke-width="20"/>
<path d="M12210 5137l10-6 5 5 15-11 10 12 30 1 25-11 15-19 20-52 30 46 10-2 30-74 15 2 25 32 10-7 35-102 5 1 15 31 5-8 5 16 20-20 15 0 15 31 20 24 20-23 15-27 15 40 30 30 30-72 10 12 10 51 35 241 5-552 5-6 30 27 5 12 10-13 15 16 5-2 25 484 5-648 5-8 25 28 15-2 10 10 10 0 10-7 20 11 15-3 25 25 15-12 10 6 20 196 5-307 5-16 10 51 15 199 30 239 40 173 5-635 5-151 25 196 15 0 5-7 10 2 15-20 5 4 35 353 20 128 25 94 5-599 5-126 25 156 20-4 30 16 15-10 20 0 10 15 25 18 35 179 45 133 45 65 10-2 10 23 25 11 20 18 10 21 10-5 15 11 5-2 10 9 10-8 20 24 40 11 25 30 10-4 10 9 15-7 10 3 10 12 15 1 5 10 15-7 10 12 20 0 10 11 10 0 15 17 5-8 5 3 20-4 5 4 5-4 15 16 20-12 15-29 15-57 5 1 5-12 20 31 25-20 20-42 25 45 10 7 15-14 5-14 10-6 15 27 35 110 10 13 10-13 25-156 15-62 10-8 10 13 10 2 15-27 10-5 15 19 20 209 35 259 25 125 45 140 5-1116 5-56 25 77 5-1 25 31 20 65 10 56 20 177 25 383 5-853 5-9 20 37 5-13 5 20 5-3 25 102 20 193 15 250 5-595 5-89 5 2 10 78 15 45 5-3 5 19 15 103 20 255 15 342 5-818 5-9 35 81 20 107 20 262 15 339 5-803 5-39 20 75 20 42 15 72 10 82 15 209 15 335 5-774 5-52 25 93 10-1 5 15 10 3 5 24 15 35 20 120 10-178 10 28 30 378 10 12 15 57 5 3 20 52 20 28 15 2 20 34 40 38 20 29 15 2 10 23 15 0 5 4 5-5 20-53 25-45 5-1 15 20 20 15 30-57 20 3 10 23 5 0 20-32 15-39 10-8 30 34 10 1 40-85 15 31 15 8 15-14 15-29 10-2 25 16 45-43 15 21 5-10 15 16 40-11 30 289 35 260 35 192 40 162 45 124 50 101 35 52 80 80 130 70 25 4 30 15 10-2 40 10 10 8 5-3 45 20 15 3 10-6 15 9 40 4 10 7 20-5 25 12 20-3 35 13 25-3 10 6 5-6 35 12 20-5 30 8 5-4 25 7 10-3 20 11 20-6 10 5 10-4 65 10 25-2 10 6 15 0 5-5 10 9 10-6 15 0 15 8 15-5 15 6 40-4 10 6 10-4 10 5 35 0 20 7 10-8 30-1 35 7 15-5 10 8 60-1 20 4 10-7 40 8 10-5 10 5 15-3" stroke="#4F7942" stroke-width="20"/>
<path d="M12210 5091l10-1 5 9 5-2 5 11 5-5 5 4 20-8 5 10 10 7 5-4 5 4 10-9 40-69 5-2 5 5 15 38 15-14 30-67 10-2 30 40 20-33 20-76 10 2 15 29 10-5 5 9 15-28 20 1 15 52 10 8 10-1 30-33 35 44 10-3 15-40 15-21 10 15 10 37 35 251 5-539 5-57 25 79 15 3 15 16 5-4 25 509 5-673 5-7 25 30 15 0 5-5 5 4 20-3 20 22 15-7 5 0 5 10 15-4 10 8 20-4 20 183 5-285 5-40 10 59 5 94 15 120 45 274 45 165 25 62 10 13 5-724 5-81 15 56 30 236 40 193 50 146 5 1 10 30 10 12 5-589 5-97 25 116 15-4 5-7 25 34 5-2 10 22 40 194 20 48 5 1 25 66 5 9 10-2 5 4 30 43 15 2 25 25 15 28 15-7 10 18 15-11 25 13 25 26 25 10 10-2 30 23 10 2 5-4 10 4 5 11 15-4 15 10 10 0 15 14 5-3 20 6 5 7 15-15 25 23 5 3 15-9 25 22 15-14 15-59 15-30 5-6 5 2 10 20 15 9 25-54 5-8 10-3 20 43 25-1 10-8 15-3 50 151 10-22 25-160 20-75 15 23 5 0 15-25 10 1 15-9 30 257 30 208 30 132 30 95 10 14 5-1064 5-34 20 53 5 7 10 1 10 9 20 33 20 100 10 67 20 224 20 341 5-964 5-14 15 85 20 34 20 129 20 258 15 342 5-846 5-9 20 59 5-6 30 102 20 205 15 269 5-639 5-61 20 82 15 27 15 51 10 64 15 164 20 385 5-738 5-20 20 71 5-8 30 120 20 222 15 287 5-716 5-33 20 108 10 18 15 4 10 16 15 52 20 122 5-169 5-27 10 34 30 365 15 28 30 88 10 14 15 8 15 26 5-1 30 50 5-3 5 3 15 25 15 2 10 22 10 1 25 27 25-37 20-62 10-13 40 44 5-2 15-50 15-17 10 6 5 19 10 14 5-2 25-36 15-40 10-2 15 27 10 6 25-31 15-56 5-1 10 12 10 24 15 7 25-44 10-10 15 25 15-9 5 3 10-9 15-25 5 6 5-5 5 7 5-9 15 16 20 2 10-6 15 9 10-2 30 241 40 250 35 171 40 142 65 165 40 72 50 66 70 67 15 7 25 24 15 8 10-1 10 11 120 53 10-2 15 5 50 22 10-3 15 5 10 8 5-3 15 2 120 30 10-2 20 7 10-3 15 9 25-3 20 10 10-7 15 10 50-1 10 11 5-2 10 5 10-6 45 11 15-7 10 6 20-1 25 7 25-4 15 11 120 3 20 9 20-8 10 6 10-4 10 5 5-4 25 8 15-4 50 7 10-6 30 10 10-5 5 6 40-6 25 7 10-3 55 4" stroke="#228B22" stroke-width="20"/>
<path d="M12210 5042l10 3 10-9 10 12 15-12 20 25 10-9 5-1 5 7 25-36 15-38 15-2 10 33 10 0 10-7 20-56 20-17 5 0 15 29 15 4 25-50 15-52 10 16 15 7 5 11 10-15 30 0 15 50 10 5 5-4 5 2 20-35 15-3 5 9 5-1 20 43 20-42 5 0 15-23 5 2 20 121 30 360 5-775 5-5 45 11 20 20 5 29 20 515 5-700 5-6 20 12 20 1 5 11 5-9 10-1 30 10 15-3 30 25 10-1 10-9 20 176 5-225 5-31 10 30 10 123 25 180 30 150 45 155 35 70 5-714 5-17 20 42 35 329 40 260 35 143 15 50 5 2 15 44 5-865 5-15 25 66 10-9 10 2 10-6 15 19 5 14 40 257 45 118 20 32 15 9 15 23 35 24 15 32 15-15 15 20 20 15 5-1 5 5 5-3 20 22 25 11 10-1 10-13 15 20 5-4 35 27 5-6 5 2 15 18 20-6 20 17 15-3 20 4 15 15 10-1 5-10 10 4 10 18 5-3 5 4 5-7 25 11 40-108 5-3 10 7 15 35 5-2 10-9 20-50 10-12 20 45 10 7 15-15 10-19 5-1 5 6 55 168 10-30 35-199 10-20 10 7 15 0 15-28 15-10 5 3 25 232 30 188 15 70 30 104 25 53 5 26 5-1099 5 0 20 30 10 0 5 7 5-3 20 31 5 26 10 21 20 127 10 101 30 476 5-917 5-2 20 12 15 27 10 31 15 91 15 163 20 383 5-768 5-20 10 25 5 32 15 22 20 109 15 158 20 399 5-724 5-45 20 41 5 22 15 22 20 117 10 118 25 539 5-846 5-15 20 37 10 6 15 57 15 97 20 282 10 239 5-693 5-43 15 26 5 33 10-5 20 16 20 54 20 127 5-142 5-13 10 28 30 396 35 101 65 91 5 1 10 21 15 4 10 8 15 36 5-14 10-6 5 20 5 1 5 13 5-2 10 20 15 2 5-7 35-100 10-6 10 7 5 16 10 10 10 2 10-7 20-59 10 3 20 34 10 5 25-55 10-13 10-2 15 21 15 7 5-3 20-36 5-23 20-29 20 55 10-6 20-46 5 0 5-5 15 25 5-7 5 0 5-12 20-5 20-19 15-1 5 8 5-3 20 10 30-11 5 6 55 470 30 185 40 187 50 161 50 112 25 44 50 67 30 30 90 66 15 1 30 21 40 19 45 11 40 17 15-1 10 8 30 1 10 11 20-4 15 8 25 3 5-3 10 10 20-1 30 11 20-3 10 9 20-5 25 9 25-1 10 6 10-3 20 9 25-6 10 7 15-2 10 8 15-7 5 5 10-3 15 6 10-3 10 6 55 2 20 6 10-4 5 4 10-4 25 7 25-3 30 12 10-9 10 5 20-2 10 6 15-9 45 14 10-6 20 4 15-6 10 6 10-4 10 5 10-3 15 4 5-4 10 4 10-3 10 5 10-6 15 1 15 9 35-5 20 6 30-6 10 5 10-3 10 7 15-6 10 1" stroke="#7CFC00" stroke-width="20"/>
<path d="M12210 4988l5-7 10-3 5 7 30 5 15-10 10 3 5 8 10-6 15-17 20-54 20 7 15 27 5-1 15-18 25-55 10-6 15 32 15 6 10-16 30-98 5 2 5 21 5-8 5 2 10 33 15-20 25 0 20 48 5-3 5 8 5-1 15-29 10-7 15 10 10 23 20 17 35-64 10 12 15 72 30 236 5-610 5-9 35 25 10 0 20 11 10 105 15 300 5-560 5-9 20 16 15 2 25 14 10-7 10 0 15 12 10-7 10 14 10 5 20-8 10 1 20 200 5-243 5-10 10 18 25 218 40 251 55 205 25 54 5-778 5-104 15 76 15 143 30 204 20 95 25 106 25 79 5 2 30 72 5-670 5-5 20 28 20 8 5-2 5 10 10 9 5-3 10 10 35 229 30 96 20 41 25 37 10 4 25 39 15 3 20 33 5-6 10 0 40 35 10 0 20 21 5-8 5 6 5-8 10 1 10 12 5-3 25 19 10-2 15 18 15-5 15 23 5-5 10 1 15 16 15-6 10 7 15-10 10 9 5-3 15 18 5-7 20 11 25-1 20 18 20-32 15-53 10-18 10-2 15 27 10-3 10-8 10-19 15-42 10 14 15 50 20-6 15-34 15 9 45 151 5 1 5-2 5-14 35-213 10-14 5 9 5-3 5 8 5-7 10-2 15-28 15-11 20 203 40 252 5-778 70 0 5-99 20 40 10-3 5 4 20 33 5 20 5 1 20 111 15 132 30 458 5-878 5-10 30 27 15 42 10 55 20 202 20 383 5-757 5-3 20 27 20 45 15 100 10 112 25 499 5-811 5-15 35 75 20 126 10 109 20 387 5-678 5-36 5 3 20 36 5-2 5 9 15 35 25 187 25 481 5-717 5-24 5 1 15 26 5-5 5 15 5-1 5 11 5-1 15 35 30 169 5-162 5-14 10 27 30 395 10 19 15 63 10 19 15 8 15 29 15 17 10 4 30 54 15 7 5 10 20 1 35 58 25-12 35-93 15 7 25 33 10-9 30-58 10 3 15 26 10-2 15-20 15-45 10-9 15 12 15 23 10-1 15-26 15-50 10-16 20 43 10 11 10-9 15-34 20-1 15 20 10-6 10-19 30-19 15 5 10 10 5 1 5-10 40 11 30 381 25 250 40 294 25 135 55 203 55 128 50 77 70 69 25 12 20 20 20 6 25 20 10-3 50 29 40 7 45 20 15 0 10 8 25-1 10 8 10-2 25 10 5-3 35 7 20 9 10-4 25 8 10-3 25 11 40 0 20 7 10-3 20 13 10 0 10-7 30 7 25-4 20 8 30-3 30 9 595 0" stroke="#008000" stroke-width="20"/>
<path d="M12210 5034l10 3 5-10 20 17 5-4 10 3 10 8 5-9 10 0 10 10 5-1 25-36 10-32 5-4 5 3 15 26 10-7 5 5 40-71 15 8 20 34 20-38 15-51 15-29 5-1 5 30 5 4 25-6 10-11 10 3 30 63 25-35 20-11 5 3 15 45 20-5 30-50 10 0 20 111 25 201 5-542 5-24 25 37 15 4 10 14 15 9 20 424 5-579 5-30 25 35 15-1 5-8 20 13 15-9 5 9 5-2 5 7 5-5 25 18 30-9 5 12 15 125 10-195 10 16 25 216 30 167 40 161 10 17 25 73 10 22 5 0 5-679 5-56 15 37 5 25 35 248 30 142 40 133 25 59 15 22 5-672 5-56 25 131 20 2 5 9 15 4 20 30 35 174 35 100 15 12 10 23 15 8 20 42 20 18 15-1 10 16 15 8 10-4 20 24 25 5 5 10 5-5 5 6 5-5 5 11 5-1 5 10 5-3 15 18 15-5 20 14 15 3 10 12 10-8 10 16 15 10 10-15 5-1 10 21 10 3 5-5 15 13 15-8 15 15 10-7 15 0 40 23 15-10 5-10 25-71 10-16 15 27 5-6 10 4 10-7 15-32 10-10 30 46 5-10 25-17 10-2 5 5 40 131 5 13 5-2 10-22 20-115 25-99 5-2 15 13 15-14 15-32 5 1 10 15 25 208 25 149 30 125 45 122 5-936 5-87 5 4 20 87 10-2 5 8 5 0 10 26 5-1 15 46 20 113 10 95 25 324 5-726 5-41 40 65 20 83 20 194 15 242 5-608 5-71 20 96 10 4 10 28 20 122 20 258 15 348 5-882 5-4 10 47 5 54 20 41 20 134 15 200 15 335 5-775 5-32 20 67 15 20 15 50 10 65 20 234 15 312 5-695 5-39 20 53 15 5 25 55 15 67 15 119 5-248 5-6 25 229 10 154 20 77 35 70 25 38 5 1 5 10 5-5 30 53 5-4 20 29 40 30 15 19 20-20 30-75 15-21 30 45 5-2 25-51 15-19 5 2 15 48 5-1 20-32 15-47 15-4 5 4 15 36 20-17 20-61 15-21 20 46 10 3 30-41 20 7 5-6 5 9 10-4 5-20 15 2 5-17 10-5 20 25 10-5 10 3 10-9 30 2 55 524 30 200 40 197 40 141 35 88 50 93 55 71 30 28 10 3 55 47 30 10 25 19 10 0 20 12 10 0 15 10 20 4 10 10 20 0 10 7 20 4 10-3 10 9 20 3 10 7 15-1 10 8 75 8 10 6 20 1 30 9 15-1 10 7 5-3 15 5 10-3 10 10 45-3 25 10 30-3 45 9 10-3 10 6 15-6 40 12 30 4 30-4 35 7 10-5 30 8 20-4 10 6 30-4 30 3 10 7 10-6 10 7 20-4 10 7 10-5 15 7 10-6 5 4 10-5 15 6 10-6 10 7 10-8 10 7 20-5 10 5 30 0 5 5 10-3 10 3 35-1 15-5 10 7 20-3 10 3" stroke="#355E3B" stroke-width="20"/>
<path d="M12210 5029l20 2 10 8 20-8 15 2 5-5 15 5 15-25 15-14 15-34 25 35 5 4 5-6 5 2 30-69 10 2 10 8 15 27 10 1 35-108 10-2 10 13 5-9 5 2 5 29 15-20 20 0 20 48 10 10 35-40 10-3 30 57 10-6 15-45 15-18 15 26 35 226 5-537 5-11 5 0 25 15 5 18 10 14 15-16 10 11 20 489 5-639 5-9 25 11 15 0 10-7 25 6 15 15 10-5 10 2 15 18 15-2 5 6 10-2 5-18 20 232 5-302 5-14 5 18 30 310 35 234 25 127 35 119 5 2 20 56 5-921 5-11 10 44 40 328 30 153 25 102 25 72 30 65 5-734 5-19 20 83 15 6 10-3 15 15 10-2 10 16 30 204 15 64 40 107 15 23 5-2 25 29 15 26 10-1 10 17 15-2 5 8 15 5 10 20 35 7 10 10 10 0 10 14 10 1 20 14 15 5 15-2 10 11 10-7 15 18 10 1 10 11 10-9 15 15 10-7 25 11 5 7 15 6 5-4 15 15 5-4 20 8 15-8 10 17 15-10 10 3 5-6 20-74 10-21 30 34 15-14 25-49 10 10 15 38 5 2 10-9 10 4 20-24 30 80 20 77 5 2 15-58 30-167 15-21 20-1 30-20 5 2 5 10 30 237 25 133 5-735 70 0 5-57 5 2 30 24 25 41 25 124 25 260 20 361 5-922 5-2 20 20 5-4 20 46 10 55 20 186 20 352 5-703 5-5 20 24 20 41 10 41 20 172 20 335 5-623 5-21 30 48 20 84 15 157 25 524 5-816 5-16 20 30 5 1 15 28 15 61 20 183 20 352 5-674 5-15 25 69 5-10 15 21 15 35 20 92 10 91 5-149 5-21 15 23 5 128 20 243 5 34 10 12 20 66 35 42 10 20 30 27 10 18 15 3 20 36 10 6 10-7 25 35 10-3 10-14 40-100 10 10 10 25 15 15 5-2 30-58 10-1 15 24 10 6 25-39 15-43 10-3 15 34 15 6 15-21 15-49 15-15 5 0 5 6 5 22 10 17 15-13 15-32 20-3 20 11 25-36 15 12 15-2 5 11 5-7 5 4 5-4 5 5 10-8 20-2 10 7 25 280 35 311 30 198 25 131 50 189 35 92 65 122 55 64 55 40 10 14 35 13 15 14 45 24 10-2 20 15 15-1 15 10 10-5 10 10 15 5 10-3 20 19 10-9 20 12 10-5 15 10 10-1 15 8 10-1 45 14 65 5 5 4 90 13 10 6 25-6 15 11 20-2 10 4 20-4 10 7 20-3 15 6 15-3 10 5 25 3 35-5 35 14 10-3 5 6 15-8 40 8 10-3 40 6 5-3 10 5 5-3 15 5 15-7 10 6 15-2 20 7 20-5 20 5 30-3 10 7 20-4 20 4 20-6 25 7 30-3 5 3 50 4 5-5 10 3 5-4" stroke="#00A36C" stroke-width="20"/>
<path d="M12210 5050l30-2 20 9 15-11 10 6 20-13 15-17 25-46 15 36 5 5 10-3 10-9 20-54 10-13 5-1 20 34 10 3 30-52 5-29 10-21 5 7 10-10 5 4 10 31 10-5 5-12 20 0 25 55 10 4 35-44 20 31 5-2 15 27 5 0 25-60 10-3 10 21 10 48 25 158 5-507 5-15 30 19 5 15 5 2 10-14 10 5 10 17 20 438 5-587 5-30 25 33 15 0 5-11 15 16 15-9 5 6 35 15 10 10 15-6 10 14 10-16 20 191 5-241 5-12 10 23 20 224 30 238 15 75 20 69 5-641 5-139 25 166 15 0 5-13 15 3 15-11 40 407 15 101 25 102 5-626 5-102 25 122 10 0 15 13 15-9 15 11 15-13 10 5 15 22 15-4 5 9 5-1 30 204 25 87 10 26 5-1 15 42 5-1 10 11 25 48 15 8 10 15 5-1 15 18 15-2 35 38 15-6 10 11 20 10 15 18 5-11 10 3 15 22 5 2 10-9 10 4 15 17 10 3 10 21 5 0 10-13 15 9 10-4 10 11 10-3 20 21 15-5 5 5 15-11 15 17 15-1 15 14 20-5 10 8 15-26 20-76 5-6 5 2 10 24 20 0 20-23 15-38 5 1 10 30 20 27 5 1 15-32 15 6 5-5 40 134 10 15 5-1 10-33 25-158 15-48 5-9 20 14 15-28 20 6 30 320 30 211 40 189 25 67 5-1171 5-42 25 46 10 0 5-9 15 34 5-5 20 62 30 226 30 480 5-946 5-3 10 20 10 36 5-3 10 34 20 132 15 195 20 459 5-915 5-6 40 83 20 123 20 276 15 363 5-873 5-14 15 57 20 31 15 71 20 200 15 262 5-578 5-44 5 1 20 57 10 12 20 93 15 153 25 523 5-861 5-13 20 71 5 1 10 18 15 7 20 63 25 178 5-203 5-22 30 382 5 42 10 14 10 45 15 34 30 49 5 6 5-1 15 22 10 6 15 27 5-2 10 9 5 15 15 9 10 27 15 4 15 15 15 2 5 6 20-31 25-78 10-8 25 39 25-18 15-41 5-1 5 2 10 31 10 7 10-1 35-81 15 5 15 21 10-4 5 3 10-11 20-53 10-9 15 9 15 38 35-54 10 14 10-4 10 5 25-25 10-18 25 9 10 13 20-3 5-6 15 8 5-3 5 3 35 380 30 248 25 161 35 176 35 130 30 83 35 79 20 27 10 25 25 34 75 79 10 1 75 51 15 3 45 24 20 3 20 14 40 12 10-1 10 8 25-1 10 7 10-3 15 9 40 11 15 3 10-3 15 9 10-5 15 8 20 1 25 9 15-1 10 4 10-4 45 15 10-6 10 7 35 1 35 9 40 0 10 6 10-5 20 6 10-3 20 4 5-4 25 8 25-1 20 7 30-3 10 6 25 0 5-4 15 8 30-6 35 7 15-7 10 6 10-2 20 7 30-2 15 4 10-4 15 7 50-3 10 4 25-5 20 6 40-2 10 4 10-4 20 8 10-4 5 4 10-5" stroke="#90EE90" stroke-width="20"/>
<path d="M12210 5024l25-1 10 12 15-12 10 20 10-15 15 1 20-24 10-31 15-22 15 25 20 15 15-20 15-48 20-11 20 43 10 5 20-44 20-69 20 9 10 26 10-12 30-1 15 45 20 12 15-41 15-5 15 22 5-1 15 28 5-2 15-30 20-23 10 12 5 17 35 287 5-545 5-53 25 59 10 12 20 8 5 10 10-8 20 391 5-538 5-61 25 67 20-3 5 3 5-5 10 5 10 15 20-11 20 13 10-4 15 16 15-15 20 164 10-309 15 88 5 96 15 134 35 244 50 215 25 70 5 1 10 28 5-878 5-76 35 301 40 228 45 165 45 99 5-751 5-2 20 130 5 14 10 3 10-10 10-1 20 28 45 201 40 89 10 6 35 60 5-6 10 7 5 11 15 15 10-5 5 2 15 25 35 22 10 12 15-9 10 17 10 5 10 13 10-3 5-8 10 9 5 18 10 5 5-10 20 9 10-1 15 20 10-4 5 5 15-1 10 15 15-5 15 12 20-15 15 24 10-6 15 10 15-5 5 5 30 5 5 12 10-10 25-97 10-5 20 34 20-15 30-44 35 53 15-36 10-4 15 18 40 143 10 4 35-200 10-34 10-15 15 10 15-13 5-12 10-6 10 12 5-12 25 275 25 189 45 234 30 89 5-1108 5-95 5 3 20 94 5-7 5 15 10 3 15 19 20 61 25 174 25 311 5-756 5-27 20 88 20 26 15 59 25 221 15 259 5-629 5-53 10 33 5 57 5-7 5 2 15 40 20 116 30 473 5-701 5-10 20 44 15 16 15 37 10 59 20 206 15 281 5-676 5-64 20 133 5 2 15 32 20 131 20 282 10 226 5-715 5-50 30 91 5-4 10 8 15 32 15 50 15 98 10-197 10 35 5 99 15 130 10 141 10 16 15 53 30 55 15 13 5 15 10 5 5-2 10 20 10 3 25 46 20 9 30 34 5-8 15 30 5 1 5-8 20-52 30-54 15 25 20 19 15-27 15-46 5-3 30 48 15-21 15-45 15-21 10 9 15 31 10 2 20-39 15-46 15 6 20 30 10 6 20-47 15 7 5-10 15 10 15-23 5 4 10-2 15-22 5-2 20 32 15-11 20 6 5-7 5 6 5-6 5 6 30 300 40 296 25 142 40 170 35 113 60 127 40 59 35 42 40 30 5 8 20 10 10 14 10 2 10 8 10-1 35 25 65 21 15 12 15 4 20-1 20 11 55 9 10 9 25-1 35 14 35 4 10 8 15-4 15 5 10-2 15 9 10-5 20 8 10-5 15 9 20-2 40 9 25-3 15 7 25 3 20 1 5-4 20 6 5-4 10 7 10-3 20 3 5 6 35-2 10 8 25-8 10 8 20-7 45 10 15 1 10-5 10 6 75 4 90-2 40 8 10-4 15 3 20-2 10 7 15-3 5 3 10-3 25 5 10-8 5 4 10-3 10 6 5-4 35 6" stroke="#32CD32" stroke-width="20"/>
<path d="M12210 5084l10 2 5-11 5 0 30 18 15-8 10 12 15-22 5 1 5-6 5 2 10-13 15-49 20 31 15 3 30-53 15-13 10 7 15 28 15-13 25-74 10-15 15 16 5-3 5 14 15-4 10-11 25 1 15 43 10 10 25-35 10-6 30 47 10 5 5-5 5 2 15-44 10-15 10 10 10 49 35 253 5-559 5-7 45 39 5-6 15 6 20 448 5-590 5-40 25 43 30-2 5-8 10 2 15 18 10-2 10 13 10-8 5 1 10 14 10 4 15-13 20 219 5-306 5-36 15 77 35 358 20 110 20 85 10 24 5-646 5-126 25 193 15 0 10-13 10 5 15-18 45 420 15 85 25 82 5-708 5 0 20 131 5 5 20-7 5 8 5-2 5 9 15-17 15 13 25 1 15 23 5 1 15 39 25 150 55 142 20 32 30 22 5-3 15 29 10 11 10-4 5 4 30 38 5-8 15 7 10-4 10 17 5 4 5-3 15 17 20-2 10 13 15-3 5 7 15 0 15 17 10-3 10 8 10-5 10 1 25 17 5-2 10 13 15-1 5 10 5-2 5 6 35-3 10 8 20-1 15 13 25-20 25-98 30 48 25-29 15-33 10 6 20 35 10 4 20-30 10 3 10 19 30 105 15 32 10-14 25-159 15-60 10-14 10 6 20-7 5-19 10-13 10 7 30 240 30 166 20 79 5 3 5 33 40 92 5-1010 5-14 20 72 15 3 10 18 5 0 15 37 20 100 20 182 25 398 5-867 5-16 35 52 20 102 15 158 25 529 5-897 5-46 20 83 10 24 5 2 10 31 20 136 20 293 10 235 5-783 5-12 10 61 5-5 5 4 10 17 15 56 20 164 20 322 5-635 5-8 15 58 15 16 10 27 10 45 15 125 25 398 5-674 5-39 20 89 15 21 10-4 20 40 25 111 5 50 10-171 15 33 5 121 25 260 10 8 10 37 25 40 10 25 40 37 30 47 15 10 10 15 5 2 5-8 25 30 25 7 45-104 35 41 45-70 20 41 10-5 10-12 20-66 5-4 5-2 5 6 15 36 20 6 10-20 15-66 25 10 20 35 10-7 10-28 20-12 25 7 20-14 15-24 10-2 25 33 20-22 15 8 15-9 60 506 40 229 30 126 55 169 60 125 65 84 45 41 75 50 140 59 15-1 40 14 10-3 10 11 15-5 15 9 20 1 5 5 10-2 20 7 20 0 25 7 25-1 10 9 40 1 10 4 10-3 10 10 15-2 20 8 10-6 10 5 35 0 15 9 10-4 50 6 15-3 10 4 5-3 30 9 25-5 35 10 15-5 10 7 20-8 25 11 45-3 45 3 10 5 20-5 15 8 10-9 20 12 5-5 10 4 25-5 10 7 20-6 10 4 20-2 10 6 20-6 10 4 10-5 10 6 20-2 10 4 10-5 10 7 40-4" stroke="#8A9A5B" stroke-width="20"/>
<path d="M12210 4972l20 12 20-2 10-6 15 17 5-2 15-6 20-33 10-6 10-22 15-13 15 40 5 2 45-78 10 3 10 10 20 28 20-50 15-66 5-4 20 33 5-9 10 7 5-5 15 2 5-5 10 0 25 61 5-10 5 1 10-11 10-21 10-3 35 46 10-1 25-55 5-3 15 40 20 113 15 122 5-516 5-17 25 25 20 0 10 18 15 1 20 330 5-468 5-57 5 0 20 57 15 0 5-8 30 13 15-3 10 9 10-3 10 10 5-5 35 10 20 201 5-325 5-17 20 243 25 216 30 151 20 61 5-719 5-42 20 171 5 8 15 0 5-9 15 0 15-16 35 353 20 127 15 71 10 26 5-621 5-101 25 156 20 9 5-5 5 3 5-4 5 7 5-4 5 3 15-11 15 17 10-10 10 8 5 12 10 4 10 26 40 201 30 62 15 51 35 24 20 40 25 14 20 3 15 22 20 12 20 3 25 23 10-1 5 6 10 5 5-2 45 27 10-4 20 17 20-4 15 11 5 0 10 16 5 0 10-12 5 5 5-2 5 8 15 7 10 13 15-5 5 3 10-8 5 6 10-1 15 19 10-13 15 7 5-8 20-73 15-29 15 25 15 10 10-9 20-47 10 2 10 9 15 31 5 2 15-8 15-32 20 49 40 129 10-26 25-162 15-58 10-10 15 13 30-33 10 6 20 210 30 234 45 224 20 75 15 32 5-1192 5-14 20 85 5 3 5-3 10 18 5-5 20 51 15 76 20 166 30 503 5-963 5-35 20 85 10-1 10 32 15 72 20 239 20 438 5-853 5-18 25 49 10 2 20 79 20 176 20 348 5-713 5-27 15 95 15 28 10 32 10 62 15 162 20 370 5-699 5-85 25 114 10 6 15 42 15 88 20 243 15 314 5-760 5-23 10 40 5 48 10 0 15 20 15 36 25 140 10-193 5 0 15 42 5 148 25 252 10 7 15 51 15 28 25 37 10-3 5 5 15 43 5 5 5-4 10 2 30 36 15 6 30 47 20-8 40-99 10-3 10 7 15 26 10 4 30-59 10-1 15 32 10 0 40-72 15 7 15 19 15-7 25-71 10-6 5 5 5-4 25 50 15-31 20-25 5 5 5-7 5 1 15 15 5-7 15-5 15-22 20 5 25 20 15-24 15 7 10-4 35 370 35 288 30 188 40 184 55 183 55 118 45 68 75 78 40 29 15 4 10 14 5-1 45 26 20 4 15 15 5-4 20 5 10 14 10-3 15 10 20 0 15 10 25 0 15 9 40 7 15 8 10-2 25 9 10-3 15 12 20-4 15 9 25-3 40 11 10-2 10 7 20-4 5 6 15-2 10 9 10-7 20 8 15-7 10 13 20-5 20 7 5-3 25 1 10 7 15-4 10 5 20-6 15 9 10-2 35 9 10-6 10 6 25-5 10 8 40-4 10 7 20-2 10 5 10-5 25 5 40-3 30 9 35-5 10 5 30-2 35 6 20-5 20 8 20-5 35 1 25 6" stroke="#98FB98" stroke-width="20"/>
<path d="M12210 5054l10-3 10 11 10-17 10-2 10 4 5 10 15-13 10 14 5 0 10-21 10-1 5-7 20-47 10 7 15 27 10-2 10-23 10-11 10-35 10-12 20 35 10-1 15 8 10-19 20-72 10-8 10 11 10-7 5 36 15-24 25 0 20 54 10 5 25-44 25 14 15 26 15 7 30-60 10 20 15 59 30 209 5-543 5-23 20 52 15 15 5 12 15-11 10 10 10 141 15 372 5-682 5-6 20 27 20 1 5-4 15 15 10-13 20 6 5 9 15-5 15 26 5-2 15 6 10-11 20 192 5-256 5-26 10 33 20 191 35 220 35 157 15 48 10 17 5 24 25 55 5-743 5-84 20 86 15 157 45 306 50 204 35 83 5-792 5-73 25 148 15-2 10 12 15-9 10 17 30 154 25 94 10 11 35 84 10 10 5-6 30 46 10 6 10 1 5-4 15 26 20 6 5-2 25 28 20 6 30 20 5-8 10 3 15 9 15 18 20 8 15-13 25 31 20-10 20 23 15-6 20 11 15-4 20 17 10-8 20 12 20-6 15 15 35-107 30 31 10-5 20-36 20-12 20 34 15 8 15-31 5-1 15 20 15 61 25 67 5 3 10-20 40-215 10 7 15-7 5 4 25-37 5 4 35 294 20 127 35 166 35 90 5 24 5-1044 5-63 25 87 10-4 10 4 5 15 5-1 5 7 20 64 10 53 25 235 20 315 5-813 5-37 20 36 10 6 10 30 20 112 20 255 15 339 5-791 5-91 15 58 5 42 10 8 5 25 5 2 5 18 20 141 10 133 20 415 5-803 5-10 20 52 10 0 25 116 20 220 15 294 5-722 5-2 20 69 10 12 20 57 20 172 20 315 5-603 5-72 25 122 5-5 5 12 5-1 10 17 5-4 20 64 15 89 10-204 15 70 5 140 25 255 10 7 10 39 10 8 15 32 15 22 15 7 25 44 20 17 10 2 20 40 25 14 5-2 15 21 5 1 20-13 30-85 15-1 10 11 15 34 5-1 25-69 10-13 10 9 10 30 10 10 15-16 20-65 10-8 5 4 15 31 10 9 20-26 25-63 5-2 30 52 10-9 20-39 15 6 30-7 15-27 10-3 15 9 10 0 15 17 20-25 5 10 5-6 10 2 5 7 55 519 30 203 40 189 45 159 40 96 55 95 55 65 10 1 25 27 40 23 10 11 40 23 30 8 25 17 15-1 10 8 10-3 15 14 45 7 10 7 25 2 10 5 5-2 35 15 10-4 10 7 15-1 30 10 10-2 10 8 10-6 40 10 10-3 30 13 10-3 5 5 10-4 30 7 10-2 10 7 10-7 10 7 25 5 20-4 5 5 35 1 5 5 20 1 10-4 25 11 25-6 25 8 10-6 10 6 15-5 20 6 10-3 40 12 15-7 20 4 10-3 20 9 10-10 20 9 20-4 15 5 10-2 15 6 15-5 10 5 15-4 10 5 35-4 10 7 10-5 10 4 50-3 10 4 15-4 55 4" stroke="#93C572" stroke-width="20"/>
<path d="M12210 5889H12519L12529 6005H12546L12554 5889H13001L13011 6447H13012L13020 5889H13024L13034 6447H13046L13054 5889H13133L13143 6447H13209L13217 5889H14356L14366 6447H14515L14523 5889H14533L14543 6447H14546L14554 5889H14725L14735 6447H14753L14761 5889H14826L14836 6447H14856L14864 5889H14927L14937 6447H14958L14966 5889H15029L15039 6447H15062L15070 5889H15134L15144 6447H15159L15167 5889H15188L15198 6447H15203L15211 5889H15922L15928 6447H17567" stroke="#000" stroke-width="18" stroke-opacity="0.3"/>
<path d="M12210 5886H12771L12781 6447H12782L12790 5886H12796L12806 6447H12811L12819 5886H13028L13038 6447H13045L13053 5886H13254L13264 6447H13377L13385 5886H13435L13445 6060H13464L13472 5886H14367L14377 6447H14508L14516 5886H14621L14631 6447H14651L14659 5886H15027L15037 6447H15061L15069 5886H15133L15143 6447H15159L15167 5886H15870L15880 5970H15896L15904 5886H15922L15928 6447H17567" stroke="#000" stroke-width="18" stroke-opacity="0.3"/>
<path d="M12210 5883H13082L13092 6447H13211L13219 5883H13281L13291 6447H13300L13308 5883H13313L13323 6447H13373L13381 5883H13435L13445 6060H13464L13472 5883H14371L14381 6447H14507L14515 5883H14723L14733 6447H14754L14762 5883H15029L15039 6447H15060L15068 5883H15191L15201 6447H15203L15211 5883H15740L15750 6447H15785L15793 5883H15917L15923 6447H17567" stroke="#000" stroke-width="18" stroke-opacity="0.3"/>
<path d="M12210 5880H12491L12501 6447H12519L12527 5880H12858L12868 6447H12881L12889 5880H13026L13036 6447H13047L13055 5880H13254L13264 6447H13302L13310 5880H13311L13321 6447H13380L13388 5880H14379L14389 6447H14506L14514 5880H14560L14570 6447H14568L14576 5880H14621L14631 6447H14652L14660 5880H14824L14834 6447H14857L14865 5880H14926L14936 6447H14958L14966 5880H15029L15039 6447H15060L15068 5880H15134L15144 6447H15159L15167 5880H15870L15880 5970H15896L15904 5880H15920L15926 6447H17567" stroke="#000" stroke-width="18" stroke-opacity="0.3"/>
<path d="M12210 5888H12861L12871 6447H12877L12885 5888H13235L13245 6447H13378L13386 5888H13435L13445 6060H13464L13472 5888H14357L14367 6447H14508L14516 5888H14725L14735 6447H14753L14761 5888H14825L14835 6447H14855L14863 5888H14927L14937 6447H14958L14966 5888H15870L15880 5970H15896L15904 5888H15922L15928 6447H17567" stroke="#000" stroke-width="18" stroke-opacity="0.3"/>
<path d="M12210 5834H12519L12529 6005H12546L12554 5834H12802L12812 6447H12814L12822 5834H12857L12867 6447H12883L12891 5834H13282L13292 6447H13378L13386 5834H13435L13445 6060H13464L13472 5834H14356L14366 6447H14511L14519 5834H14620L14630 6447H14651L14659 5834H14723L14733 6447H14754L14762 5834H14927L14937 6447H14958L14966 5834H15188L15198 6447H15201L15209 5834H15870L15880 5970H15896L15904 5834H15922L15928 6447H17567" stroke="#000" stroke-width="18" stroke-opacity="0.3"/>
<path d="M12210 5832H12519L12529 6005H12546L12554 5832H12704L12714 6447H12750L12758 5832H13435L13445 6060H13464L13472 5832H14364L14374 6447H14508L14516 5832H14620L14630 6447H14652L14660 5832H14826L14836 6447H14856L14864 5832H15027L15037 6447H15061L15069 5832H15870L15880 5970H15896L15904 5832H15925L15931 6447H17567" stroke="#000" stroke-width="18" stroke-opacity="0.3"/>
<path d="M12210 5831H12487L12497 6447H12522L12530 5831H12862L12872 6447H12878L12886 5831H13001L13011 6447H13013L13021 5831H13029L13039 6447H13046L13054 5831H14354L14364 6447H14506L14514 5831H14619L14629 6447H14650L14658 5831H14927L14937 6447H14960L14968 5831H15029L15039 6447H15059L15067 5831H15190L15200 6447H15203L15211 5831H15870L15880 5970H15896L15904 5831H15920L15926 6447H17567" stroke="#000" stroke-width="18" stroke-opacity="0.3"/>
<path d="M12210 5830H12519L12529 6005H12546L12554 5830H12698L12708 6447H12753L12761 5830H12776L12786 6447H12785L12793 5830H12864L12874 6447H12884L12892 5830H13080L13090 6447H13210L13218 5830H13284L13294 6447H13382L13390 5830H14374L14384 6447H14501L14509 5830H14620L14630 6447H14651L14659 5830H15922L15928 6447H17567" stroke="#000" stroke-width="18" stroke-opacity="0.3"/>
<path d="M12210 5829H12487L12497 6447H12519L12527 5829H12697L12707 6447H12751L12759 5829H12766L12776 6447H12785L12793 5829H13024L13034 6447H13049L13057 5829H13134L13144 6447H13212L13220 5829H14363L14373 6447H14513L14521 5829H14621L14631 6447H14653L14661 5829H14827L14837 6447H14857L14865 5829H15191L15201 6447H15202L15210 5829H15870L15880 5970H15896L15904 5829H15919L15925 6447H17567" stroke="#000" stroke-width="18" stroke-opacity="0.3"/>
<path d="M12210 5829H12480L12490 6447H12519L12527 5829H12862L12872 6447H12881L12889 5829H13027L13037 6447H13049L13057 5829H13081L13091 6447H13210L13218 5829H14350L14360 6447H14511L14519 5829H14532L14542 6447H14541L14549 5829H14621L14631 6447H14651L14659 5829H14928L14938 6447H14957L14965 5829H15135L15145 6447H15159L15167 5829H15186L15196 6447H15200L15208 5829H15922L15928 6447H17567" stroke="#000" stroke-width="18" stroke-opacity="0.3"/>
<path d="M12210 5828H12519L12529 6005H12546L12554 5828H12704L12714 6447H12755L12763 5828H12860L12870 6447H12882L12890 5828H13024L13034 6447H13049L13057 5828H13231L13241 6447H13381L13389 5828H14354L14364 6447H14515L14523 5828H14721L14731 6447H14753L14761 5828H14825L14835 6447H14856L14864 5828H15030L15040 6447H15058L15066 5828H15134L15144 6447H15160L15168 5828H15189L15199 6447H15203L15211 5828H15870L15880 5970H15896L15904 5828H15926L15932 6447H17567" stroke="#000" stroke-width="18" stroke-opacity="0.3"/>
<path d="M12210 5828H12519L12529 6005H12546L12554 5828H12701L12711 6447H12754L12762 5828H12859L12869 6447H12881L12889 5828H13280L13290 6447H13378L13386 5828H13435L13445 6060H13464L13472 5828H14353L14363 6447H14510L14518 5828H14560L14570 6447L14578 5828H14824L14834 6447H14856L14864 5828H15131L15141 6447H15158L15166 5828H15191L15201 6447H15202L15210 5828H15926L15932 6447H17567" stroke="#000" stroke-width="18" stroke-opacity="0.3"/>
<path d="M12210 5827H12482L12492 6447H12519L12527 5827H12705L12715 6447H12751L12759 5827H12865L12875 6447H12880L12888 5827H12980L12990 6447H12998L13006 5827H13023L13033 6447H13048L13056 5827H13079L13089 6447H13209L13217 5827H13257L13267 6447H13378L13386 5827H13435L13445 6060H13464L13472 5827H14357L14367 6447H14508L14516 5827H14587L14597 6447H14598L14606 5827H14620L14630 6447H14653L14661 5827H14928L14938 6447H14960L14968 5827H15135L15145 6447H15158L15166 5827H15191L15201 6447H15202L15210 5827H15929L15935 6447H17567" stroke="#000" stroke-width="18" stroke-opacity="0.3"/>
<path d="M12210 5827H12483L12493 6447H12524L12532 5827H12706L12716 6447H12750L12758 5827H13026L13036 6447H13048L13056 5827H13133L13143 6447H13208L13216 5827H13435L13445 6060H13464L13472 5827H14315L14325 6080H14356L14364 5827H14366L14376 6447H14510L14518 5827H14619L14629 6447H14650L14658 5827H15029L15039 6447H15059L15067 5827H15130L15140 6447H15160L15168 5827H15924L15930 6447H17567" stroke="#000" stroke-width="18" stroke-opacity="0.3"/>
<path d="M12210 5826H12488L12498 6447H12519L12527 5826H12862L12872 6447H12878L12886 5826H13083L13093 6447H13205L13213 5826H13435L13445 6060H13464L13472 5826H14356L14366 6447H14512L14520 5826H14723L14733 6447H14756L14764 5826H15189L15199 6447H15202L15210 5826H15870L15880 5970H15896L15904 5826H15922L15928 6447H17567" stroke="#000" stroke-width="18" stroke-opacity="0.3"/>
</g>
</g>
<rect x="117.70" y="1.70" width="535.70" height="306.30" fill="none" stroke="#000" stroke-width="4.2" stroke-linejoin="miter"/>
<rect x="117.70" y="338.50" width="535.70" height="306.20" fill="none" stroke="#000" stroke-width="4.2" stroke-linejoin="miter"/>
<rect x="669.50" y="1.70" width="535.70" height="306.30" fill="none" stroke="#000" stroke-width="4.2" stroke-linejoin="miter"/>
<rect x="669.50" y="338.50" width="535.70" height="306.20" fill="none" stroke="#000" stroke-width="4.2" stroke-linejoin="miter"/>
<rect x="1221.00" y="1.70" width="535.80" height="306.30" fill="none" stroke="#000" stroke-width="4.2" stroke-linejoin="miter"/>
<rect x="1221.00" y="338.50" width="535.80" height="306.20" fill="none" stroke="#000" stroke-width="4.2" stroke-linejoin="miter"/>
<line x1="101.40" x2="117.70" y1="243.54" y2="243.54" stroke="#000" stroke-width="4.2"/>
<text x="85.5" y="255.44" font-size="32.7" text-anchor="end">10</text>
<line x1="101.40" x2="117.70" y1="114.62" y2="114.62" stroke="#000" stroke-width="4.2"/>
<text x="85.5" y="126.52" font-size="32.7" text-anchor="end">12</text>
<line x1="108.40" x2="117.70" y1="275.77" y2="275.77" stroke="#000" stroke-width="3.1"/>
<line x1="108.40" x2="117.70" y1="211.31" y2="211.31" stroke="#000" stroke-width="3.1"/>
<line x1="108.40" x2="117.70" y1="179.08" y2="179.08" stroke="#000" stroke-width="3.1"/>
<line x1="108.40" x2="117.70" y1="146.85" y2="146.85" stroke="#000" stroke-width="3.1"/>
<line x1="108.40" x2="117.70" y1="82.39" y2="82.39" stroke="#000" stroke-width="3.1"/>
<line x1="108.40" x2="117.70" y1="50.16" y2="50.16" stroke="#000" stroke-width="3.1"/>
<line x1="108.40" x2="117.70" y1="17.93" y2="17.93" stroke="#000" stroke-width="3.1"/>
<line x1="101.40" x2="117.70" y1="580.24" y2="580.24" stroke="#000" stroke-width="4.2"/>
<text x="85.5" y="592.14" font-size="32.7" text-anchor="end">10</text>
<line x1="101.40" x2="117.70" y1="451.32" y2="451.32" stroke="#000" stroke-width="4.2"/>
<text x="85.5" y="463.22" font-size="32.7" text-anchor="end">12</text>
<line x1="108.40" x2="117.70" y1="612.47" y2="612.47" stroke="#000" stroke-width="3.1"/>
<line x1="108.40" x2="117.70" y1="548.01" y2="548.01" stroke="#000" stroke-width="3.1"/>
<line x1="108.40" x2="117.70" y1="515.78" y2="515.78" stroke="#000" stroke-width="3.1"/>
<line x1="108.40" x2="117.70" y1="483.55" y2="483.55" stroke="#000" stroke-width="3.1"/>
<line x1="108.40" x2="117.70" y1="419.09" y2="419.09" stroke="#000" stroke-width="3.1"/>
<line x1="108.40" x2="117.70" y1="386.86" y2="386.86" stroke="#000" stroke-width="3.1"/>
<line x1="108.40" x2="117.70" y1="354.63" y2="354.63" stroke="#000" stroke-width="3.1"/>
<line x1="117.70" x2="117.70" y1="644.70" y2="661.00" stroke="#000" stroke-width="4.2"/>
<line x1="200.30" x2="200.30" y1="644.70" y2="661.00" stroke="#000" stroke-width="4.2"/>
<line x1="365.00" x2="365.00" y1="644.70" y2="661.00" stroke="#000" stroke-width="4.2"/>
<line x1="529.70" x2="529.70" y1="644.70" y2="661.00" stroke="#000" stroke-width="4.2"/>
<line x1="653.40" x2="653.40" y1="644.70" y2="661.00" stroke="#000" stroke-width="4.2"/>
<line x1="282.65" x2="282.65" y1="644.70" y2="654.00" stroke="#000" stroke-width="3.1"/>
<line x1="447.35" x2="447.35" y1="644.70" y2="654.00" stroke="#000" stroke-width="3.1"/>
<line x1="612.10" x2="612.10" y1="644.70" y2="654.00" stroke="#000" stroke-width="3.1"/>
<text x="200.30" y="689.2" font-size="32.7" text-anchor="middle">00:00</text>
<text x="200.30" y="723.2" font-size="32.7" text-anchor="middle">09-Feb</text>
<text x="365.00" y="689.2" font-size="32.7" text-anchor="middle">00:00</text>
<text x="365.00" y="723.2" font-size="32.7" text-anchor="middle">10-Feb</text>
<text x="529.70" y="689.2" font-size="32.7" text-anchor="middle">00:00</text>
<text x="529.70" y="723.2" font-size="32.7" text-anchor="middle">11-Feb</text>
<line x1="669.50" x2="669.50" y1="644.70" y2="661.00" stroke="#000" stroke-width="4.2"/>
<line x1="752.10" x2="752.10" y1="644.70" y2="661.00" stroke="#000" stroke-width="4.2"/>
<line x1="916.80" x2="916.80" y1="644.70" y2="661.00" stroke="#000" stroke-width="4.2"/>
<line x1="1081.50" x2="1081.50" y1="644.70" y2="661.00" stroke="#000" stroke-width="4.2"/>
<line x1="1205.20" x2="1205.20" y1="644.70" y2="661.00" stroke="#000" stroke-width="4.2"/>
<line x1="834.45" x2="834.45" y1="644.70" y2="654.00" stroke="#000" stroke-width="3.1"/>
<line x1="999.15" x2="999.15" y1="644.70" y2="654.00" stroke="#000" stroke-width="3.1"/>
<line x1="1163.90" x2="1163.90" y1="644.70" y2="654.00" stroke="#000" stroke-width="3.1"/>
<text x="752.10" y="689.2" font-size="32.7" text-anchor="middle">00:00</text>
<text x="752.10" y="723.2" font-size="32.7" text-anchor="middle">09-Feb</text>
<text x="916.80" y="689.2" font-size="32.7" text-anchor="middle">00:00</text>
<text x="916.80" y="723.2" font-size="32.7" text-anchor="middle">10-Feb</text>
<text x="1081.50" y="689.2" font-size="32.7" text-anchor="middle">00:00</text>
<text x="1081.50" y="723.2" font-size="32.7" text-anchor="middle">11-Feb</text>
<line x1="1221.00" x2="1221.00" y1="644.70" y2="661.00" stroke="#000" stroke-width="4.2"/>
<line x1="1303.60" x2="1303.60" y1="644.70" y2="661.00" stroke="#000" stroke-width="4.2"/>
<line x1="1468.30" x2="1468.30" y1="644.70" y2="661.00" stroke="#000" stroke-width="4.2"/>
<line x1="1633.00" x2="1633.00" y1="644.70" y2="661.00" stroke="#000" stroke-width="4.2"/>
<line x1="1756.80" x2="1756.80" y1="644.70" y2="661.00" stroke="#000" stroke-width="4.2"/>
<line x1="1385.95" x2="1385.95" y1="644.70" y2="654.00" stroke="#000" stroke-width="3.1"/>
<line x1="1550.65" x2="1550.65" y1="644.70" y2="654.00" stroke="#000" stroke-width="3.1"/>
<line x1="1715.40" x2="1715.40" y1="644.70" y2="654.00" stroke="#000" stroke-width="3.1"/>
<text x="1303.60" y="689.2" font-size="32.7" text-anchor="middle">00:00</text>
<text x="1303.60" y="723.2" font-size="32.7" text-anchor="middle">09-Feb</text>
<text x="1468.30" y="689.2" font-size="32.7" text-anchor="middle">00:00</text>
<text x="1468.30" y="723.2" font-size="32.7" text-anchor="middle">10-Feb</text>
<text x="1633.00" y="689.2" font-size="32.7" text-anchor="middle">00:00</text>
<text x="1633.00" y="723.2" font-size="32.7" text-anchor="middle">11-Feb</text>
<line x1="1756.80" x2="1773.10" y1="644.70" y2="644.70" stroke="#000" stroke-width="4.2"/>
<text x="1789.4" y="656.60" font-size="32.7">0</text>
<line x1="1756.80" x2="1773.10" y1="517.10" y2="517.10" stroke="#000" stroke-width="4.2"/>
<text x="1789.4" y="529.00" font-size="32.7">50</text>
<line x1="1756.80" x2="1773.10" y1="389.50" y2="389.50" stroke="#000" stroke-width="4.2"/>
<text x="1789.4" y="401.40" font-size="32.7">100</text>
<line x1="1756.80" x2="1766.10" y1="619.18" y2="619.18" stroke="#000" stroke-width="3.1"/>
<line x1="1756.80" x2="1766.10" y1="593.66" y2="593.66" stroke="#000" stroke-width="3.1"/>
<line x1="1756.80" x2="1766.10" y1="568.14" y2="568.14" stroke="#000" stroke-width="3.1"/>
<line x1="1756.80" x2="1766.10" y1="542.62" y2="542.62" stroke="#000" stroke-width="3.1"/>
<line x1="1756.80" x2="1766.10" y1="491.58" y2="491.58" stroke="#000" stroke-width="3.1"/>
<line x1="1756.80" x2="1766.10" y1="466.06" y2="466.06" stroke="#000" stroke-width="3.1"/>
<line x1="1756.80" x2="1766.10" y1="440.54" y2="440.54" stroke="#000" stroke-width="3.1"/>
<line x1="1756.80" x2="1766.10" y1="415.02" y2="415.02" stroke="#000" stroke-width="3.1"/>
<line x1="1756.80" x2="1766.10" y1="363.98" y2="363.98" stroke="#000" stroke-width="3.1"/>
<line x1="1756.80" x2="1766.10" y1="338.46" y2="338.46" stroke="#000" stroke-width="3.1"/>
<text transform="translate(24.1,153.9) rotate(-90)" font-size="32.7" text-anchor="middle">Inlet temp. (°C)</text>
<text transform="translate(24.1,491.7) rotate(-90)" font-size="32.7" text-anchor="middle">Outlet temp. (°C)</text>
<text transform="translate(1885,491.2) rotate(-90)" font-size="32.7" text-anchor="middle">Volume flow (l/min)</text>
<text x="129.9" y="44.30" font-size="39.0">A</text>
<text x="677.8" y="44.60" font-size="39.0">B</text>
<text x="1230.6" y="43.90" font-size="39.0">C</text>
<text x="129.9" y="381.10" font-size="39.0">A</text>
<text x="677.8" y="381.40" font-size="39.0">B</text>
<text x="1230.6" y="380.70" font-size="39.0">C</text>
<rect x="127.20" y="765.6" width="516.70" height="126.80" fill="#fff" stroke="#d6d6d6" stroke-width="4.3"/>
<line x1="135.70" x2="168.80" y1="787.30" y2="787.30" stroke="#4169E1" stroke-width="5"/>
<text x="188.00" y="797.20" font-size="27.5">01</text>
<line x1="135.70" x2="168.80" y1="826.40" y2="826.40" stroke="#0047AB" stroke-width="5"/>
<text x="188.00" y="836.30" font-size="27.5">02</text>
<line x1="135.70" x2="168.80" y1="865.90" y2="865.90" stroke="#87CEEB" stroke-width="5"/>
<text x="188.00" y="875.80" font-size="27.5">03</text>
<line x1="239.20" x2="272.30" y1="787.30" y2="787.30" stroke="#0000FF" stroke-width="5"/>
<text x="291.50" y="797.20" font-size="27.5">04</text>
<line x1="239.20" x2="272.30" y1="826.40" y2="826.40" stroke="#7393B3" stroke-width="5"/>
<text x="291.50" y="836.30" font-size="27.5">05</text>
<line x1="239.20" x2="272.30" y1="865.90" y2="865.90" stroke="#0096FF" stroke-width="5"/>
<text x="291.50" y="875.80" font-size="27.5">06</text>
<line x1="342.70" x2="375.80" y1="787.30" y2="787.30" stroke="#00FFFF" stroke-width="5"/>
<text x="395.00" y="797.20" font-size="27.5">07</text>
<line x1="342.70" x2="375.80" y1="826.40" y2="826.40" stroke="#6495ED" stroke-width="5"/>
<text x="395.00" y="836.30" font-size="27.5">08</text>
<line x1="446.20" x2="479.30" y1="787.30" y2="787.30" stroke="#6F8FAF" stroke-width="5"/>
<text x="498.50" y="797.20" font-size="27.5">09</text>
<line x1="446.20" x2="479.30" y1="826.40" y2="826.40" stroke="#6082B6" stroke-width="5"/>
<text x="498.50" y="836.30" font-size="27.5">10</text>
<line x1="549.70" x2="582.80" y1="787.30" y2="787.30" stroke="#5D3FD3" stroke-width="5"/>
<text x="602.00" y="797.20" font-size="27.5">11</text>
<line x1="549.70" x2="582.80" y1="826.40" y2="826.40" stroke="#ADD8E6" stroke-width="5"/>
<text x="602.00" y="836.30" font-size="27.5">12</text>
<rect x="678.80" y="765.6" width="517.20" height="126.80" fill="#fff" stroke="#d6d6d6" stroke-width="4.3"/>
<line x1="687.30" x2="720.40" y1="787.30" y2="787.30" stroke="#E1C16E" stroke-width="5"/>
<text x="739.60" y="797.20" font-size="27.5">13</text>
<line x1="687.30" x2="720.40" y1="826.40" y2="826.40" stroke="#CD7F32" stroke-width="5"/>
<text x="739.60" y="836.30" font-size="27.5">14</text>
<line x1="687.30" x2="720.40" y1="865.90" y2="865.90" stroke="#A52A2A" stroke-width="5"/>
<text x="739.60" y="875.80" font-size="27.5">15</text>
<line x1="790.80" x2="823.90" y1="787.30" y2="787.30" stroke="#F5DEB3" stroke-width="5"/>
<text x="843.10" y="797.20" font-size="27.5">16</text>
<line x1="790.80" x2="823.90" y1="826.40" y2="826.40" stroke="#DAA06D" stroke-width="5"/>
<text x="843.10" y="836.30" font-size="27.5">17</text>
<line x1="790.80" x2="823.90" y1="865.90" y2="865.90" stroke="#800020" stroke-width="5"/>
<text x="843.10" y="875.80" font-size="27.5">18</text>
<line x1="894.30" x2="927.40" y1="787.30" y2="787.30" stroke="#6E260E" stroke-width="5"/>
<text x="946.60" y="797.20" font-size="27.5">19</text>
<line x1="894.30" x2="927.40" y1="826.40" y2="826.40" stroke="#C19A6B" stroke-width="5"/>
<text x="946.60" y="836.30" font-size="27.5">20</text>
<line x1="997.80" x2="1030.90" y1="787.30" y2="787.30" stroke="#D27D2D" stroke-width="5"/>
<text x="1050.10" y="797.20" font-size="27.5">21</text>
<line x1="997.80" x2="1030.90" y1="826.40" y2="826.40" stroke="#E97451" stroke-width="5"/>
<text x="1050.10" y="836.30" font-size="27.5">22</text>
<line x1="1101.30" x2="1134.40" y1="787.30" y2="787.30" stroke="#6F4E37" stroke-width="5"/>
<text x="1153.60" y="797.20" font-size="27.5">24</text>
<line x1="1101.30" x2="1134.40" y1="826.40" y2="826.40" stroke="#5C4033" stroke-width="5"/>
<text x="1153.60" y="836.30" font-size="27.5">25</text>
<rect x="1230.40" y="765.6" width="517.20" height="166.00" fill="#fff" stroke="#d6d6d6" stroke-width="4.3"/>
<line x1="1238.90" x2="1272.00" y1="787.30" y2="787.30" stroke="#097969" stroke-width="5"/>
<text x="1291.20" y="797.20" font-size="27.5">23</text>
<line x1="1238.90" x2="1272.00" y1="826.40" y2="826.40" stroke="#AFE1AF" stroke-width="5"/>
<text x="1291.20" y="836.30" font-size="27.5">26</text>
<line x1="1238.90" x2="1272.00" y1="865.90" y2="865.90" stroke="#E4D00A" stroke-width="5"/>
<text x="1291.20" y="875.80" font-size="27.5">27</text>
<line x1="1238.90" x2="1272.00" y1="905.30" y2="905.30" stroke="#50C878" stroke-width="5"/>
<text x="1291.20" y="915.20" font-size="27.5">28</text>
<line x1="1342.40" x2="1375.50" y1="787.30" y2="787.30" stroke="#5F8575" stroke-width="5"/>
<text x="1394.70" y="797.20" font-size="27.5">29</text>
<line x1="1342.40" x2="1375.50" y1="826.40" y2="826.40" stroke="#4F7942" stroke-width="5"/>
<text x="1394.70" y="836.30" font-size="27.5">30</text>
<line x1="1342.40" x2="1375.50" y1="865.90" y2="865.90" stroke="#228B22" stroke-width="5"/>
<text x="1394.70" y="875.80" font-size="27.5">31</text>
<line x1="1445.90" x2="1479.00" y1="787.30" y2="787.30" stroke="#7CFC00" stroke-width="5"/>
<text x="1498.20" y="797.20" font-size="27.5">32</text>
<line x1="1445.90" x2="1479.00" y1="826.40" y2="826.40" stroke="#008000" stroke-width="5"/>
<text x="1498.20" y="836.30" font-size="27.5">33</text>
<line x1="1445.90" x2="1479.00" y1="865.90" y2="865.90" stroke="#355E3B" stroke-width="5"/>
<text x="1498.20" y="875.80" font-size="27.5">34</text>
<line x1="1549.40" x2="1582.50" y1="787.30" y2="787.30" stroke="#00A36C" stroke-width="5"/>
<text x="1601.70" y="797.20" font-size="27.5">35</text>
<line x1="1549.40" x2="1582.50" y1="826.40" y2="826.40" stroke="#90EE90" stroke-width="5"/>
<text x="1601.70" y="836.30" font-size="27.5">36</text>
<line x1="1549.40" x2="1582.50" y1="865.90" y2="865.90" stroke="#32CD32" stroke-width="5"/>
<text x="1601.70" y="875.80" font-size="27.5">37</text>
<line x1="1652.90" x2="1686.00" y1="787.30" y2="787.30" stroke="#8A9A5B" stroke-width="5"/>
<text x="1705.20" y="797.20" font-size="27.5">38</text>
<line x1="1652.90" x2="1686.00" y1="826.40" y2="826.40" stroke="#98FB98" stroke-width="5"/>
<text x="1705.20" y="836.30" font-size="27.5">39</text>
<line x1="1652.90" x2="1686.00" y1="865.90" y2="865.90" stroke="#93C572" stroke-width="5"/>
<text x="1705.20" y="875.80" font-size="27.5">40</text>
</svg>
</body></html>
